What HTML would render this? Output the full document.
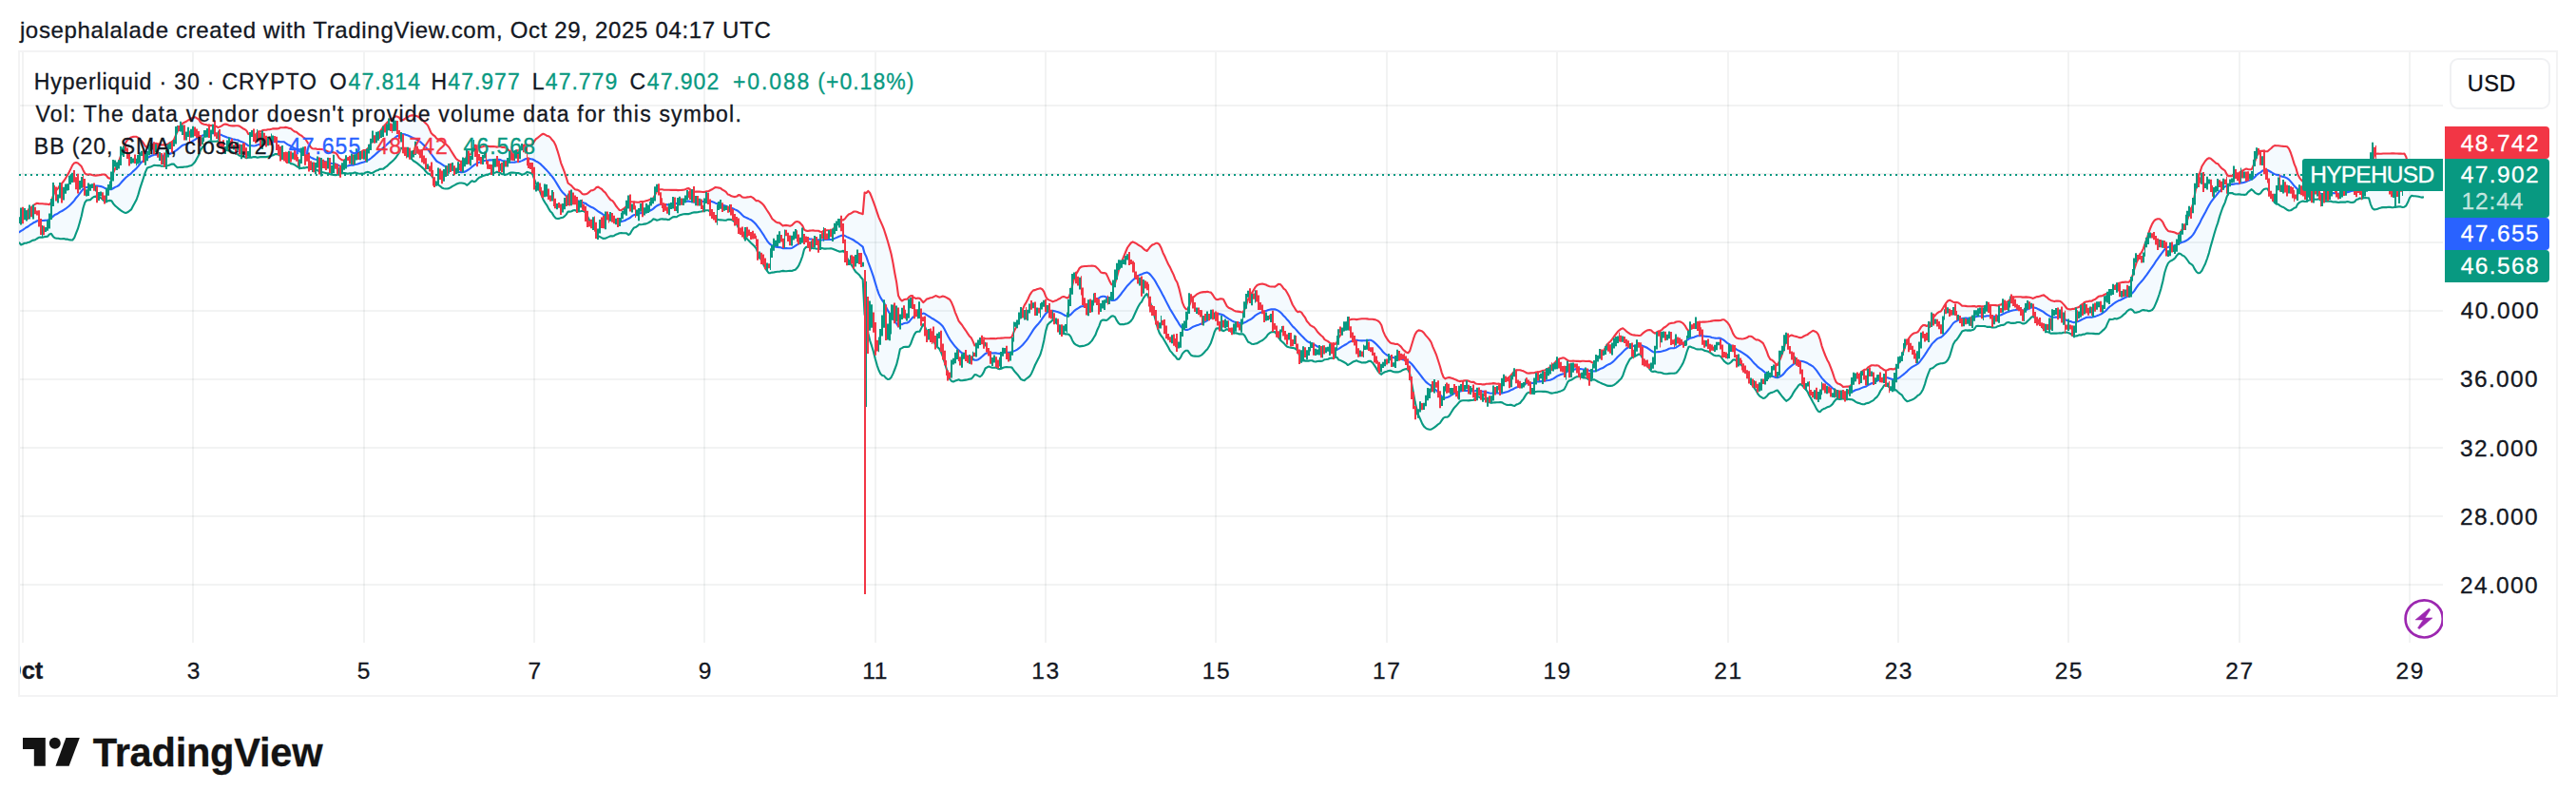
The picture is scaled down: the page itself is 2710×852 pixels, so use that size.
<!DOCTYPE html>
<html><head><meta charset="utf-8"><title>HYPEHUSD chart</title>
<style>
html,body{margin:0;padding:0;background:#fff}
body{width:2710px;height:852px;position:relative;overflow:hidden;font-family:"Liberation Sans",sans-serif}
.t{position:absolute;white-space:pre;display:block;-webkit-text-stroke:0.3px currentColor}
.frame{position:absolute;left:19px;top:53px;width:2668px;height:676px;border:2px solid #f3f3f4}
svg{position:absolute;left:0;top:0}
.tag{position:absolute;left:2572px;width:110px;border-radius:0 4px 4px 0}
.usd{position:absolute;left:2577px;top:61px;width:102px;height:50px;border:2px solid #f0f1f3;border-radius:9px;background:#fff}
.oct{position:absolute;left:21px;top:680px;width:60px;height:50px;overflow:hidden}
</style></head><body>
<div class="frame"></div>
<svg width="2710" height="852" viewBox="0 0 2710 852">
<g><rect x="23.0" y="55" width="2" height="621" fill="rgba(42,46,57,0.06)"/><rect x="202.0" y="55" width="2" height="621" fill="rgba(42,46,57,0.06)"/><rect x="382.0" y="55" width="2" height="621" fill="rgba(42,46,57,0.06)"/><rect x="561.0" y="55" width="2" height="621" fill="rgba(42,46,57,0.06)"/><rect x="740.0" y="55" width="2" height="621" fill="rgba(42,46,57,0.06)"/><rect x="920.0" y="55" width="2" height="621" fill="rgba(42,46,57,0.06)"/><rect x="1099.0" y="55" width="2" height="621" fill="rgba(42,46,57,0.06)"/><rect x="1278.0" y="55" width="2" height="621" fill="rgba(42,46,57,0.06)"/><rect x="1458.0" y="55" width="2" height="621" fill="rgba(42,46,57,0.06)"/><rect x="1637.0" y="55" width="2" height="621" fill="rgba(42,46,57,0.06)"/><rect x="1817.0" y="55" width="2" height="621" fill="rgba(42,46,57,0.06)"/><rect x="1996.0" y="55" width="2" height="621" fill="rgba(42,46,57,0.06)"/><rect x="2175.0" y="55" width="2" height="621" fill="rgba(42,46,57,0.06)"/><rect x="2355.0" y="55" width="2" height="621" fill="rgba(42,46,57,0.06)"/><rect x="2534.0" y="55" width="2" height="621" fill="rgba(42,46,57,0.06)"/><rect x="21" y="110" width="2549" height="2" fill="rgba(42,46,57,0.06)"/><rect x="21" y="182" width="2549" height="2" fill="rgba(42,46,57,0.06)"/><rect x="21" y="254" width="2549" height="2" fill="rgba(42,46,57,0.06)"/><rect x="21" y="326" width="2549" height="2" fill="rgba(42,46,57,0.06)"/><rect x="21" y="398" width="2549" height="2" fill="rgba(42,46,57,0.06)"/><rect x="21" y="470" width="2549" height="2" fill="rgba(42,46,57,0.06)"/><rect x="21" y="542" width="2549" height="2" fill="rgba(42,46,57,0.06)"/><rect x="21" y="614" width="2549" height="2" fill="rgba(42,46,57,0.06)"/></g>
<clipPath id="cp"><rect x="20" y="55" width="2550" height="621"/></clipPath>
<g clip-path="url(#cp)">
<path d="M-28.3,238.2 L-26.4,238.9 L-24.6,239.9 L-22.7,241.1 L-20.8,243.7 L-19.0,245.1 L-17.1,246.2 L-15.2,245.6 L-13.4,246.5 L-11.5,247.2 L-9.6,246.5 L-7.8,245.6 L-5.9,246.2 L-4.0,245.1 L-2.2,243.7 L-0.3,241.1 L1.6,239.9 L3.4,238.9 L5.3,238.2 L7.2,236.4 L9.1,236.5 L10.9,236.2 L12.8,235.8 L14.7,236.7 L16.5,236.5 L18.4,234.7 L20.3,233.0 L22.1,228.4 L24.0,226.9 L25.9,225.2 L27.7,222.7 L29.6,221.5 L31.5,218.9 L33.3,217.9 L35.2,216.0 L37.1,214.7 L38.9,213.8 L40.8,214.1 L42.7,214.3 L44.6,214.2 L46.4,214.5 L48.3,214.6 L50.2,214.7 L52.0,215.1 L53.9,212.8 L55.8,206.4 L57.6,201.6 L59.5,199.9 L61.4,197.6 L63.2,194.5 L65.1,192.9 L67.0,190.5 L68.8,187.8 L70.7,184.7 L72.6,181.2 L74.4,177.6 L76.3,173.6 L78.2,171.4 L80.0,170.9 L81.9,171.5 L83.8,173.2 L85.7,175.1 L87.5,178.9 L89.4,182.4 L91.3,183.6 L93.1,183.5 L95.0,183.4 L96.9,184.0 L98.7,184.5 L100.6,184.6 L102.5,184.4 L104.3,184.2 L106.2,183.9 L108.1,183.5 L109.9,183.5 L111.8,184.7 L113.7,187.0 L115.5,187.8 L117.4,187.0 L119.3,181.5 L121.2,177.3 L123.0,174.2 L124.9,170.3 L126.8,164.6 L128.6,159.1 L130.5,154.0 L132.4,149.7 L134.2,147.2 L136.1,145.7 L138.0,144.4 L139.8,143.9 L141.7,143.7 L143.6,143.8 L145.4,144.8 L147.3,146.7 L149.2,148.3 L151.0,150.7 L152.9,153.7 L154.8,155.5 L156.6,154.5 L158.5,152.9 L160.4,152.2 L162.3,151.6 L164.1,150.8 L166.0,151.2 L167.9,151.8 L169.7,152.4 L171.6,152.4 L173.5,152.4 L175.3,152.2 L177.2,151.2 L179.1,150.0 L180.9,149.1 L182.8,147.4 L184.7,142.8 L186.5,138.6 L188.4,135.5 L190.3,132.6 L192.1,129.7 L194.0,128.8 L195.9,127.8 L197.8,126.5 L199.6,125.6 L201.5,124.5 L203.4,123.6 L205.2,123.2 L207.1,124.3 L209.0,125.5 L210.8,128.5 L212.7,130.1 L214.6,130.7 L216.4,131.0 L218.3,131.6 L220.2,131.9 L222.0,132.1 L223.9,131.7 L225.8,132.2 L227.6,133.0 L229.5,134.1 L231.4,133.3 L233.2,132.3 L235.1,131.1 L237.0,130.6 L238.9,130.9 L240.7,131.8 L242.6,132.3 L244.5,132.4 L246.3,132.4 L248.2,132.2 L250.1,132.2 L251.9,132.6 L253.8,133.8 L255.7,135.2 L257.5,136.0 L259.4,137.5 L261.3,141.0 L263.1,141.2 L265.0,141.0 L266.9,142.1 L268.7,141.6 L270.6,139.6 L272.5,138.4 L274.4,138.3 L276.2,137.1 L278.1,136.8 L280.0,136.8 L281.8,136.3 L283.7,136.2 L285.6,135.8 L287.4,135.3 L289.3,135.4 L291.2,135.4 L293.0,135.2 L294.9,134.3 L296.8,134.3 L298.6,134.2 L300.5,133.9 L302.4,134.2 L304.2,134.9 L306.1,135.2 L308.0,137.0 L309.9,138.4 L311.7,138.7 L313.6,140.4 L315.5,141.9 L317.3,142.8 L319.2,144.5 L321.1,145.9 L322.9,148.7 L324.8,151.6 L326.7,154.4 L328.5,156.2 L330.4,156.5 L332.3,156.4 L334.1,157.0 L336.0,156.9 L337.9,157.0 L339.7,157.1 L341.6,158.2 L343.5,158.6 L345.3,159.5 L347.2,159.8 L349.1,160.3 L351.0,160.4 L352.8,160.7 L354.7,162.5 L356.6,166.0 L358.4,167.3 L360.3,168.5 L362.2,168.3 L364.0,167.1 L365.9,166.2 L367.8,165.9 L369.6,165.2 L371.5,165.5 L373.4,164.6 L375.2,163.2 L377.1,161.9 L379.0,160.3 L380.8,159.2 L382.7,158.0 L384.6,158.0 L386.5,156.7 L388.3,154.5 L390.2,150.8 L392.1,148.0 L393.9,146.2 L395.8,143.5 L397.7,140.8 L399.5,138.8 L401.4,136.2 L403.3,133.1 L405.1,131.4 L407.0,129.2 L408.9,127.3 L410.7,125.8 L412.6,124.8 L414.5,123.5 L416.3,122.3 L418.2,122.8 L420.1,123.8 L421.9,126.2 L423.8,126.3 L425.7,125.3 L427.6,123.5 L429.4,122.9 L431.3,121.7 L433.2,121.4 L435.0,121.4 L436.9,121.7 L438.8,122.2 L440.6,123.4 L442.5,124.4 L444.4,126.0 L446.2,128.1 L448.1,129.9 L450.0,131.9 L451.8,135.8 L453.7,140.1 L455.6,142.0 L457.4,143.1 L459.3,145.6 L461.2,146.7 L463.1,147.7 L464.9,148.3 L466.8,150.2 L468.7,151.3 L470.5,153.1 L472.4,155.0 L474.3,158.3 L476.1,161.1 L478.0,164.1 L479.9,167.0 L481.7,168.4 L483.6,169.5 L485.5,169.7 L487.3,169.2 L489.2,168.1 L491.1,164.2 L492.9,163.2 L494.8,162.5 L496.7,160.3 L498.5,156.6 L500.4,154.7 L502.3,154.8 L504.2,154.7 L506.0,154.6 L507.9,154.2 L509.8,153.4 L511.6,153.6 L513.5,153.7 L515.4,154.1 L517.2,154.1 L519.1,154.1 L521.0,154.2 L522.8,154.6 L524.7,154.2 L526.6,154.2 L528.4,154.9 L530.3,155.0 L532.2,155.4 L534.0,157.0 L535.9,158.8 L537.8,159.8 L539.7,160.0 L541.5,159.5 L543.4,158.4 L545.3,158.4 L547.1,157.1 L549.0,154.5 L550.9,153.1 L552.7,152.0 L554.6,152.6 L556.5,152.5 L558.3,152.4 L560.2,152.0 L562.1,148.5 L563.9,146.2 L565.8,144.8 L567.7,143.2 L569.5,141.7 L571.4,140.7 L573.3,141.5 L575.1,142.7 L577.0,143.2 L578.9,144.5 L580.8,147.1 L582.6,148.9 L584.5,152.7 L586.4,158.3 L588.2,164.3 L590.1,171.3 L592.0,176.2 L593.8,180.9 L595.7,186.7 L597.6,192.7 L599.4,194.0 L601.3,195.4 L603.2,197.6 L605.0,199.2 L606.9,199.6 L608.8,200.3 L610.6,201.7 L612.5,203.9 L614.4,204.4 L616.3,204.2 L618.1,203.5 L620.0,201.9 L621.9,200.3 L623.7,200.2 L625.6,199.1 L627.5,197.0 L629.3,196.6 L631.2,197.9 L633.1,199.0 L634.9,201.2 L636.8,202.6 L638.7,205.5 L640.5,208.0 L642.4,210.2 L644.3,211.1 L646.1,213.4 L648.0,216.5 L649.9,218.9 L651.7,221.0 L653.6,221.2 L655.5,219.9 L657.4,218.7 L659.2,216.5 L661.1,213.0 L663.0,212.2 L664.8,212.3 L666.7,212.5 L668.6,212.5 L670.4,212.7 L672.3,212.8 L674.2,212.1 L676.0,212.0 L677.9,211.7 L679.8,211.2 L681.6,210.7 L683.5,210.0 L685.4,209.2 L687.2,208.7 L689.1,205.1 L691.0,201.3 L692.9,199.7 L694.7,199.3 L696.6,199.3 L698.5,199.7 L700.3,199.7 L702.2,199.7 L704.1,199.7 L705.9,199.9 L707.8,199.8 L709.7,199.9 L711.5,199.9 L713.4,200.1 L715.3,200.0 L717.1,199.9 L719.0,199.7 L720.9,199.3 L722.7,198.4 L724.6,198.1 L726.5,199.6 L728.3,200.8 L730.2,201.8 L732.1,201.6 L734.0,201.6 L735.8,201.6 L737.7,201.7 L739.6,202.0 L741.4,201.9 L743.3,201.2 L745.2,201.2 L747.0,200.3 L748.9,199.3 L750.8,198.1 L752.6,197.0 L754.5,197.2 L756.4,197.6 L758.2,198.1 L760.1,199.6 L762.0,200.7 L763.8,201.9 L765.7,204.5 L767.6,205.1 L769.5,206.3 L771.3,206.7 L773.2,207.1 L775.1,206.6 L776.9,205.1 L778.8,205.4 L780.7,207.2 L782.5,207.8 L784.4,207.7 L786.3,207.4 L788.1,207.2 L790.0,206.8 L791.9,207.9 L793.7,209.4 L795.6,211.3 L797.5,211.0 L799.3,212.2 L801.2,213.6 L803.1,215.4 L805.0,218.2 L806.8,221.0 L808.7,223.8 L810.6,227.1 L812.4,230.2 L814.3,231.8 L816.2,233.4 L818.0,234.2 L819.9,234.4 L821.8,235.9 L823.6,237.6 L825.5,237.1 L827.4,236.9 L829.2,237.3 L831.1,237.7 L833.0,237.1 L834.8,235.3 L836.7,233.5 L838.6,233.0 L840.4,233.4 L842.3,235.1 L844.2,237.2 L846.1,241.7 L847.9,242.6 L849.8,243.0 L851.7,242.6 L853.5,242.5 L855.4,242.4 L857.3,242.7 L859.1,242.7 L861.0,242.7 L862.9,243.7 L864.7,244.0 L866.6,242.7 L868.5,242.3 L870.3,242.2 L872.2,242.2 L874.1,242.8 L875.9,241.7 L877.8,239.4 L879.7,236.8 L881.6,234.5 L883.4,232.0 L885.3,231.2 L887.2,231.4 L889.0,230.0 L890.9,227.4 L892.8,225.5 L894.6,224.8 L896.5,223.7 L898.4,222.5 L900.2,222.5 L902.1,223.0 L904.0,224.1 L905.8,224.6 L907.7,225.2 L909.6,202.6 L911.4,203.0 L913.3,200.9 L915.2,203.0 L917.0,207.4 L918.9,212.4 L920.8,217.7 L922.7,223.4 L924.5,228.6 L926.4,232.9 L928.3,237.1 L930.1,241.7 L932.0,247.6 L933.9,253.8 L935.7,260.1 L937.6,267.3 L939.5,276.8 L941.3,287.3 L943.2,297.1 L945.1,311.1 L946.9,314.6 L948.8,316.5 L950.7,315.3 L952.5,314.7 L954.4,314.6 L956.3,312.3 L958.2,311.0 L960.0,311.7 L961.9,313.2 L963.8,313.9 L965.6,313.5 L967.5,313.7 L969.4,315.8 L971.2,318.2 L973.1,316.4 L975.0,314.5 L976.8,314.1 L978.7,313.2 L980.6,313.0 L982.4,312.1 L984.3,311.1 L986.2,311.7 L988.0,312.6 L989.9,312.3 L991.8,311.5 L993.6,312.0 L995.5,312.9 L997.4,314.0 L999.3,315.2 L1001.1,318.3 L1003.0,322.9 L1004.9,328.6 L1006.7,332.8 L1008.6,337.6 L1010.5,340.0 L1012.3,342.2 L1014.2,345.2 L1016.1,347.8 L1017.9,350.6 L1019.8,353.4 L1021.7,355.2 L1023.5,358.9 L1025.4,363.5 L1027.3,363.2 L1029.1,361.0 L1031.0,357.5 L1032.9,355.7 L1034.8,355.5 L1036.6,356.2 L1038.5,356.2 L1040.4,356.2 L1042.2,356.0 L1044.1,356.1 L1046.0,356.1 L1047.8,356.2 L1049.7,355.8 L1051.6,355.7 L1053.4,355.6 L1055.3,355.5 L1057.2,355.2 L1059.0,355.2 L1060.9,355.2 L1062.8,355.2 L1064.6,354.1 L1066.5,349.3 L1068.4,345.4 L1070.2,341.6 L1072.1,336.2 L1074.0,330.1 L1075.9,325.6 L1077.7,321.1 L1079.6,318.1 L1081.5,314.5 L1083.3,310.3 L1085.2,307.4 L1087.1,305.4 L1088.9,305.1 L1090.8,304.3 L1092.7,303.8 L1094.5,303.3 L1096.4,304.2 L1098.3,306.8 L1100.1,311.7 L1102.0,314.7 L1103.9,315.6 L1105.7,316.4 L1107.6,317.4 L1109.5,316.6 L1111.4,316.0 L1113.2,314.8 L1115.1,314.0 L1117.0,312.5 L1118.8,312.0 L1120.7,312.6 L1122.6,313.5 L1124.4,312.6 L1126.3,308.0 L1128.2,299.9 L1130.0,293.1 L1131.9,288.6 L1133.8,285.4 L1135.6,282.1 L1137.5,280.6 L1139.4,280.3 L1141.2,280.0 L1143.1,280.0 L1145.0,279.7 L1146.8,279.7 L1148.7,279.6 L1150.6,279.7 L1152.5,280.2 L1154.3,281.9 L1156.2,283.9 L1158.1,286.5 L1159.9,287.1 L1161.8,287.1 L1163.7,287.8 L1165.5,291.4 L1167.4,295.8 L1169.3,299.2 L1171.1,299.6 L1173.0,298.1 L1174.9,291.7 L1176.7,285.0 L1178.6,279.3 L1180.5,274.2 L1182.3,269.6 L1184.2,265.0 L1186.1,260.5 L1188.0,257.8 L1189.8,255.5 L1191.7,254.4 L1193.6,255.2 L1195.4,256.1 L1197.3,257.5 L1199.2,258.7 L1201.0,259.7 L1202.9,261.6 L1204.8,263.1 L1206.6,264.0 L1208.5,261.7 L1210.4,259.2 L1212.2,257.6 L1214.1,256.9 L1216.0,255.8 L1217.8,255.8 L1219.7,257.2 L1221.6,260.8 L1223.4,265.7 L1225.3,269.5 L1227.2,273.8 L1229.1,278.0 L1230.9,281.1 L1232.8,285.3 L1234.7,289.1 L1236.5,294.0 L1238.4,297.0 L1240.3,303.1 L1242.1,310.5 L1244.0,318.4 L1245.9,322.8 L1247.7,325.2 L1249.6,325.1 L1251.5,320.6 L1253.3,315.9 L1255.2,312.9 L1257.1,311.2 L1258.9,309.7 L1260.8,308.6 L1262.7,307.7 L1264.6,307.4 L1266.4,307.1 L1268.3,307.1 L1270.2,306.7 L1272.0,307.2 L1273.9,307.6 L1275.8,310.0 L1277.6,313.0 L1279.5,314.9 L1281.4,315.1 L1283.2,314.4 L1285.1,314.3 L1287.0,314.7 L1288.8,318.3 L1290.7,322.0 L1292.6,323.8 L1294.4,324.5 L1296.3,325.4 L1298.2,326.6 L1300.1,327.5 L1301.9,327.6 L1303.8,327.9 L1305.7,328.3 L1307.5,328.5 L1309.4,325.5 L1311.3,320.3 L1313.1,314.6 L1315.0,312.1 L1316.9,308.4 L1318.7,305.4 L1320.6,302.1 L1322.5,300.0 L1324.3,299.3 L1326.2,298.7 L1328.1,298.5 L1329.9,299.0 L1331.8,299.5 L1333.7,300.6 L1335.5,301.2 L1337.4,301.5 L1339.3,301.5 L1341.2,301.6 L1343.0,300.4 L1344.9,298.9 L1346.8,299.0 L1348.6,300.9 L1350.5,303.6 L1352.4,305.0 L1354.2,308.0 L1356.1,311.4 L1358.0,316.1 L1359.8,320.5 L1361.7,323.5 L1363.6,326.6 L1365.4,328.2 L1367.3,327.6 L1369.2,328.6 L1371.0,331.3 L1372.9,333.8 L1374.8,337.7 L1376.7,339.9 L1378.5,342.1 L1380.4,343.2 L1382.3,344.1 L1384.1,346.1 L1386.0,349.0 L1387.9,350.9 L1389.7,352.7 L1391.6,354.2 L1393.5,357.1 L1395.3,358.1 L1397.2,359.1 L1399.1,360.8 L1400.9,361.5 L1402.8,361.4 L1404.7,362.0 L1406.5,359.8 L1408.4,355.1 L1410.3,352.1 L1412.1,348.8 L1414.0,345.7 L1415.9,342.6 L1417.8,338.0 L1419.6,336.4 L1421.5,335.9 L1423.4,335.8 L1425.2,335.8 L1427.1,336.1 L1429.0,335.7 L1430.8,335.5 L1432.7,335.3 L1434.6,335.3 L1436.4,335.3 L1438.3,335.4 L1440.2,335.8 L1442.0,335.8 L1443.9,335.7 L1445.8,336.1 L1447.6,336.6 L1449.5,337.4 L1451.4,339.0 L1453.3,342.0 L1455.1,348.4 L1457.0,352.7 L1458.9,355.9 L1460.7,358.6 L1462.6,360.5 L1464.5,361.2 L1466.3,361.4 L1468.2,362.0 L1470.1,361.8 L1471.9,363.0 L1473.8,364.6 L1475.7,367.2 L1477.5,368.9 L1479.4,370.6 L1481.3,371.3 L1483.1,369.2 L1485.0,363.0 L1486.9,356.7 L1488.7,351.6 L1490.6,348.7 L1492.5,347.4 L1494.4,347.8 L1496.2,348.4 L1498.1,350.3 L1500.0,352.9 L1501.8,354.9 L1503.7,357.1 L1505.6,360.0 L1507.4,364.8 L1509.3,369.1 L1511.2,373.7 L1513.0,379.3 L1514.9,385.3 L1516.8,392.1 L1518.6,396.8 L1520.5,398.4 L1522.4,397.4 L1524.2,397.0 L1526.1,397.4 L1528.0,398.0 L1529.9,398.8 L1531.7,399.4 L1533.6,400.5 L1535.5,401.1 L1537.3,400.8 L1539.2,400.6 L1541.1,400.3 L1542.9,400.4 L1544.8,400.6 L1546.7,401.5 L1548.5,401.9 L1550.4,401.9 L1552.3,403.4 L1554.1,403.8 L1556.0,404.0 L1557.9,404.0 L1559.7,404.4 L1561.6,404.4 L1563.5,403.8 L1565.3,403.8 L1567.2,403.6 L1569.1,403.5 L1571.0,403.1 L1572.8,403.4 L1574.7,403.7 L1576.6,403.6 L1578.4,404.2 L1580.3,403.8 L1582.2,401.1 L1584.0,399.3 L1585.9,397.8 L1587.8,396.8 L1589.6,394.7 L1591.5,392.5 L1593.4,389.9 L1595.2,389.4 L1597.1,389.2 L1599.0,389.2 L1600.8,389.8 L1602.7,390.3 L1604.6,391.4 L1606.5,392.5 L1608.3,392.6 L1610.2,392.4 L1612.1,392.2 L1613.9,392.2 L1615.8,391.6 L1617.7,391.2 L1619.5,391.0 L1621.4,390.4 L1623.3,389.8 L1625.1,389.4 L1627.0,388.4 L1628.9,387.5 L1630.7,386.0 L1632.6,384.5 L1634.5,382.8 L1636.3,380.9 L1638.2,378.6 L1640.1,377.6 L1641.9,376.9 L1643.8,376.4 L1645.7,376.5 L1647.6,377.9 L1649.4,379.2 L1651.3,379.8 L1653.2,379.7 L1655.0,379.6 L1656.9,379.7 L1658.8,379.9 L1660.6,379.9 L1662.5,380.1 L1664.4,379.8 L1666.2,379.7 L1668.1,380.0 L1670.0,380.0 L1671.8,379.7 L1673.7,380.5 L1675.6,381.6 L1677.4,381.3 L1679.3,379.3 L1681.2,377.1 L1683.1,373.9 L1684.9,371.5 L1686.8,369.3 L1688.7,365.9 L1690.5,362.6 L1692.4,360.6 L1694.3,359.0 L1696.1,356.7 L1698.0,354.0 L1699.9,351.5 L1701.7,349.1 L1703.6,347.3 L1705.5,345.9 L1707.3,345.3 L1709.2,346.8 L1711.1,348.6 L1712.9,349.8 L1714.8,351.2 L1716.7,352.0 L1718.5,352.4 L1720.4,352.6 L1722.3,352.7 L1724.2,353.0 L1726.0,352.7 L1727.9,350.9 L1729.8,349.4 L1731.6,348.1 L1733.5,347.2 L1735.4,347.0 L1737.2,347.6 L1739.1,349.4 L1741.0,350.7 L1742.8,349.5 L1744.7,348.4 L1746.6,348.3 L1748.4,346.8 L1750.3,344.7 L1752.2,343.7 L1754.0,342.2 L1755.9,340.4 L1757.8,339.9 L1759.7,339.7 L1761.5,339.5 L1763.4,338.5 L1765.3,338.2 L1767.1,338.3 L1769.0,339.0 L1770.9,340.3 L1772.7,342.6 L1774.6,345.9 L1776.5,348.5 L1778.3,346.5 L1780.2,344.9 L1782.1,343.5 L1783.9,340.9 L1785.8,339.1 L1787.7,338.9 L1789.5,338.7 L1791.4,338.6 L1793.3,338.6 L1795.2,338.5 L1797.0,338.3 L1798.9,338.0 L1800.8,337.6 L1802.6,337.2 L1804.5,337.1 L1806.4,337.1 L1808.2,337.1 L1810.1,337.0 L1812.0,336.3 L1813.8,336.2 L1815.7,337.7 L1817.6,339.6 L1819.4,342.1 L1821.3,346.2 L1823.2,350.9 L1825.0,353.8 L1826.9,355.5 L1828.8,356.1 L1830.6,356.3 L1832.5,356.5 L1834.4,356.3 L1836.3,355.7 L1838.1,355.1 L1840.0,353.7 L1841.9,353.8 L1843.7,354.5 L1845.6,356.2 L1847.5,357.5 L1849.3,357.4 L1851.2,358.3 L1853.1,359.6 L1854.9,361.1 L1856.8,365.1 L1858.7,369.7 L1860.5,374.8 L1862.4,378.0 L1864.3,378.8 L1866.1,380.4 L1868.0,382.7 L1869.9,384.1 L1871.8,380.1 L1873.6,375.8 L1875.5,370.5 L1877.4,364.0 L1879.2,357.5 L1881.1,354.8 L1883.0,353.2 L1884.8,352.5 L1886.7,353.3 L1888.6,353.7 L1890.4,354.1 L1892.3,354.9 L1894.2,355.3 L1896.0,354.7 L1897.9,353.5 L1899.8,352.6 L1901.6,351.9 L1903.5,350.3 L1905.4,349.0 L1907.2,347.8 L1909.1,348.5 L1911.0,349.4 L1912.9,351.9 L1914.7,356.8 L1916.6,364.1 L1918.5,369.3 L1920.3,374.0 L1922.2,378.4 L1924.1,381.8 L1925.9,386.3 L1927.8,391.4 L1929.7,397.3 L1931.5,401.7 L1933.4,403.5 L1935.3,404.0 L1937.1,405.1 L1939.0,406.9 L1940.9,406.7 L1942.7,406.6 L1944.6,406.6 L1946.5,406.0 L1948.4,404.0 L1950.2,401.3 L1952.1,398.1 L1954.0,395.9 L1955.8,394.6 L1957.7,392.1 L1959.6,390.0 L1961.4,388.8 L1963.3,388.6 L1965.2,386.4 L1967.0,385.3 L1968.9,384.3 L1970.8,384.2 L1972.6,384.5 L1974.5,384.3 L1976.4,384.7 L1978.2,386.5 L1980.1,387.6 L1982.0,389.1 L1983.8,389.7 L1985.7,389.3 L1987.6,388.3 L1989.5,388.1 L1991.3,388.4 L1993.2,388.3 L1995.1,386.5 L1996.9,383.2 L1998.8,379.6 L2000.7,375.3 L2002.5,369.6 L2004.4,363.9 L2006.3,359.2 L2008.1,355.9 L2010.0,353.3 L2011.9,351.5 L2013.7,350.4 L2015.6,350.0 L2017.5,349.3 L2019.3,346.9 L2021.2,343.8 L2023.1,342.1 L2025.0,342.0 L2026.8,343.0 L2028.7,342.0 L2030.6,341.1 L2032.4,336.2 L2034.3,333.6 L2036.2,331.3 L2038.0,329.4 L2039.9,328.1 L2041.8,327.5 L2043.6,324.9 L2045.5,321.5 L2047.4,318.6 L2049.2,316.5 L2051.1,315.6 L2053.0,316.7 L2054.8,317.7 L2056.7,318.1 L2058.6,318.1 L2060.4,318.6 L2062.3,319.9 L2064.2,321.7 L2066.1,321.8 L2067.9,321.9 L2069.8,322.2 L2071.7,322.2 L2073.5,322.2 L2075.4,322.1 L2077.3,322.0 L2079.1,322.7 L2081.0,322.1 L2082.9,322.0 L2084.7,322.4 L2086.6,322.3 L2088.5,322.1 L2090.3,320.6 L2092.2,320.9 L2094.1,321.1 L2095.9,321.0 L2097.8,321.0 L2099.7,321.1 L2101.6,321.5 L2103.4,320.8 L2105.3,320.4 L2107.2,318.6 L2109.0,317.8 L2110.9,317.8 L2112.8,317.0 L2114.6,314.9 L2116.5,313.5 L2118.4,312.7 L2120.2,312.3 L2122.1,312.2 L2124.0,312.2 L2125.8,312.2 L2127.7,312.6 L2129.6,312.6 L2131.4,312.4 L2133.3,312.6 L2135.2,312.8 L2137.0,313.3 L2138.9,313.9 L2140.8,313.0 L2142.7,312.1 L2144.5,312.1 L2146.4,311.4 L2148.3,310.7 L2150.1,310.4 L2152.0,311.9 L2153.9,313.2 L2155.7,314.9 L2157.6,315.9 L2159.5,316.6 L2161.3,317.1 L2163.2,316.6 L2165.1,316.5 L2166.9,316.7 L2168.8,317.9 L2170.7,319.9 L2172.5,322.0 L2174.4,324.5 L2176.3,325.2 L2178.2,325.4 L2180.0,324.9 L2181.9,325.0 L2183.8,324.0 L2185.6,323.5 L2187.5,322.8 L2189.4,320.6 L2191.2,319.6 L2193.1,317.9 L2195.0,317.2 L2196.8,317.1 L2198.7,316.5 L2200.6,316.7 L2202.4,315.4 L2204.3,314.8 L2206.2,313.1 L2208.0,311.7 L2209.9,311.4 L2211.8,311.2 L2213.7,310.0 L2215.5,309.1 L2217.4,309.6 L2219.3,309.7 L2221.1,306.9 L2223.0,304.1 L2224.9,301.9 L2226.7,299.3 L2228.6,298.0 L2230.5,297.4 L2232.3,296.9 L2234.2,296.9 L2236.1,296.5 L2237.9,296.8 L2239.8,296.6 L2241.7,294.2 L2243.5,290.0 L2245.4,283.0 L2247.3,277.1 L2249.1,272.3 L2251.0,268.4 L2252.9,265.4 L2254.8,261.7 L2256.6,256.4 L2258.5,251.2 L2260.4,245.2 L2262.2,240.0 L2264.1,235.6 L2266.0,232.5 L2267.8,230.9 L2269.7,230.3 L2271.6,230.2 L2273.4,231.3 L2275.3,233.7 L2277.2,237.7 L2279.0,240.7 L2280.9,242.9 L2282.8,243.4 L2284.6,243.7 L2286.5,244.1 L2288.4,244.7 L2290.3,245.7 L2292.1,245.8 L2294.0,244.1 L2295.9,240.7 L2297.7,238.9 L2299.6,235.2 L2301.5,230.3 L2303.3,224.6 L2305.2,220.4 L2307.1,214.2 L2308.9,204.9 L2310.8,195.1 L2312.7,187.2 L2314.5,180.9 L2316.4,175.0 L2318.3,172.0 L2320.1,169.2 L2322.0,167.2 L2323.9,166.2 L2325.7,166.8 L2327.6,168.4 L2329.5,170.0 L2331.4,171.7 L2333.2,172.2 L2335.1,174.6 L2337.0,176.8 L2338.8,178.1 L2340.7,179.5 L2342.6,183.3 L2344.4,185.3 L2346.3,184.9 L2348.2,185.1 L2350.0,183.2 L2351.9,182.1 L2353.8,182.3 L2355.6,181.9 L2357.5,180.3 L2359.4,179.6 L2361.2,178.4 L2363.1,177.5 L2365.0,178.1 L2366.9,178.2 L2368.7,178.1 L2370.6,174.3 L2372.5,168.9 L2374.3,164.1 L2376.2,160.5 L2378.1,159.4 L2379.9,158.6 L2381.8,159.0 L2383.7,159.2 L2385.5,159.2 L2387.4,157.5 L2389.3,156.0 L2391.1,154.2 L2393.0,153.1 L2394.9,153.2 L2396.7,153.3 L2398.6,153.5 L2400.5,153.7 L2402.3,153.9 L2404.2,154.0 L2406.1,154.3 L2408.0,156.4 L2409.8,160.5 L2411.7,166.2 L2413.6,172.4 L2415.4,176.6 L2417.3,183.6 L2419.2,187.1 L2421.0,189.3 L2422.9,191.2 L2424.8,191.1 L2426.6,191.1 L2428.5,191.5 L2430.4,191.7 L2432.2,191.8 L2434.1,194.4 L2436.0,194.7 L2437.8,195.3 L2439.7,196.9 L2441.6,196.5 L2443.5,196.7 L2445.3,197.3 L2447.2,197.2 L2449.1,197.2 L2450.9,196.9 L2452.8,195.2 L2454.7,193.7 L2456.5,194.1 L2458.4,194.3 L2460.3,194.4 L2462.1,194.0 L2464.0,193.3 L2465.9,193.3 L2467.7,192.9 L2469.6,192.2 L2471.5,190.9 L2473.3,189.0 L2475.2,188.8 L2477.1,188.7 L2478.9,189.6 L2480.8,189.7 L2482.7,190.1 L2484.6,190.0 L2486.4,190.3 L2488.3,189.9 L2490.2,189.3 L2492.0,189.6 L2493.9,179.5 L2495.8,170.3 L2497.6,164.3 L2499.5,161.7 L2501.4,161.6 L2503.2,161.7 L2505.1,161.7 L2507.0,161.5 L2508.8,161.5 L2510.7,161.5 L2512.6,161.5 L2514.4,161.5 L2516.3,161.4 L2518.2,161.4 L2520.1,161.5 L2521.9,161.5 L2523.8,161.6 L2525.7,161.5 L2527.5,161.7 L2529.4,161.6 L2531.3,165.1 L2533.1,171.7 L2535.0,178.8 L2536.9,182.4 L2538.7,181.4 L2540.6,179.8 L2542.5,178.6 L2544.3,177.4 L2546.2,175.5 L2548.1,174.2 L2549.9,173.6 L2549.9,207.2 L2548.1,207.6 L2546.2,207.3 L2544.3,206.8 L2542.5,206.5 L2540.6,206.2 L2538.7,206.1 L2536.9,205.8 L2535.0,208.2 L2533.1,212.8 L2531.3,216.3 L2529.4,217.7 L2527.5,218.0 L2525.7,217.4 L2523.8,217.2 L2521.9,217.6 L2520.1,217.6 L2518.2,218.1 L2516.3,218.3 L2514.4,217.9 L2512.6,217.8 L2510.7,218.1 L2508.8,218.1 L2507.0,218.1 L2505.1,218.4 L2503.2,218.9 L2501.4,219.7 L2499.5,220.2 L2497.6,220.4 L2495.8,219.1 L2493.9,214.8 L2492.0,208.2 L2490.2,208.3 L2488.3,208.0 L2486.4,208.2 L2484.6,209.1 L2482.7,208.4 L2480.8,209.5 L2478.9,210.1 L2477.1,212.2 L2475.2,212.9 L2473.3,213.0 L2471.5,212.5 L2469.6,212.0 L2467.7,212.6 L2465.9,212.5 L2464.0,212.6 L2462.1,212.6 L2460.3,213.0 L2458.4,212.6 L2456.5,212.4 L2454.7,212.5 L2452.8,211.9 L2450.9,211.5 L2449.1,211.8 L2447.2,211.6 L2445.3,211.6 L2443.5,211.2 L2441.6,211.1 L2439.7,209.3 L2437.8,209.6 L2436.0,209.7 L2434.1,209.6 L2432.2,211.1 L2430.4,210.0 L2428.5,210.9 L2426.6,211.9 L2424.8,212.0 L2422.9,211.6 L2421.0,212.1 L2419.2,212.9 L2417.3,214.6 L2415.4,218.2 L2413.6,218.7 L2411.7,220.3 L2409.8,221.3 L2408.0,221.5 L2406.1,220.7 L2404.2,219.3 L2402.3,218.0 L2400.5,217.4 L2398.6,216.4 L2396.7,214.8 L2394.9,214.6 L2393.0,213.2 L2391.1,210.2 L2389.3,206.1 L2387.4,202.4 L2385.5,198.5 L2383.7,198.5 L2381.8,199.0 L2379.9,200.8 L2378.1,203.3 L2376.2,204.4 L2374.3,203.7 L2372.5,202.9 L2370.6,200.8 L2368.7,199.2 L2366.9,200.6 L2365.0,202.1 L2363.1,204.5 L2361.2,204.9 L2359.4,204.7 L2357.5,204.6 L2355.6,204.2 L2353.8,204.4 L2351.9,204.5 L2350.0,204.0 L2348.2,203.0 L2346.3,203.1 L2344.4,203.3 L2342.6,207.1 L2340.7,213.1 L2338.8,217.2 L2337.0,222.0 L2335.1,227.6 L2333.2,234.4 L2331.4,239.5 L2329.5,245.7 L2327.6,252.5 L2325.7,259.1 L2323.9,266.1 L2322.0,272.0 L2320.1,277.2 L2318.3,280.9 L2316.4,284.8 L2314.5,286.9 L2312.7,287.3 L2310.8,286.0 L2308.9,283.2 L2307.1,279.6 L2305.2,277.8 L2303.3,276.6 L2301.5,274.0 L2299.6,271.4 L2297.7,269.4 L2295.9,268.6 L2294.0,267.0 L2292.1,266.6 L2290.3,268.4 L2288.4,271.2 L2286.5,272.9 L2284.6,274.0 L2282.8,274.9 L2280.9,276.9 L2279.0,281.2 L2277.2,287.0 L2275.3,296.0 L2273.4,303.6 L2271.6,309.5 L2269.7,315.0 L2267.8,319.6 L2266.0,323.7 L2264.1,326.0 L2262.2,326.9 L2260.4,327.2 L2258.5,326.5 L2256.6,326.4 L2254.8,326.1 L2252.9,326.6 L2251.0,327.7 L2249.1,328.2 L2247.3,328.8 L2245.4,328.6 L2243.5,326.2 L2241.7,325.3 L2239.8,325.8 L2237.9,327.1 L2236.1,329.4 L2234.2,330.8 L2232.3,332.7 L2230.5,334.0 L2228.6,334.7 L2226.7,335.5 L2224.9,335.0 L2223.0,335.7 L2221.1,336.0 L2219.3,335.7 L2217.4,339.6 L2215.5,344.2 L2213.7,346.4 L2211.8,347.9 L2209.9,349.7 L2208.0,351.2 L2206.2,351.0 L2204.3,351.1 L2202.4,350.9 L2200.6,350.7 L2198.7,350.7 L2196.8,350.6 L2195.0,350.6 L2193.1,351.7 L2191.2,351.6 L2189.4,352.5 L2187.5,352.3 L2185.6,353.1 L2183.8,353.5 L2181.9,353.6 L2180.0,352.8 L2178.2,350.9 L2176.3,350.2 L2174.4,349.6 L2172.5,349.8 L2170.7,349.8 L2168.8,350.5 L2166.9,350.4 L2165.1,350.5 L2163.2,350.6 L2161.3,350.5 L2159.5,350.6 L2157.6,350.8 L2155.7,349.5 L2153.9,349.2 L2152.0,347.7 L2150.1,346.5 L2148.3,343.7 L2146.4,341.0 L2144.5,338.4 L2142.7,336.6 L2140.8,334.6 L2138.9,332.8 L2137.0,333.7 L2135.2,335.8 L2133.3,337.5 L2131.4,339.5 L2129.6,340.4 L2127.7,340.4 L2125.8,339.3 L2124.0,339.0 L2122.1,339.0 L2120.2,339.8 L2118.4,339.9 L2116.5,339.9 L2114.6,339.6 L2112.8,339.0 L2110.9,339.5 L2109.0,341.3 L2107.2,341.9 L2105.3,342.0 L2103.4,342.8 L2101.6,343.2 L2099.7,344.3 L2097.8,344.5 L2095.9,344.4 L2094.1,343.9 L2092.2,343.7 L2090.3,343.9 L2088.5,343.1 L2086.6,343.0 L2084.7,343.0 L2082.9,343.0 L2081.0,342.9 L2079.1,343.0 L2077.3,345.8 L2075.4,347.1 L2073.5,347.6 L2071.7,347.4 L2069.8,347.6 L2067.9,347.2 L2066.1,347.8 L2064.2,348.5 L2062.3,351.6 L2060.4,354.6 L2058.6,357.2 L2056.7,358.9 L2054.8,362.3 L2053.0,368.4 L2051.1,374.7 L2049.2,378.5 L2047.4,380.7 L2045.5,381.8 L2043.6,382.1 L2041.8,382.2 L2039.9,382.7 L2038.0,383.4 L2036.2,384.7 L2034.3,386.3 L2032.4,387.6 L2030.6,388.1 L2028.7,392.6 L2026.8,397.8 L2025.0,404.1 L2023.1,409.4 L2021.2,412.8 L2019.3,415.1 L2017.5,416.0 L2015.6,417.9 L2013.7,419.3 L2011.9,420.3 L2010.0,421.1 L2008.1,421.7 L2006.3,422.1 L2004.4,420.6 L2002.5,418.3 L2000.7,415.3 L1998.8,414.1 L1996.9,412.5 L1995.1,410.7 L1993.2,409.6 L1991.3,409.7 L1989.5,409.0 L1987.6,407.5 L1985.7,405.4 L1983.8,404.7 L1982.0,405.5 L1980.1,408.7 L1978.2,411.2 L1976.4,415.0 L1974.5,417.6 L1972.6,419.1 L1970.8,421.1 L1968.9,422.1 L1967.0,423.2 L1965.2,423.9 L1963.3,424.3 L1961.4,425.2 L1959.6,425.3 L1957.7,424.7 L1955.8,424.0 L1954.0,423.6 L1952.1,422.6 L1950.2,421.2 L1948.4,420.3 L1946.5,420.1 L1944.6,419.9 L1942.7,420.0 L1940.9,420.1 L1939.0,419.2 L1937.1,419.7 L1935.3,420.0 L1933.4,419.5 L1931.5,420.1 L1929.7,422.2 L1927.8,425.1 L1925.9,426.8 L1924.1,427.8 L1922.2,428.3 L1920.3,429.4 L1918.5,430.1 L1916.6,431.1 L1914.7,433.2 L1912.9,432.7 L1911.0,430.1 L1909.1,426.2 L1907.2,423.0 L1905.4,419.6 L1903.5,416.2 L1901.6,412.1 L1899.8,409.7 L1897.9,407.7 L1896.0,405.3 L1894.2,404.0 L1892.3,405.1 L1890.4,407.9 L1888.6,410.2 L1886.7,413.1 L1884.8,416.7 L1883.0,419.0 L1881.1,420.7 L1879.2,421.8 L1877.4,420.0 L1875.5,417.8 L1873.6,415.3 L1871.8,413.0 L1869.9,410.5 L1868.0,411.1 L1866.1,412.1 L1864.3,412.9 L1862.4,413.3 L1860.5,414.5 L1858.7,416.8 L1856.8,418.4 L1854.9,419.0 L1853.1,417.8 L1851.2,416.6 L1849.3,414.4 L1847.5,410.8 L1845.6,408.2 L1843.7,405.7 L1841.9,402.0 L1840.0,398.6 L1838.1,393.7 L1836.3,390.4 L1834.4,387.3 L1832.5,384.8 L1830.6,382.7 L1828.8,381.1 L1826.9,379.7 L1825.0,378.2 L1823.2,378.5 L1821.3,380.7 L1819.4,382.3 L1817.6,382.7 L1815.7,381.5 L1813.8,379.9 L1812.0,377.5 L1810.1,374.9 L1808.2,374.1 L1806.4,374.2 L1804.5,374.1 L1802.6,373.4 L1800.8,372.1 L1798.9,370.7 L1797.0,369.8 L1795.2,369.2 L1793.3,368.9 L1791.4,367.8 L1789.5,367.3 L1787.7,367.5 L1785.8,367.4 L1783.9,366.9 L1782.1,366.1 L1780.2,365.5 L1778.3,364.6 L1776.5,364.8 L1774.6,370.0 L1772.7,376.4 L1770.9,381.2 L1769.0,384.8 L1767.1,387.8 L1765.3,390.2 L1763.4,392.2 L1761.5,392.6 L1759.7,392.7 L1757.8,392.7 L1755.9,392.9 L1754.0,393.2 L1752.2,393.2 L1750.3,393.0 L1748.4,392.3 L1746.6,391.7 L1744.7,391.7 L1742.8,391.2 L1741.0,390.5 L1739.1,390.9 L1737.2,390.4 L1735.4,388.2 L1733.5,385.3 L1731.6,382.4 L1729.8,379.7 L1727.9,376.8 L1726.0,373.2 L1724.2,372.5 L1722.3,373.5 L1720.4,374.7 L1718.5,375.4 L1716.7,376.1 L1714.8,377.6 L1712.9,381.1 L1711.1,384.4 L1709.2,389.4 L1707.3,394.9 L1705.5,398.2 L1703.6,400.0 L1701.7,401.9 L1699.9,403.5 L1698.0,404.9 L1696.1,405.7 L1694.3,405.9 L1692.4,405.9 L1690.5,405.6 L1688.7,404.7 L1686.8,404.1 L1684.9,403.2 L1683.1,402.4 L1681.2,401.5 L1679.3,400.4 L1677.4,399.4 L1675.6,399.3 L1673.7,399.9 L1671.8,399.7 L1670.0,398.1 L1668.1,397.4 L1666.2,397.3 L1664.4,396.9 L1662.5,396.0 L1660.6,396.3 L1658.8,396.3 L1656.9,397.1 L1655.0,398.3 L1653.2,399.6 L1651.3,400.2 L1649.4,401.6 L1647.6,405.6 L1645.7,409.4 L1643.8,410.6 L1641.9,411.4 L1640.1,411.9 L1638.2,412.7 L1636.3,412.9 L1634.5,413.3 L1632.6,413.6 L1630.7,413.4 L1628.9,412.5 L1627.0,412.1 L1625.1,411.7 L1623.3,411.9 L1621.4,411.8 L1619.5,411.7 L1617.7,411.7 L1615.8,412.0 L1613.9,412.9 L1612.1,413.7 L1610.2,413.2 L1608.3,412.8 L1606.5,413.6 L1604.6,416.4 L1602.7,419.6 L1600.8,421.8 L1599.0,424.0 L1597.1,424.9 L1595.2,425.6 L1593.4,427.0 L1591.5,426.4 L1589.6,425.7 L1587.8,425.9 L1585.9,426.0 L1584.0,425.4 L1582.2,424.6 L1580.3,423.4 L1578.4,423.1 L1576.6,423.3 L1574.7,423.3 L1572.8,423.4 L1571.0,423.5 L1569.1,423.8 L1567.2,423.4 L1565.3,422.0 L1563.5,421.0 L1561.6,419.4 L1559.7,419.1 L1557.9,418.8 L1556.0,417.5 L1554.1,417.3 L1552.3,418.6 L1550.4,420.8 L1548.5,421.0 L1546.7,421.1 L1544.8,421.4 L1542.9,421.3 L1541.1,421.3 L1539.2,421.3 L1537.3,421.5 L1535.5,422.6 L1533.6,424.8 L1531.7,427.1 L1529.9,428.9 L1528.0,431.7 L1526.1,434.8 L1524.2,437.6 L1522.4,438.8 L1520.5,438.8 L1518.6,439.6 L1516.8,442.2 L1514.9,445.0 L1513.0,446.3 L1511.2,447.9 L1509.3,449.4 L1507.4,450.7 L1505.6,451.7 L1503.7,451.8 L1501.8,451.3 L1500.0,450.3 L1498.1,448.6 L1496.2,445.6 L1494.4,441.4 L1492.5,437.1 L1490.6,431.0 L1488.7,423.1 L1486.9,413.2 L1485.0,402.7 L1483.1,392.9 L1481.3,388.8 L1479.4,388.0 L1477.5,388.6 L1475.7,389.2 L1473.8,390.5 L1471.9,391.1 L1470.1,391.4 L1468.2,391.4 L1466.3,391.2 L1464.5,390.5 L1462.6,389.7 L1460.7,390.1 L1458.9,390.8 L1457.0,391.3 L1455.1,392.2 L1453.3,393.8 L1451.4,392.6 L1449.5,390.1 L1447.6,386.9 L1445.8,384.2 L1443.9,381.5 L1442.0,379.9 L1440.2,379.7 L1438.3,380.7 L1436.4,381.4 L1434.6,381.2 L1432.7,381.5 L1430.8,380.8 L1429.0,380.3 L1427.1,379.2 L1425.2,379.9 L1423.4,380.6 L1421.5,381.9 L1419.6,383.1 L1417.8,384.0 L1415.9,382.1 L1414.0,381.0 L1412.1,380.0 L1410.3,379.1 L1408.4,378.6 L1406.5,375.9 L1404.7,375.4 L1402.8,377.1 L1400.9,376.6 L1399.1,376.7 L1397.2,377.7 L1395.3,378.0 L1393.5,378.2 L1391.6,379.5 L1389.7,379.9 L1387.9,379.7 L1386.0,380.0 L1384.1,380.5 L1382.3,380.3 L1380.4,379.3 L1378.5,379.3 L1376.7,379.6 L1374.8,379.4 L1372.9,379.6 L1371.0,378.1 L1369.2,377.4 L1367.3,374.5 L1365.4,369.7 L1363.6,367.2 L1361.7,366.3 L1359.8,365.9 L1358.0,365.6 L1356.1,365.2 L1354.2,364.7 L1352.4,363.1 L1350.5,360.9 L1348.6,359.2 L1346.8,357.5 L1344.9,354.9 L1343.0,351.5 L1341.2,349.1 L1339.3,349.3 L1337.4,349.3 L1335.5,350.4 L1333.7,352.1 L1331.8,354.8 L1329.9,356.5 L1328.1,358.0 L1326.2,358.9 L1324.3,360.0 L1322.5,361.1 L1320.6,361.5 L1318.7,362.0 L1316.9,361.8 L1315.0,360.5 L1313.1,359.7 L1311.3,356.6 L1309.4,353.1 L1307.5,351.3 L1305.7,351.4 L1303.8,351.4 L1301.9,350.7 L1300.1,350.4 L1298.2,350.3 L1296.3,349.9 L1294.4,348.3 L1292.6,347.0 L1290.7,346.2 L1288.8,347.4 L1287.0,348.2 L1285.1,347.0 L1283.2,346.5 L1281.4,345.2 L1279.5,345.6 L1277.6,349.2 L1275.8,355.2 L1273.9,360.7 L1272.0,364.2 L1270.2,367.2 L1268.3,369.1 L1266.4,371.3 L1264.6,373.1 L1262.7,374.2 L1260.8,374.8 L1258.9,374.8 L1257.1,374.6 L1255.2,374.5 L1253.3,373.8 L1251.5,371.6 L1249.6,368.8 L1247.7,368.7 L1245.9,369.9 L1244.0,371.9 L1242.1,375.8 L1240.3,378.0 L1238.4,377.6 L1236.5,374.9 L1234.7,373.4 L1232.8,370.9 L1230.9,368.9 L1229.1,365.3 L1227.2,362.0 L1225.3,358.7 L1223.4,355.4 L1221.6,353.3 L1219.7,350.1 L1217.8,344.8 L1216.0,337.9 L1214.1,330.7 L1212.2,325.0 L1210.4,319.0 L1208.5,313.1 L1206.6,309.0 L1204.8,310.8 L1202.9,313.6 L1201.0,317.5 L1199.2,319.4 L1197.3,322.8 L1195.4,326.8 L1193.6,330.8 L1191.7,335.0 L1189.8,337.6 L1188.0,339.2 L1186.1,340.2 L1184.2,340.6 L1182.3,341.3 L1180.5,341.1 L1178.6,341.3 L1176.7,339.9 L1174.9,337.2 L1173.0,333.4 L1171.1,332.3 L1169.3,332.6 L1167.4,334.3 L1165.5,336.1 L1163.7,337.0 L1161.8,336.6 L1159.9,336.5 L1158.1,337.9 L1156.2,343.1 L1154.3,347.2 L1152.5,352.1 L1150.6,355.3 L1148.7,358.4 L1146.8,360.4 L1145.0,362.0 L1143.1,362.8 L1141.2,363.4 L1139.4,363.9 L1137.5,364.1 L1135.6,364.4 L1133.8,363.5 L1131.9,362.6 L1130.0,361.1 L1128.2,358.2 L1126.3,353.9 L1124.4,351.8 L1122.6,351.4 L1120.7,351.5 L1118.8,349.5 L1117.0,347.0 L1115.1,343.9 L1113.2,341.8 L1111.4,339.5 L1109.5,337.8 L1107.6,336.5 L1105.7,338.3 L1103.9,339.7 L1102.0,341.8 L1100.1,348.4 L1098.3,357.9 L1096.4,366.3 L1094.5,372.8 L1092.7,376.6 L1090.8,380.3 L1088.9,384.0 L1087.1,388.4 L1085.2,392.7 L1083.3,395.7 L1081.5,397.1 L1079.6,398.5 L1077.7,400.1 L1075.9,399.8 L1074.0,398.9 L1072.1,396.2 L1070.2,393.7 L1068.4,391.8 L1066.5,389.5 L1064.6,386.6 L1062.8,386.2 L1060.9,386.3 L1059.0,386.0 L1057.2,386.3 L1055.3,386.8 L1053.4,387.7 L1051.6,388.1 L1049.7,387.7 L1047.8,386.6 L1046.0,386.7 L1044.1,386.8 L1042.2,386.2 L1040.4,385.5 L1038.5,386.3 L1036.6,387.5 L1034.8,391.6 L1032.9,394.8 L1031.0,396.3 L1029.1,395.4 L1027.3,394.3 L1025.4,394.1 L1023.5,396.7 L1021.7,398.4 L1019.8,398.7 L1017.9,399.3 L1016.1,399.6 L1014.2,399.9 L1012.3,400.3 L1010.5,400.2 L1008.6,399.3 L1006.7,399.9 L1004.9,400.6 L1003.0,401.5 L1001.1,400.9 L999.3,398.9 L997.4,393.4 L995.5,387.2 L993.6,380.6 L991.8,374.9 L989.9,370.2 L988.0,366.6 L986.2,365.1 L984.3,363.2 L982.4,359.4 L980.6,356.9 L978.7,354.0 L976.8,350.9 L975.0,348.1 L973.1,343.9 L971.2,341.0 L969.4,344.9 L967.5,348.7 L965.6,348.8 L963.8,349.2 L961.9,351.9 L960.0,356.4 L958.2,361.4 L956.3,364.7 L954.4,364.9 L952.5,364.9 L950.7,365.0 L948.8,366.1 L946.9,367.1 L945.1,375.7 L943.2,383.4 L941.3,388.5 L939.5,393.1 L937.6,396.9 L935.7,398.8 L933.9,399.0 L932.0,397.6 L930.1,395.3 L928.3,395.0 L926.4,393.2 L924.5,389.5 L922.7,384.3 L920.8,377.5 L918.9,369.9 L917.0,363.7 L915.2,358.3 L913.3,350.2 L911.4,337.2 L909.6,330.6 L907.7,294.0 L905.8,291.8 L904.0,289.2 L902.1,287.5 L900.2,285.9 L898.4,283.1 L896.5,279.8 L894.6,276.9 L892.8,274.4 L890.9,270.7 L889.0,266.1 L887.2,263.8 L885.3,264.4 L883.4,264.8 L881.6,264.1 L879.7,263.3 L877.8,262.5 L875.9,261.7 L874.1,261.2 L872.2,261.5 L870.3,261.5 L868.5,261.6 L866.6,261.6 L864.7,261.1 L862.9,261.2 L861.0,261.7 L859.1,261.7 L857.3,261.3 L855.4,261.2 L853.5,260.4 L851.7,260.2 L849.8,259.4 L847.9,260.0 L846.1,262.1 L844.2,269.5 L842.3,274.6 L840.4,279.2 L838.6,281.8 L836.7,283.8 L834.8,284.3 L833.0,285.0 L831.1,284.9 L829.2,285.0 L827.4,285.2 L825.5,285.1 L823.6,284.9 L821.8,285.2 L819.9,285.7 L818.0,285.8 L816.2,286.0 L814.3,286.4 L812.4,286.6 L810.6,287.1 L808.7,287.2 L806.8,284.7 L805.0,281.8 L803.1,278.1 L801.2,274.4 L799.3,270.2 L797.5,266.6 L795.6,261.3 L793.7,259.0 L791.9,257.3 L790.0,255.5 L788.1,253.5 L786.3,251.6 L784.4,249.5 L782.5,247.6 L780.7,244.7 L778.8,242.5 L776.9,239.7 L775.1,235.9 L773.2,233.7 L771.3,232.1 L769.5,231.1 L767.6,230.9 L765.7,230.9 L763.8,231.7 L762.0,231.7 L760.1,231.5 L758.2,231.4 L756.4,231.3 L754.5,230.9 L752.6,230.5 L750.8,227.2 L748.9,224.7 L747.0,222.8 L745.2,221.3 L743.3,221.2 L741.4,221.4 L739.6,221.9 L737.7,222.5 L735.8,222.7 L734.0,223.2 L732.1,223.4 L730.2,223.4 L728.3,223.7 L726.5,224.4 L724.6,225.1 L722.7,225.1 L720.9,225.0 L719.0,225.2 L717.1,225.7 L715.3,226.3 L713.4,227.1 L711.5,228.3 L709.7,228.1 L707.8,228.4 L705.9,229.6 L704.1,230.9 L702.2,231.1 L700.3,230.5 L698.5,230.6 L696.6,230.4 L694.7,230.5 L692.9,231.3 L691.0,231.7 L689.1,230.8 L687.2,230.4 L685.4,232.4 L683.5,233.5 L681.6,234.6 L679.8,235.4 L677.9,235.6 L676.0,236.0 L674.2,236.2 L672.3,236.1 L670.4,237.9 L668.6,239.1 L666.7,239.8 L664.8,242.5 L663.0,245.8 L661.1,247.0 L659.2,245.4 L657.4,245.3 L655.5,245.2 L653.6,245.0 L651.7,245.2 L649.9,246.0 L648.0,246.7 L646.1,247.9 L644.3,248.4 L642.4,248.3 L640.5,249.1 L638.7,249.9 L636.8,250.7 L634.9,250.9 L633.1,250.2 L631.2,249.1 L629.3,248.2 L627.5,245.0 L625.6,240.1 L623.7,236.6 L621.9,235.2 L620.0,231.5 L618.1,227.8 L616.3,224.1 L614.4,222.3 L612.5,221.7 L610.6,222.2 L608.8,222.5 L606.9,222.3 L605.0,221.0 L603.2,221.3 L601.3,222.2 L599.4,222.6 L597.6,222.5 L595.7,225.6 L593.8,227.6 L592.0,228.8 L590.1,229.1 L588.2,229.9 L586.4,230.0 L584.5,229.4 L582.6,227.1 L580.8,224.1 L578.9,222.3 L577.0,219.1 L575.1,215.6 L573.3,213.0 L571.4,209.7 L569.5,205.2 L567.7,200.4 L565.8,196.2 L563.9,193.1 L562.1,188.5 L560.2,183.1 L558.3,182.1 L556.5,181.4 L554.6,180.9 L552.7,182.5 L550.9,183.3 L549.0,183.6 L547.1,182.7 L545.3,182.0 L543.4,182.0 L541.5,181.7 L539.7,181.5 L537.8,181.6 L535.9,182.1 L534.0,183.2 L532.2,183.7 L530.3,183.5 L528.4,183.3 L526.6,182.1 L524.7,181.6 L522.8,180.7 L521.0,181.6 L519.1,182.4 L517.2,182.6 L515.4,182.6 L513.5,183.6 L511.6,183.7 L509.8,184.6 L507.9,185.1 L506.0,186.1 L504.2,186.8 L502.3,188.4 L500.4,190.6 L498.5,191.2 L496.7,190.2 L494.8,191.6 L492.9,193.6 L491.1,194.8 L489.2,193.2 L487.3,192.7 L485.5,192.5 L483.6,192.5 L481.7,193.0 L479.9,193.8 L478.0,194.9 L476.1,195.9 L474.3,197.0 L472.4,198.1 L470.5,198.5 L468.7,198.5 L466.8,198.2 L464.9,197.6 L463.1,195.8 L461.2,194.5 L459.3,193.3 L457.4,190.9 L455.6,187.1 L453.7,183.9 L451.8,183.1 L450.0,182.5 L448.1,180.5 L446.2,178.0 L444.4,176.4 L442.5,174.7 L440.6,173.1 L438.8,171.7 L436.9,170.3 L435.0,169.3 L433.2,167.4 L431.3,165.3 L429.4,162.4 L427.6,160.8 L425.7,157.3 L423.8,155.7 L421.9,155.9 L420.1,160.5 L418.2,163.1 L416.3,166.0 L414.5,167.9 L412.6,169.7 L410.7,171.4 L408.9,173.0 L407.0,174.9 L405.1,176.1 L403.3,177.6 L401.4,177.7 L399.5,177.9 L397.7,179.0 L395.8,179.6 L393.9,180.7 L392.1,181.8 L390.2,182.2 L388.3,181.2 L386.5,180.9 L384.6,181.4 L382.7,182.8 L380.8,182.5 L379.0,182.7 L377.1,182.5 L375.2,182.1 L373.4,181.4 L371.5,182.1 L369.6,182.2 L367.8,182.2 L365.9,182.7 L364.0,182.4 L362.2,182.1 L360.3,182.1 L358.4,182.5 L356.6,182.5 L354.7,184.0 L352.8,184.1 L351.0,183.9 L349.1,183.8 L347.2,183.3 L345.3,182.2 L343.5,182.3 L341.6,181.7 L339.7,181.3 L337.9,181.0 L336.0,180.9 L334.1,179.0 L332.3,179.0 L330.4,178.1 L328.5,176.3 L326.7,176.2 L324.8,176.1 L322.9,176.1 L321.1,176.6 L319.2,176.4 L317.3,176.9 L315.5,176.9 L313.6,175.9 L311.7,174.6 L309.9,173.4 L308.0,172.5 L306.1,172.1 L304.2,170.5 L302.4,169.6 L300.5,167.1 L298.6,164.3 L296.8,164.0 L294.9,164.1 L293.0,162.5 L291.2,162.1 L289.3,162.1 L287.4,163.3 L285.6,163.7 L283.7,164.4 L281.8,164.7 L280.0,165.1 L278.1,165.1 L276.2,165.1 L274.4,165.0 L272.5,165.4 L270.6,165.7 L268.7,165.1 L266.9,165.0 L265.0,165.6 L263.1,165.5 L261.3,165.6 L259.4,166.3 L257.5,165.3 L255.7,164.4 L253.8,164.0 L251.9,163.7 L250.1,162.3 L248.2,161.8 L246.3,160.8 L244.5,160.0 L242.6,159.0 L240.7,158.4 L238.9,158.1 L237.0,157.1 L235.1,155.1 L233.2,152.0 L231.4,149.8 L229.5,148.3 L227.6,148.7 L225.8,148.8 L223.9,148.7 L222.0,148.6 L220.2,148.6 L218.3,149.7 L216.4,151.6 L214.6,153.3 L212.7,155.3 L210.8,158.2 L209.0,163.3 L207.1,166.7 L205.2,170.3 L203.4,172.2 L201.5,174.0 L199.6,174.5 L197.8,175.1 L195.9,175.4 L194.0,175.5 L192.1,175.9 L190.3,175.7 L188.4,176.0 L186.5,176.3 L184.7,174.6 L182.8,172.5 L180.9,172.6 L179.1,173.3 L177.2,174.0 L175.3,174.4 L173.5,175.0 L171.6,174.8 L169.7,174.7 L167.9,174.1 L166.0,174.1 L164.1,174.0 L162.3,173.8 L160.4,174.6 L158.5,175.6 L156.6,176.1 L154.8,176.8 L152.9,181.2 L151.0,187.0 L149.2,192.4 L147.3,198.1 L145.4,204.9 L143.6,210.0 L141.7,213.6 L139.8,216.9 L138.0,220.4 L136.1,221.9 L134.2,223.3 L132.4,223.9 L130.5,223.4 L128.6,222.4 L126.8,221.1 L124.9,219.6 L123.0,218.0 L121.2,216.5 L119.3,214.4 L117.4,211.3 L115.5,210.9 L113.7,211.2 L111.8,212.1 L109.9,211.9 L108.1,210.0 L106.2,208.2 L104.3,207.4 L102.5,206.9 L100.6,206.6 L98.7,207.0 L96.9,208.3 L95.0,210.2 L93.1,210.4 L91.3,210.5 L89.4,212.8 L87.5,218.8 L85.7,227.2 L83.8,234.2 L81.9,240.7 L80.0,245.4 L78.2,250.2 L76.3,252.5 L74.4,252.4 L72.6,252.2 L70.7,251.6 L68.8,251.6 L67.0,251.0 L65.1,251.2 L63.2,251.2 L61.4,250.7 L59.5,250.7 L57.6,250.3 L55.8,248.7 L53.9,245.8 L52.0,246.4 L50.2,248.7 L48.3,248.9 L46.4,249.3 L44.6,249.8 L42.7,249.5 L40.8,249.8 L38.9,251.0 L37.1,252.2 L35.2,252.6 L33.3,253.3 L31.5,254.4 L29.6,254.9 L27.7,255.7 L25.9,255.7 L24.0,256.7 L22.1,257.5 L20.3,255.3 L18.4,255.9 L16.5,256.4 L14.7,257.7 L12.8,260.1 L10.9,261.7 L9.1,263.3 L7.2,265.1 L5.3,265.9 L3.4,266.8 L1.6,267.4 L-0.3,267.9 L-2.2,266.9 L-4.0,266.6 L-5.9,266.2 L-7.8,266.5 L-9.6,266.2 L-11.5,265.9 L-13.4,266.2 L-15.2,266.5 L-17.1,266.2 L-19.0,266.6 L-20.8,266.9 L-22.7,267.9 L-24.6,267.4 L-26.4,266.8 L-28.3,265.9Z" fill="rgba(33,150,243,0.05)"/>
<line x1="20" y1="184" x2="2570" y2="184" stroke="#089981" stroke-width="2" stroke-dasharray="2 4"/>
<path d="M-28.3,252.0 L-26.4,252.8 L-24.6,253.6 L-22.7,254.5 L-20.8,255.3 L-19.0,255.8 L-17.1,256.2 L-15.2,256.1 L-13.4,256.3 L-11.5,256.6 L-9.6,256.3 L-7.8,256.1 L-5.9,256.2 L-4.0,255.8 L-2.2,255.3 L-0.3,254.5 L1.6,253.6 L3.4,252.8 L5.3,252.0 L7.2,250.7 L9.1,249.9 L10.9,249.0 L12.8,247.9 L14.7,247.2 L16.5,246.5 L18.4,245.3 L20.3,244.2 L22.1,242.9 L24.0,241.8 L25.9,240.5 L27.7,239.2 L29.6,238.2 L31.5,236.7 L33.3,235.6 L35.2,234.3 L37.1,233.5 L38.9,232.4 L40.8,232.0 L42.7,231.9 L44.6,232.0 L46.4,231.9 L48.3,231.7 L50.2,231.7 L52.0,230.7 L53.9,229.3 L55.8,227.6 L57.6,226.0 L59.5,225.3 L61.4,224.1 L63.2,222.9 L65.1,222.0 L67.0,220.8 L68.8,219.7 L70.7,218.2 L72.6,216.7 L74.4,215.0 L76.3,213.1 L78.2,210.8 L80.0,208.2 L81.9,206.1 L83.8,203.7 L85.7,201.1 L87.5,198.9 L89.4,197.6 L91.3,197.0 L93.1,197.0 L95.0,196.8 L96.9,196.1 L98.7,195.8 L100.6,195.6 L102.5,195.6 L104.3,195.8 L106.2,196.1 L108.1,196.7 L109.9,197.7 L111.8,198.4 L113.7,199.1 L115.5,199.3 L117.4,199.1 L119.3,198.0 L121.2,196.9 L123.0,196.1 L124.9,195.0 L126.8,192.9 L128.6,190.8 L130.5,188.7 L132.4,186.8 L134.2,185.3 L136.1,183.8 L138.0,182.4 L139.8,180.4 L141.7,178.7 L143.6,176.9 L145.4,174.9 L147.3,172.4 L149.2,170.3 L151.0,168.9 L152.9,167.5 L154.8,166.1 L156.6,165.3 L158.5,164.3 L160.4,163.4 L162.3,162.7 L164.1,162.4 L166.0,162.7 L167.9,163.0 L169.7,163.5 L171.6,163.6 L173.5,163.7 L175.3,163.3 L177.2,162.6 L179.1,161.7 L180.9,160.8 L182.8,159.9 L184.7,158.7 L186.5,157.4 L188.4,155.8 L190.3,154.2 L192.1,152.8 L194.0,152.2 L195.9,151.6 L197.8,150.8 L199.6,150.0 L201.5,149.3 L203.4,147.9 L205.2,146.8 L207.1,145.5 L209.0,144.4 L210.8,143.4 L212.7,142.7 L214.6,142.0 L216.4,141.3 L218.3,140.6 L220.2,140.3 L222.0,140.3 L223.9,140.2 L225.8,140.5 L227.6,140.8 L229.5,141.2 L231.4,141.5 L233.2,142.1 L235.1,143.1 L237.0,143.8 L238.9,144.5 L240.7,145.1 L242.6,145.6 L244.5,146.2 L246.3,146.6 L248.2,147.0 L250.1,147.3 L251.9,148.2 L253.8,148.9 L255.7,149.8 L257.5,150.7 L259.4,151.9 L261.3,153.3 L263.1,153.3 L265.0,153.3 L266.9,153.5 L268.7,153.3 L270.6,152.6 L272.5,151.9 L274.4,151.6 L276.2,151.1 L278.1,150.9 L280.0,150.9 L281.8,150.5 L283.7,150.3 L285.6,149.7 L287.4,149.3 L289.3,148.7 L291.2,148.8 L293.0,148.9 L294.9,149.2 L296.8,149.2 L298.6,149.2 L300.5,150.5 L302.4,151.9 L304.2,152.7 L306.1,153.6 L308.0,154.8 L309.9,155.9 L311.7,156.7 L313.6,158.2 L315.5,159.4 L317.3,159.9 L319.2,160.4 L321.1,161.2 L322.9,162.4 L324.8,163.9 L326.7,165.3 L328.5,166.3 L330.4,167.3 L332.3,167.7 L334.1,168.0 L336.0,168.9 L337.9,169.0 L339.7,169.2 L341.6,169.9 L343.5,170.5 L345.3,170.8 L347.2,171.6 L349.1,172.0 L351.0,172.2 L352.8,172.4 L354.7,173.3 L356.6,174.3 L358.4,174.9 L360.3,175.3 L362.2,175.2 L364.0,174.7 L365.9,174.5 L367.8,174.0 L369.6,173.7 L371.5,173.8 L373.4,173.0 L375.2,172.7 L377.1,172.2 L379.0,171.5 L380.8,170.9 L382.7,170.4 L384.6,169.7 L386.5,168.8 L388.3,167.9 L390.2,166.5 L392.1,164.9 L393.9,163.4 L395.8,161.6 L397.7,159.9 L399.5,158.4 L401.4,157.0 L403.3,155.4 L405.1,153.7 L407.0,152.0 L408.9,150.2 L410.7,148.6 L412.6,147.3 L414.5,145.7 L416.3,144.2 L418.2,143.0 L420.1,142.1 L421.9,141.0 L423.8,141.0 L425.7,141.3 L427.6,142.1 L429.4,142.6 L431.3,143.5 L433.2,144.4 L435.0,145.3 L436.9,146.0 L438.8,147.0 L440.6,148.3 L442.5,149.5 L444.4,151.2 L446.2,153.0 L448.1,155.2 L450.0,157.2 L451.8,159.4 L453.7,162.0 L455.6,164.6 L457.4,167.0 L459.3,169.5 L461.2,170.6 L463.1,171.7 L464.9,172.9 L466.8,174.2 L468.7,174.9 L470.5,175.8 L472.4,176.5 L474.3,177.6 L476.1,178.5 L478.0,179.5 L479.9,180.4 L481.7,180.7 L483.6,181.0 L485.5,181.1 L487.3,180.9 L489.2,180.6 L491.1,179.5 L492.9,178.4 L494.8,177.0 L496.7,175.3 L498.5,173.9 L500.4,172.7 L502.3,171.6 L504.2,170.7 L506.0,170.3 L507.9,169.7 L509.8,169.0 L511.6,168.7 L513.5,168.6 L515.4,168.4 L517.2,168.4 L519.1,168.3 L521.0,167.9 L522.8,167.7 L524.7,167.9 L526.6,168.1 L528.4,169.1 L530.3,169.2 L532.2,169.5 L534.0,170.1 L535.9,170.5 L537.8,170.7 L539.7,170.7 L541.5,170.6 L543.4,170.2 L545.3,170.2 L547.1,169.9 L549.0,169.1 L550.9,168.2 L552.7,167.3 L554.6,166.8 L556.5,166.9 L558.3,167.2 L560.2,167.5 L562.1,168.5 L563.9,169.6 L565.8,170.5 L567.7,171.8 L569.5,173.4 L571.4,175.2 L573.3,177.3 L575.1,179.1 L577.0,181.1 L578.9,183.4 L580.8,185.6 L582.6,188.0 L584.5,191.0 L586.4,194.1 L588.2,197.1 L590.1,200.2 L592.0,202.5 L593.8,204.3 L595.7,206.2 L597.6,207.6 L599.4,208.3 L601.3,208.8 L603.2,209.5 L605.0,210.1 L606.9,210.9 L608.8,211.4 L610.6,211.9 L612.5,212.8 L614.4,213.4 L616.3,214.1 L618.1,215.6 L620.0,216.7 L621.9,217.7 L623.7,218.4 L625.6,219.6 L627.5,221.0 L629.3,222.4 L631.2,223.5 L633.1,224.6 L634.9,226.0 L636.8,226.6 L638.7,227.7 L640.5,228.6 L642.4,229.3 L644.3,229.8 L646.1,230.7 L648.0,231.6 L649.9,232.5 L651.7,233.1 L653.6,233.1 L655.5,232.6 L657.4,232.0 L659.2,230.9 L661.1,230.0 L663.0,229.0 L664.8,227.4 L666.7,226.2 L668.6,225.8 L670.4,225.3 L672.3,224.5 L674.2,224.1 L676.0,224.0 L677.9,223.7 L679.8,223.3 L681.6,222.7 L683.5,221.8 L685.4,220.8 L687.2,219.6 L689.1,217.9 L691.0,216.5 L692.9,215.5 L694.7,214.9 L696.6,214.8 L698.5,215.2 L700.3,215.1 L702.2,215.4 L704.1,215.3 L705.9,214.8 L707.8,214.1 L709.7,214.0 L711.5,214.1 L713.4,213.6 L715.3,213.1 L717.1,212.8 L719.0,212.4 L720.9,212.2 L722.7,211.7 L724.6,211.6 L726.5,212.0 L728.3,212.2 L730.2,212.6 L732.1,212.5 L734.0,212.4 L735.8,212.2 L737.7,212.1 L739.6,212.0 L741.4,211.7 L743.3,211.2 L745.2,211.3 L747.0,211.6 L748.9,212.0 L750.8,212.7 L752.6,213.7 L754.5,214.1 L756.4,214.4 L758.2,214.7 L760.1,215.6 L762.0,216.2 L763.8,216.8 L765.7,217.7 L767.6,218.0 L769.5,218.7 L771.3,219.4 L773.2,220.4 L775.1,221.2 L776.9,222.4 L778.8,224.0 L780.7,226.0 L782.5,227.7 L784.4,228.6 L786.3,229.5 L788.1,230.4 L790.0,231.2 L791.9,232.6 L793.7,234.2 L795.6,236.3 L797.5,238.8 L799.3,241.2 L801.2,244.0 L803.1,246.8 L805.0,250.0 L806.8,252.8 L808.7,255.5 L810.6,257.1 L812.4,258.4 L814.3,259.1 L816.2,259.7 L818.0,260.0 L819.9,260.1 L821.8,260.6 L823.6,261.2 L825.5,261.1 L827.4,261.0 L829.2,261.2 L831.1,261.3 L833.0,261.0 L834.8,259.8 L836.7,258.6 L838.6,257.4 L840.4,256.3 L842.3,254.9 L844.2,253.3 L846.1,251.9 L847.9,251.3 L849.8,251.2 L851.7,251.4 L853.5,251.5 L855.4,251.8 L857.3,252.0 L859.1,252.2 L861.0,252.2 L862.9,252.4 L864.7,252.5 L866.6,252.1 L868.5,251.9 L870.3,251.9 L872.2,251.9 L874.1,252.0 L875.9,251.7 L877.8,250.9 L879.7,250.1 L881.6,249.3 L883.4,248.4 L885.3,247.8 L887.2,247.6 L889.0,248.1 L890.9,249.1 L892.8,250.0 L894.6,250.9 L896.5,251.8 L898.4,252.8 L900.2,254.2 L902.1,255.2 L904.0,256.7 L905.8,258.2 L907.7,259.6 L909.6,266.6 L911.4,270.1 L913.3,275.6 L915.2,280.7 L917.0,285.6 L918.9,291.1 L920.8,297.6 L922.7,303.8 L924.5,309.1 L926.4,313.1 L928.3,316.1 L930.1,318.5 L932.0,322.6 L933.9,326.4 L935.7,329.4 L937.6,332.1 L939.5,334.9 L941.3,337.9 L943.2,340.3 L945.1,343.4 L946.9,340.8 L948.8,341.3 L950.7,340.2 L952.5,339.8 L954.4,339.7 L956.3,338.5 L958.2,336.2 L960.0,334.1 L961.9,332.6 L963.8,331.6 L965.6,331.1 L967.5,331.2 L969.4,330.4 L971.2,329.6 L973.1,330.1 L975.0,331.3 L976.8,332.5 L978.7,333.6 L980.6,335.0 L982.4,335.8 L984.3,337.1 L986.2,338.4 L988.0,339.6 L989.9,341.2 L991.8,343.2 L993.6,346.3 L995.5,350.1 L997.4,353.7 L999.3,357.1 L1001.1,359.6 L1003.0,362.2 L1004.9,364.6 L1006.7,366.4 L1008.6,368.4 L1010.5,370.1 L1012.3,371.3 L1014.2,372.5 L1016.1,373.7 L1017.9,375.0 L1019.8,376.0 L1021.7,376.8 L1023.5,377.8 L1025.4,378.8 L1027.3,378.8 L1029.1,378.2 L1031.0,376.9 L1032.9,375.2 L1034.8,373.6 L1036.6,371.9 L1038.5,371.2 L1040.4,370.9 L1042.2,371.1 L1044.1,371.5 L1046.0,371.4 L1047.8,371.4 L1049.7,371.7 L1051.6,371.9 L1053.4,371.7 L1055.3,371.2 L1057.2,370.7 L1059.0,370.6 L1060.9,370.8 L1062.8,370.7 L1064.6,370.4 L1066.5,369.4 L1068.4,368.6 L1070.2,367.6 L1072.1,366.2 L1074.0,364.5 L1075.9,362.7 L1077.7,360.6 L1079.6,358.3 L1081.5,355.8 L1083.3,353.0 L1085.2,350.0 L1087.1,346.9 L1088.9,344.5 L1090.8,342.3 L1092.7,340.2 L1094.5,338.0 L1096.4,335.2 L1098.3,332.3 L1100.1,330.0 L1102.0,328.3 L1103.9,327.7 L1105.7,327.3 L1107.6,326.9 L1109.5,327.2 L1111.4,327.8 L1113.2,328.3 L1115.1,329.0 L1117.0,329.8 L1118.8,330.8 L1120.7,332.0 L1122.6,332.5 L1124.4,332.2 L1126.3,331.0 L1128.2,329.1 L1130.0,327.1 L1131.9,325.6 L1133.8,324.5 L1135.6,323.3 L1137.5,322.3 L1139.4,322.1 L1141.2,321.7 L1143.1,321.4 L1145.0,320.8 L1146.8,320.1 L1148.7,319.0 L1150.6,317.5 L1152.5,316.1 L1154.3,314.6 L1156.2,313.5 L1158.1,312.2 L1159.9,311.8 L1161.8,311.8 L1163.7,312.4 L1165.5,313.8 L1167.4,315.0 L1169.3,315.9 L1171.1,316.0 L1173.0,315.7 L1174.9,314.5 L1176.7,312.5 L1178.6,310.3 L1180.5,307.7 L1182.3,305.4 L1184.2,302.8 L1186.1,300.4 L1188.0,298.5 L1189.8,296.6 L1191.7,294.7 L1193.6,293.0 L1195.4,291.4 L1197.3,290.2 L1199.2,289.1 L1201.0,288.6 L1202.9,287.6 L1204.8,286.9 L1206.6,286.5 L1208.5,287.4 L1210.4,289.1 L1212.2,291.3 L1214.1,293.8 L1216.0,296.9 L1217.8,300.3 L1219.7,303.6 L1221.6,307.0 L1223.4,310.6 L1225.3,314.1 L1227.2,317.9 L1229.1,321.6 L1230.9,325.0 L1232.8,328.1 L1234.7,331.3 L1236.5,334.4 L1238.4,337.3 L1240.3,340.6 L1242.1,343.2 L1244.0,345.2 L1245.9,346.4 L1247.7,346.9 L1249.6,346.9 L1251.5,346.1 L1253.3,344.8 L1255.2,343.7 L1257.1,342.9 L1258.9,342.3 L1260.8,341.7 L1262.7,340.9 L1264.6,340.2 L1266.4,339.2 L1268.3,338.1 L1270.2,337.0 L1272.0,335.7 L1273.9,334.1 L1275.8,332.6 L1277.6,331.1 L1279.5,330.3 L1281.4,330.1 L1283.2,330.4 L1285.1,330.7 L1287.0,331.4 L1288.8,332.8 L1290.7,334.1 L1292.6,335.4 L1294.4,336.4 L1296.3,337.6 L1298.2,338.5 L1300.1,338.9 L1301.9,339.1 L1303.8,339.7 L1305.7,339.9 L1307.5,339.9 L1309.4,339.3 L1311.3,338.4 L1313.1,337.1 L1315.0,336.3 L1316.9,335.1 L1318.7,333.7 L1320.6,331.8 L1322.5,330.6 L1324.3,329.6 L1326.2,328.8 L1328.1,328.3 L1329.9,327.7 L1331.8,327.1 L1333.7,326.3 L1335.5,325.8 L1337.4,325.4 L1339.3,325.4 L1341.2,325.3 L1343.0,325.9 L1344.9,326.9 L1346.8,328.3 L1348.6,330.0 L1350.5,332.3 L1352.4,334.1 L1354.2,336.3 L1356.1,338.3 L1358.0,340.9 L1359.8,343.2 L1361.7,344.9 L1363.6,346.9 L1365.4,349.0 L1367.3,351.1 L1369.2,353.0 L1371.0,354.7 L1372.9,356.7 L1374.8,358.6 L1376.7,359.8 L1378.5,360.7 L1380.4,361.3 L1382.3,362.2 L1384.1,363.3 L1386.0,364.5 L1387.9,365.3 L1389.7,366.3 L1391.6,366.8 L1393.5,367.7 L1395.3,368.0 L1397.2,368.4 L1399.1,368.8 L1400.9,369.0 L1402.8,369.2 L1404.7,368.7 L1406.5,367.8 L1408.4,366.9 L1410.3,365.6 L1412.1,364.4 L1414.0,363.3 L1415.9,362.3 L1417.8,361.0 L1419.6,359.7 L1421.5,358.9 L1423.4,358.2 L1425.2,357.9 L1427.1,357.7 L1429.0,358.0 L1430.8,358.2 L1432.7,358.4 L1434.6,358.3 L1436.4,358.3 L1438.3,358.1 L1440.2,357.7 L1442.0,357.8 L1443.9,358.6 L1445.8,360.1 L1447.6,361.7 L1449.5,363.7 L1451.4,365.8 L1453.3,367.9 L1455.1,370.3 L1457.0,372.0 L1458.9,373.3 L1460.7,374.3 L1462.6,375.1 L1464.5,375.8 L1466.3,376.3 L1468.2,376.7 L1470.1,376.6 L1471.9,377.0 L1473.8,377.5 L1475.7,378.2 L1477.5,378.7 L1479.4,379.3 L1481.3,380.1 L1483.1,381.0 L1485.0,382.8 L1486.9,385.0 L1488.7,387.3 L1490.6,389.8 L1492.5,392.2 L1494.4,394.6 L1496.2,397.0 L1498.1,399.4 L1500.0,401.6 L1501.8,403.1 L1503.7,404.5 L1505.6,405.8 L1507.4,407.8 L1509.3,409.2 L1511.2,410.8 L1513.0,412.8 L1514.9,415.2 L1516.8,417.1 L1518.6,418.2 L1520.5,418.6 L1522.4,418.1 L1524.2,417.3 L1526.1,416.1 L1528.0,414.9 L1529.9,413.8 L1531.7,413.2 L1533.6,412.7 L1535.5,411.8 L1537.3,411.2 L1539.2,411.0 L1541.1,410.8 L1542.9,410.9 L1544.8,411.0 L1546.7,411.3 L1548.5,411.5 L1550.4,411.4 L1552.3,411.0 L1554.1,410.5 L1556.0,410.7 L1557.9,411.4 L1559.7,411.7 L1561.6,411.9 L1563.5,412.4 L1565.3,412.9 L1567.2,413.5 L1569.1,413.7 L1571.0,413.3 L1572.8,413.4 L1574.7,413.5 L1576.6,413.5 L1578.4,413.7 L1580.3,413.6 L1582.2,412.9 L1584.0,412.4 L1585.9,411.9 L1587.8,411.3 L1589.6,410.2 L1591.5,409.5 L1593.4,408.4 L1595.2,407.5 L1597.1,407.0 L1599.0,406.6 L1600.8,405.8 L1602.7,405.0 L1604.6,403.9 L1606.5,403.0 L1608.3,402.7 L1610.2,402.8 L1612.1,403.0 L1613.9,402.6 L1615.8,401.8 L1617.7,401.4 L1619.5,401.4 L1621.4,401.1 L1623.3,400.9 L1625.1,400.6 L1627.0,400.2 L1628.9,400.0 L1630.7,399.7 L1632.6,399.0 L1634.5,398.1 L1636.3,396.9 L1638.2,395.6 L1640.1,394.7 L1641.9,394.1 L1643.8,393.5 L1645.7,393.0 L1647.6,391.7 L1649.4,390.4 L1651.3,390.0 L1653.2,389.7 L1655.0,389.0 L1656.9,388.4 L1658.8,388.1 L1660.6,388.1 L1662.5,388.0 L1664.4,388.3 L1666.2,388.5 L1668.1,388.7 L1670.0,389.0 L1671.8,389.7 L1673.7,390.2 L1675.6,390.5 L1677.4,390.4 L1679.3,389.9 L1681.2,389.3 L1683.1,388.2 L1684.9,387.4 L1686.8,386.7 L1688.7,385.3 L1690.5,384.1 L1692.4,383.3 L1694.3,382.5 L1696.1,381.2 L1698.0,379.4 L1699.9,377.5 L1701.7,375.5 L1703.6,373.7 L1705.5,372.0 L1707.3,370.1 L1709.2,368.1 L1711.1,366.5 L1712.9,365.5 L1714.8,364.4 L1716.7,364.0 L1718.5,363.9 L1720.4,363.6 L1722.3,363.1 L1724.2,362.7 L1726.0,363.0 L1727.9,363.8 L1729.8,364.5 L1731.6,365.3 L1733.5,366.3 L1735.4,367.6 L1737.2,369.0 L1739.1,370.2 L1741.0,370.6 L1742.8,370.3 L1744.7,370.1 L1746.6,370.0 L1748.4,369.5 L1750.3,368.9 L1752.2,368.5 L1754.0,367.7 L1755.9,366.7 L1757.8,366.3 L1759.7,366.2 L1761.5,366.1 L1763.4,365.4 L1765.3,364.2 L1767.1,363.0 L1769.0,361.9 L1770.9,360.8 L1772.7,359.5 L1774.6,358.0 L1776.5,356.7 L1778.3,355.6 L1780.2,355.2 L1782.1,354.8 L1783.9,353.9 L1785.8,353.3 L1787.7,353.2 L1789.5,353.0 L1791.4,353.2 L1793.3,353.8 L1795.2,353.9 L1797.0,354.0 L1798.9,354.3 L1800.8,354.9 L1802.6,355.3 L1804.5,355.6 L1806.4,355.7 L1808.2,355.6 L1810.1,355.9 L1812.0,356.9 L1813.8,358.0 L1815.7,359.6 L1817.6,361.2 L1819.4,362.2 L1821.3,363.5 L1823.2,364.7 L1825.0,366.0 L1826.9,367.6 L1828.8,368.6 L1830.6,369.5 L1832.5,370.6 L1834.4,371.8 L1836.3,373.1 L1838.1,374.4 L1840.0,376.1 L1841.9,377.9 L1843.7,380.1 L1845.6,382.2 L1847.5,384.1 L1849.3,385.9 L1851.2,387.4 L1853.1,388.7 L1854.9,390.1 L1856.8,391.7 L1858.7,393.2 L1860.5,394.7 L1862.4,395.6 L1864.3,395.8 L1866.1,396.2 L1868.0,396.9 L1869.9,397.3 L1871.8,396.6 L1873.6,395.6 L1875.5,394.2 L1877.4,392.0 L1879.2,389.7 L1881.1,387.7 L1883.0,386.1 L1884.8,384.6 L1886.7,383.2 L1888.6,381.9 L1890.4,381.0 L1892.3,380.0 L1894.2,379.7 L1896.0,380.0 L1897.9,380.6 L1899.8,381.2 L1901.6,382.0 L1903.5,383.3 L1905.4,384.3 L1907.2,385.4 L1909.1,387.4 L1911.0,389.7 L1912.9,392.3 L1914.7,395.0 L1916.6,397.6 L1918.5,399.7 L1920.3,401.7 L1922.2,403.4 L1924.1,404.8 L1925.9,406.6 L1927.8,408.2 L1929.7,409.7 L1931.5,410.9 L1933.4,411.5 L1935.3,412.0 L1937.1,412.4 L1939.0,413.1 L1940.9,413.4 L1942.7,413.3 L1944.6,413.2 L1946.5,413.0 L1948.4,412.2 L1950.2,411.3 L1952.1,410.3 L1954.0,409.8 L1955.8,409.3 L1957.7,408.4 L1959.6,407.6 L1961.4,407.0 L1963.3,406.4 L1965.2,405.2 L1967.0,404.2 L1968.9,403.2 L1970.8,402.7 L1972.6,401.8 L1974.5,400.9 L1976.4,399.9 L1978.2,398.8 L1980.1,398.2 L1982.0,397.3 L1983.8,397.2 L1985.7,397.3 L1987.6,397.9 L1989.5,398.6 L1991.3,399.0 L1993.2,399.0 L1995.1,398.6 L1996.9,397.9 L1998.8,396.8 L2000.7,395.3 L2002.5,393.9 L2004.4,392.3 L2006.3,390.6 L2008.1,388.8 L2010.0,387.2 L2011.9,385.9 L2013.7,384.9 L2015.6,383.9 L2017.5,382.7 L2019.3,381.0 L2021.2,378.3 L2023.1,375.8 L2025.0,373.1 L2026.8,370.4 L2028.7,367.3 L2030.6,364.6 L2032.4,361.9 L2034.3,359.9 L2036.2,358.0 L2038.0,356.4 L2039.9,355.4 L2041.8,354.8 L2043.6,353.5 L2045.5,351.6 L2047.4,349.7 L2049.2,347.5 L2051.1,345.1 L2053.0,342.5 L2054.8,340.0 L2056.7,338.5 L2058.6,337.6 L2060.4,336.6 L2062.3,335.8 L2064.2,335.1 L2066.1,334.8 L2067.9,334.6 L2069.8,334.9 L2071.7,334.8 L2073.5,334.9 L2075.4,334.6 L2077.3,333.9 L2079.1,332.9 L2081.0,332.5 L2082.9,332.5 L2084.7,332.7 L2086.6,332.7 L2088.5,332.6 L2090.3,332.2 L2092.2,332.3 L2094.1,332.5 L2095.9,332.7 L2097.8,332.8 L2099.7,332.7 L2101.6,332.3 L2103.4,331.8 L2105.3,331.2 L2107.2,330.2 L2109.0,329.5 L2110.9,328.6 L2112.8,328.0 L2114.6,327.3 L2116.5,326.7 L2118.4,326.3 L2120.2,326.0 L2122.1,325.6 L2124.0,325.6 L2125.8,325.8 L2127.7,326.5 L2129.6,326.5 L2131.4,326.0 L2133.3,325.0 L2135.2,324.3 L2137.0,323.5 L2138.9,323.3 L2140.8,323.8 L2142.7,324.3 L2144.5,325.3 L2146.4,326.2 L2148.3,327.2 L2150.1,328.4 L2152.0,329.8 L2153.9,331.2 L2155.7,332.2 L2157.6,333.3 L2159.5,333.6 L2161.3,333.8 L2163.2,333.6 L2165.1,333.5 L2166.9,333.5 L2168.8,334.2 L2170.7,334.8 L2172.5,335.9 L2174.4,337.1 L2176.3,337.7 L2178.2,338.1 L2180.0,338.8 L2181.9,339.3 L2183.8,338.8 L2185.6,338.3 L2187.5,337.5 L2189.4,336.5 L2191.2,335.6 L2193.1,334.8 L2195.0,333.9 L2196.8,333.8 L2198.7,333.6 L2200.6,333.7 L2202.4,333.2 L2204.3,332.9 L2206.2,332.1 L2208.0,331.4 L2209.9,330.6 L2211.8,329.5 L2213.7,328.2 L2215.5,326.7 L2217.4,324.6 L2219.3,322.7 L2221.1,321.5 L2223.0,319.9 L2224.9,318.5 L2226.7,317.4 L2228.6,316.3 L2230.5,315.7 L2232.3,314.8 L2234.2,313.8 L2236.1,312.9 L2237.9,312.0 L2239.8,311.2 L2241.7,309.8 L2243.5,308.1 L2245.4,305.8 L2247.3,302.9 L2249.1,300.3 L2251.0,298.1 L2252.9,296.0 L2254.8,293.9 L2256.6,291.4 L2258.5,288.9 L2260.4,286.2 L2262.2,283.5 L2264.1,280.8 L2266.0,278.1 L2267.8,275.2 L2269.7,272.6 L2271.6,269.9 L2273.4,267.5 L2275.3,264.8 L2277.2,262.3 L2279.0,260.9 L2280.9,259.9 L2282.8,259.2 L2284.6,258.9 L2286.5,258.5 L2288.4,257.9 L2290.3,257.0 L2292.1,256.2 L2294.0,255.5 L2295.9,254.6 L2297.7,254.2 L2299.6,253.3 L2301.5,252.2 L2303.3,250.6 L2305.2,249.1 L2307.1,246.9 L2308.9,244.1 L2310.8,240.6 L2312.7,237.2 L2314.5,233.9 L2316.4,229.9 L2318.3,226.4 L2320.1,223.2 L2322.0,219.6 L2323.9,216.1 L2325.7,212.9 L2327.6,210.4 L2329.5,207.9 L2331.4,205.6 L2333.2,203.3 L2335.1,201.1 L2337.0,199.4 L2338.8,197.7 L2340.7,196.3 L2342.6,195.2 L2344.4,194.3 L2346.3,194.0 L2348.2,194.0 L2350.0,193.6 L2351.9,193.3 L2353.8,193.3 L2355.6,193.1 L2357.5,192.4 L2359.4,192.1 L2361.2,191.7 L2363.1,191.0 L2365.0,190.1 L2366.9,189.4 L2368.7,188.6 L2370.6,187.5 L2372.5,185.9 L2374.3,183.9 L2376.2,182.4 L2378.1,181.4 L2379.9,179.7 L2381.8,179.0 L2383.7,178.8 L2385.5,178.8 L2387.4,180.0 L2389.3,181.0 L2391.1,182.2 L2393.0,183.1 L2394.9,183.9 L2396.7,184.1 L2398.6,184.9 L2400.5,185.6 L2402.3,185.9 L2404.2,186.6 L2406.1,187.5 L2408.0,188.9 L2409.8,190.9 L2411.7,193.2 L2413.6,195.6 L2415.4,197.4 L2417.3,199.1 L2419.2,200.0 L2421.0,200.7 L2422.9,201.4 L2424.8,201.5 L2426.6,201.5 L2428.5,201.2 L2430.4,200.8 L2432.2,201.4 L2434.1,202.0 L2436.0,202.2 L2437.8,202.4 L2439.7,203.1 L2441.6,203.8 L2443.5,204.0 L2445.3,204.5 L2447.2,204.4 L2449.1,204.5 L2450.9,204.2 L2452.8,203.5 L2454.7,203.1 L2456.5,203.3 L2458.4,203.5 L2460.3,203.7 L2462.1,203.3 L2464.0,202.9 L2465.9,202.9 L2467.7,202.8 L2469.6,202.1 L2471.5,201.7 L2473.3,201.0 L2475.2,200.8 L2477.1,200.5 L2478.9,199.8 L2480.8,199.6 L2482.7,199.3 L2484.6,199.5 L2486.4,199.2 L2488.3,199.0 L2490.2,198.8 L2492.0,198.9 L2493.9,197.1 L2495.8,194.7 L2497.6,192.3 L2499.5,190.9 L2501.4,190.7 L2503.2,190.3 L2505.1,190.1 L2507.0,189.8 L2508.8,189.8 L2510.7,189.8 L2512.6,189.6 L2514.4,189.7 L2516.3,189.8 L2518.2,189.8 L2520.1,189.5 L2521.9,189.5 L2523.8,189.4 L2525.7,189.5 L2527.5,189.8 L2529.4,189.6 L2531.3,190.7 L2533.1,192.3 L2535.0,193.5 L2536.9,194.1 L2538.7,193.8 L2540.6,193.0 L2542.5,192.5 L2544.3,192.1 L2546.2,191.4 L2548.1,190.9 L2549.9,190.4" fill="none" stroke="#2962ff" stroke-width="2.1" stroke-linejoin="round"/>
<path d="M-28.3,238.2 L-26.4,238.9 L-24.6,239.9 L-22.7,241.1 L-20.8,243.7 L-19.0,245.1 L-17.1,246.2 L-15.2,245.6 L-13.4,246.5 L-11.5,247.2 L-9.6,246.5 L-7.8,245.6 L-5.9,246.2 L-4.0,245.1 L-2.2,243.7 L-0.3,241.1 L1.6,239.9 L3.4,238.9 L5.3,238.2 L7.2,236.4 L9.1,236.5 L10.9,236.2 L12.8,235.8 L14.7,236.7 L16.5,236.5 L18.4,234.7 L20.3,233.0 L22.1,228.4 L24.0,226.9 L25.9,225.2 L27.7,222.7 L29.6,221.5 L31.5,218.9 L33.3,217.9 L35.2,216.0 L37.1,214.7 L38.9,213.8 L40.8,214.1 L42.7,214.3 L44.6,214.2 L46.4,214.5 L48.3,214.6 L50.2,214.7 L52.0,215.1 L53.9,212.8 L55.8,206.4 L57.6,201.6 L59.5,199.9 L61.4,197.6 L63.2,194.5 L65.1,192.9 L67.0,190.5 L68.8,187.8 L70.7,184.7 L72.6,181.2 L74.4,177.6 L76.3,173.6 L78.2,171.4 L80.0,170.9 L81.9,171.5 L83.8,173.2 L85.7,175.1 L87.5,178.9 L89.4,182.4 L91.3,183.6 L93.1,183.5 L95.0,183.4 L96.9,184.0 L98.7,184.5 L100.6,184.6 L102.5,184.4 L104.3,184.2 L106.2,183.9 L108.1,183.5 L109.9,183.5 L111.8,184.7 L113.7,187.0 L115.5,187.8 L117.4,187.0 L119.3,181.5 L121.2,177.3 L123.0,174.2 L124.9,170.3 L126.8,164.6 L128.6,159.1 L130.5,154.0 L132.4,149.7 L134.2,147.2 L136.1,145.7 L138.0,144.4 L139.8,143.9 L141.7,143.7 L143.6,143.8 L145.4,144.8 L147.3,146.7 L149.2,148.3 L151.0,150.7 L152.9,153.7 L154.8,155.5 L156.6,154.5 L158.5,152.9 L160.4,152.2 L162.3,151.6 L164.1,150.8 L166.0,151.2 L167.9,151.8 L169.7,152.4 L171.6,152.4 L173.5,152.4 L175.3,152.2 L177.2,151.2 L179.1,150.0 L180.9,149.1 L182.8,147.4 L184.7,142.8 L186.5,138.6 L188.4,135.5 L190.3,132.6 L192.1,129.7 L194.0,128.8 L195.9,127.8 L197.8,126.5 L199.6,125.6 L201.5,124.5 L203.4,123.6 L205.2,123.2 L207.1,124.3 L209.0,125.5 L210.8,128.5 L212.7,130.1 L214.6,130.7 L216.4,131.0 L218.3,131.6 L220.2,131.9 L222.0,132.1 L223.9,131.7 L225.8,132.2 L227.6,133.0 L229.5,134.1 L231.4,133.3 L233.2,132.3 L235.1,131.1 L237.0,130.6 L238.9,130.9 L240.7,131.8 L242.6,132.3 L244.5,132.4 L246.3,132.4 L248.2,132.2 L250.1,132.2 L251.9,132.6 L253.8,133.8 L255.7,135.2 L257.5,136.0 L259.4,137.5 L261.3,141.0 L263.1,141.2 L265.0,141.0 L266.9,142.1 L268.7,141.6 L270.6,139.6 L272.5,138.4 L274.4,138.3 L276.2,137.1 L278.1,136.8 L280.0,136.8 L281.8,136.3 L283.7,136.2 L285.6,135.8 L287.4,135.3 L289.3,135.4 L291.2,135.4 L293.0,135.2 L294.9,134.3 L296.8,134.3 L298.6,134.2 L300.5,133.9 L302.4,134.2 L304.2,134.9 L306.1,135.2 L308.0,137.0 L309.9,138.4 L311.7,138.7 L313.6,140.4 L315.5,141.9 L317.3,142.8 L319.2,144.5 L321.1,145.9 L322.9,148.7 L324.8,151.6 L326.7,154.4 L328.5,156.2 L330.4,156.5 L332.3,156.4 L334.1,157.0 L336.0,156.9 L337.9,157.0 L339.7,157.1 L341.6,158.2 L343.5,158.6 L345.3,159.5 L347.2,159.8 L349.1,160.3 L351.0,160.4 L352.8,160.7 L354.7,162.5 L356.6,166.0 L358.4,167.3 L360.3,168.5 L362.2,168.3 L364.0,167.1 L365.9,166.2 L367.8,165.9 L369.6,165.2 L371.5,165.5 L373.4,164.6 L375.2,163.2 L377.1,161.9 L379.0,160.3 L380.8,159.2 L382.7,158.0 L384.6,158.0 L386.5,156.7 L388.3,154.5 L390.2,150.8 L392.1,148.0 L393.9,146.2 L395.8,143.5 L397.7,140.8 L399.5,138.8 L401.4,136.2 L403.3,133.1 L405.1,131.4 L407.0,129.2 L408.9,127.3 L410.7,125.8 L412.6,124.8 L414.5,123.5 L416.3,122.3 L418.2,122.8 L420.1,123.8 L421.9,126.2 L423.8,126.3 L425.7,125.3 L427.6,123.5 L429.4,122.9 L431.3,121.7 L433.2,121.4 L435.0,121.4 L436.9,121.7 L438.8,122.2 L440.6,123.4 L442.5,124.4 L444.4,126.0 L446.2,128.1 L448.1,129.9 L450.0,131.9 L451.8,135.8 L453.7,140.1 L455.6,142.0 L457.4,143.1 L459.3,145.6 L461.2,146.7 L463.1,147.7 L464.9,148.3 L466.8,150.2 L468.7,151.3 L470.5,153.1 L472.4,155.0 L474.3,158.3 L476.1,161.1 L478.0,164.1 L479.9,167.0 L481.7,168.4 L483.6,169.5 L485.5,169.7 L487.3,169.2 L489.2,168.1 L491.1,164.2 L492.9,163.2 L494.8,162.5 L496.7,160.3 L498.5,156.6 L500.4,154.7 L502.3,154.8 L504.2,154.7 L506.0,154.6 L507.9,154.2 L509.8,153.4 L511.6,153.6 L513.5,153.7 L515.4,154.1 L517.2,154.1 L519.1,154.1 L521.0,154.2 L522.8,154.6 L524.7,154.2 L526.6,154.2 L528.4,154.9 L530.3,155.0 L532.2,155.4 L534.0,157.0 L535.9,158.8 L537.8,159.8 L539.7,160.0 L541.5,159.5 L543.4,158.4 L545.3,158.4 L547.1,157.1 L549.0,154.5 L550.9,153.1 L552.7,152.0 L554.6,152.6 L556.5,152.5 L558.3,152.4 L560.2,152.0 L562.1,148.5 L563.9,146.2 L565.8,144.8 L567.7,143.2 L569.5,141.7 L571.4,140.7 L573.3,141.5 L575.1,142.7 L577.0,143.2 L578.9,144.5 L580.8,147.1 L582.6,148.9 L584.5,152.7 L586.4,158.3 L588.2,164.3 L590.1,171.3 L592.0,176.2 L593.8,180.9 L595.7,186.7 L597.6,192.7 L599.4,194.0 L601.3,195.4 L603.2,197.6 L605.0,199.2 L606.9,199.6 L608.8,200.3 L610.6,201.7 L612.5,203.9 L614.4,204.4 L616.3,204.2 L618.1,203.5 L620.0,201.9 L621.9,200.3 L623.7,200.2 L625.6,199.1 L627.5,197.0 L629.3,196.6 L631.2,197.9 L633.1,199.0 L634.9,201.2 L636.8,202.6 L638.7,205.5 L640.5,208.0 L642.4,210.2 L644.3,211.1 L646.1,213.4 L648.0,216.5 L649.9,218.9 L651.7,221.0 L653.6,221.2 L655.5,219.9 L657.4,218.7 L659.2,216.5 L661.1,213.0 L663.0,212.2 L664.8,212.3 L666.7,212.5 L668.6,212.5 L670.4,212.7 L672.3,212.8 L674.2,212.1 L676.0,212.0 L677.9,211.7 L679.8,211.2 L681.6,210.7 L683.5,210.0 L685.4,209.2 L687.2,208.7 L689.1,205.1 L691.0,201.3 L692.9,199.7 L694.7,199.3 L696.6,199.3 L698.5,199.7 L700.3,199.7 L702.2,199.7 L704.1,199.7 L705.9,199.9 L707.8,199.8 L709.7,199.9 L711.5,199.9 L713.4,200.1 L715.3,200.0 L717.1,199.9 L719.0,199.7 L720.9,199.3 L722.7,198.4 L724.6,198.1 L726.5,199.6 L728.3,200.8 L730.2,201.8 L732.1,201.6 L734.0,201.6 L735.8,201.6 L737.7,201.7 L739.6,202.0 L741.4,201.9 L743.3,201.2 L745.2,201.2 L747.0,200.3 L748.9,199.3 L750.8,198.1 L752.6,197.0 L754.5,197.2 L756.4,197.6 L758.2,198.1 L760.1,199.6 L762.0,200.7 L763.8,201.9 L765.7,204.5 L767.6,205.1 L769.5,206.3 L771.3,206.7 L773.2,207.1 L775.1,206.6 L776.9,205.1 L778.8,205.4 L780.7,207.2 L782.5,207.8 L784.4,207.7 L786.3,207.4 L788.1,207.2 L790.0,206.8 L791.9,207.9 L793.7,209.4 L795.6,211.3 L797.5,211.0 L799.3,212.2 L801.2,213.6 L803.1,215.4 L805.0,218.2 L806.8,221.0 L808.7,223.8 L810.6,227.1 L812.4,230.2 L814.3,231.8 L816.2,233.4 L818.0,234.2 L819.9,234.4 L821.8,235.9 L823.6,237.6 L825.5,237.1 L827.4,236.9 L829.2,237.3 L831.1,237.7 L833.0,237.1 L834.8,235.3 L836.7,233.5 L838.6,233.0 L840.4,233.4 L842.3,235.1 L844.2,237.2 L846.1,241.7 L847.9,242.6 L849.8,243.0 L851.7,242.6 L853.5,242.5 L855.4,242.4 L857.3,242.7 L859.1,242.7 L861.0,242.7 L862.9,243.7 L864.7,244.0 L866.6,242.7 L868.5,242.3 L870.3,242.2 L872.2,242.2 L874.1,242.8 L875.9,241.7 L877.8,239.4 L879.7,236.8 L881.6,234.5 L883.4,232.0 L885.3,231.2 L887.2,231.4 L889.0,230.0 L890.9,227.4 L892.8,225.5 L894.6,224.8 L896.5,223.7 L898.4,222.5 L900.2,222.5 L902.1,223.0 L904.0,224.1 L905.8,224.6 L907.7,225.2 L909.6,202.6 L911.4,203.0 L913.3,200.9 L915.2,203.0 L917.0,207.4 L918.9,212.4 L920.8,217.7 L922.7,223.4 L924.5,228.6 L926.4,232.9 L928.3,237.1 L930.1,241.7 L932.0,247.6 L933.9,253.8 L935.7,260.1 L937.6,267.3 L939.5,276.8 L941.3,287.3 L943.2,297.1 L945.1,311.1 L946.9,314.6 L948.8,316.5 L950.7,315.3 L952.5,314.7 L954.4,314.6 L956.3,312.3 L958.2,311.0 L960.0,311.7 L961.9,313.2 L963.8,313.9 L965.6,313.5 L967.5,313.7 L969.4,315.8 L971.2,318.2 L973.1,316.4 L975.0,314.5 L976.8,314.1 L978.7,313.2 L980.6,313.0 L982.4,312.1 L984.3,311.1 L986.2,311.7 L988.0,312.6 L989.9,312.3 L991.8,311.5 L993.6,312.0 L995.5,312.9 L997.4,314.0 L999.3,315.2 L1001.1,318.3 L1003.0,322.9 L1004.9,328.6 L1006.7,332.8 L1008.6,337.6 L1010.5,340.0 L1012.3,342.2 L1014.2,345.2 L1016.1,347.8 L1017.9,350.6 L1019.8,353.4 L1021.7,355.2 L1023.5,358.9 L1025.4,363.5 L1027.3,363.2 L1029.1,361.0 L1031.0,357.5 L1032.9,355.7 L1034.8,355.5 L1036.6,356.2 L1038.5,356.2 L1040.4,356.2 L1042.2,356.0 L1044.1,356.1 L1046.0,356.1 L1047.8,356.2 L1049.7,355.8 L1051.6,355.7 L1053.4,355.6 L1055.3,355.5 L1057.2,355.2 L1059.0,355.2 L1060.9,355.2 L1062.8,355.2 L1064.6,354.1 L1066.5,349.3 L1068.4,345.4 L1070.2,341.6 L1072.1,336.2 L1074.0,330.1 L1075.9,325.6 L1077.7,321.1 L1079.6,318.1 L1081.5,314.5 L1083.3,310.3 L1085.2,307.4 L1087.1,305.4 L1088.9,305.1 L1090.8,304.3 L1092.7,303.8 L1094.5,303.3 L1096.4,304.2 L1098.3,306.8 L1100.1,311.7 L1102.0,314.7 L1103.9,315.6 L1105.7,316.4 L1107.6,317.4 L1109.5,316.6 L1111.4,316.0 L1113.2,314.8 L1115.1,314.0 L1117.0,312.5 L1118.8,312.0 L1120.7,312.6 L1122.6,313.5 L1124.4,312.6 L1126.3,308.0 L1128.2,299.9 L1130.0,293.1 L1131.9,288.6 L1133.8,285.4 L1135.6,282.1 L1137.5,280.6 L1139.4,280.3 L1141.2,280.0 L1143.1,280.0 L1145.0,279.7 L1146.8,279.7 L1148.7,279.6 L1150.6,279.7 L1152.5,280.2 L1154.3,281.9 L1156.2,283.9 L1158.1,286.5 L1159.9,287.1 L1161.8,287.1 L1163.7,287.8 L1165.5,291.4 L1167.4,295.8 L1169.3,299.2 L1171.1,299.6 L1173.0,298.1 L1174.9,291.7 L1176.7,285.0 L1178.6,279.3 L1180.5,274.2 L1182.3,269.6 L1184.2,265.0 L1186.1,260.5 L1188.0,257.8 L1189.8,255.5 L1191.7,254.4 L1193.6,255.2 L1195.4,256.1 L1197.3,257.5 L1199.2,258.7 L1201.0,259.7 L1202.9,261.6 L1204.8,263.1 L1206.6,264.0 L1208.5,261.7 L1210.4,259.2 L1212.2,257.6 L1214.1,256.9 L1216.0,255.8 L1217.8,255.8 L1219.7,257.2 L1221.6,260.8 L1223.4,265.7 L1225.3,269.5 L1227.2,273.8 L1229.1,278.0 L1230.9,281.1 L1232.8,285.3 L1234.7,289.1 L1236.5,294.0 L1238.4,297.0 L1240.3,303.1 L1242.1,310.5 L1244.0,318.4 L1245.9,322.8 L1247.7,325.2 L1249.6,325.1 L1251.5,320.6 L1253.3,315.9 L1255.2,312.9 L1257.1,311.2 L1258.9,309.7 L1260.8,308.6 L1262.7,307.7 L1264.6,307.4 L1266.4,307.1 L1268.3,307.1 L1270.2,306.7 L1272.0,307.2 L1273.9,307.6 L1275.8,310.0 L1277.6,313.0 L1279.5,314.9 L1281.4,315.1 L1283.2,314.4 L1285.1,314.3 L1287.0,314.7 L1288.8,318.3 L1290.7,322.0 L1292.6,323.8 L1294.4,324.5 L1296.3,325.4 L1298.2,326.6 L1300.1,327.5 L1301.9,327.6 L1303.8,327.9 L1305.7,328.3 L1307.5,328.5 L1309.4,325.5 L1311.3,320.3 L1313.1,314.6 L1315.0,312.1 L1316.9,308.4 L1318.7,305.4 L1320.6,302.1 L1322.5,300.0 L1324.3,299.3 L1326.2,298.7 L1328.1,298.5 L1329.9,299.0 L1331.8,299.5 L1333.7,300.6 L1335.5,301.2 L1337.4,301.5 L1339.3,301.5 L1341.2,301.6 L1343.0,300.4 L1344.9,298.9 L1346.8,299.0 L1348.6,300.9 L1350.5,303.6 L1352.4,305.0 L1354.2,308.0 L1356.1,311.4 L1358.0,316.1 L1359.8,320.5 L1361.7,323.5 L1363.6,326.6 L1365.4,328.2 L1367.3,327.6 L1369.2,328.6 L1371.0,331.3 L1372.9,333.8 L1374.8,337.7 L1376.7,339.9 L1378.5,342.1 L1380.4,343.2 L1382.3,344.1 L1384.1,346.1 L1386.0,349.0 L1387.9,350.9 L1389.7,352.7 L1391.6,354.2 L1393.5,357.1 L1395.3,358.1 L1397.2,359.1 L1399.1,360.8 L1400.9,361.5 L1402.8,361.4 L1404.7,362.0 L1406.5,359.8 L1408.4,355.1 L1410.3,352.1 L1412.1,348.8 L1414.0,345.7 L1415.9,342.6 L1417.8,338.0 L1419.6,336.4 L1421.5,335.9 L1423.4,335.8 L1425.2,335.8 L1427.1,336.1 L1429.0,335.7 L1430.8,335.5 L1432.7,335.3 L1434.6,335.3 L1436.4,335.3 L1438.3,335.4 L1440.2,335.8 L1442.0,335.8 L1443.9,335.7 L1445.8,336.1 L1447.6,336.6 L1449.5,337.4 L1451.4,339.0 L1453.3,342.0 L1455.1,348.4 L1457.0,352.7 L1458.9,355.9 L1460.7,358.6 L1462.6,360.5 L1464.5,361.2 L1466.3,361.4 L1468.2,362.0 L1470.1,361.8 L1471.9,363.0 L1473.8,364.6 L1475.7,367.2 L1477.5,368.9 L1479.4,370.6 L1481.3,371.3 L1483.1,369.2 L1485.0,363.0 L1486.9,356.7 L1488.7,351.6 L1490.6,348.7 L1492.5,347.4 L1494.4,347.8 L1496.2,348.4 L1498.1,350.3 L1500.0,352.9 L1501.8,354.9 L1503.7,357.1 L1505.6,360.0 L1507.4,364.8 L1509.3,369.1 L1511.2,373.7 L1513.0,379.3 L1514.9,385.3 L1516.8,392.1 L1518.6,396.8 L1520.5,398.4 L1522.4,397.4 L1524.2,397.0 L1526.1,397.4 L1528.0,398.0 L1529.9,398.8 L1531.7,399.4 L1533.6,400.5 L1535.5,401.1 L1537.3,400.8 L1539.2,400.6 L1541.1,400.3 L1542.9,400.4 L1544.8,400.6 L1546.7,401.5 L1548.5,401.9 L1550.4,401.9 L1552.3,403.4 L1554.1,403.8 L1556.0,404.0 L1557.9,404.0 L1559.7,404.4 L1561.6,404.4 L1563.5,403.8 L1565.3,403.8 L1567.2,403.6 L1569.1,403.5 L1571.0,403.1 L1572.8,403.4 L1574.7,403.7 L1576.6,403.6 L1578.4,404.2 L1580.3,403.8 L1582.2,401.1 L1584.0,399.3 L1585.9,397.8 L1587.8,396.8 L1589.6,394.7 L1591.5,392.5 L1593.4,389.9 L1595.2,389.4 L1597.1,389.2 L1599.0,389.2 L1600.8,389.8 L1602.7,390.3 L1604.6,391.4 L1606.5,392.5 L1608.3,392.6 L1610.2,392.4 L1612.1,392.2 L1613.9,392.2 L1615.8,391.6 L1617.7,391.2 L1619.5,391.0 L1621.4,390.4 L1623.3,389.8 L1625.1,389.4 L1627.0,388.4 L1628.9,387.5 L1630.7,386.0 L1632.6,384.5 L1634.5,382.8 L1636.3,380.9 L1638.2,378.6 L1640.1,377.6 L1641.9,376.9 L1643.8,376.4 L1645.7,376.5 L1647.6,377.9 L1649.4,379.2 L1651.3,379.8 L1653.2,379.7 L1655.0,379.6 L1656.9,379.7 L1658.8,379.9 L1660.6,379.9 L1662.5,380.1 L1664.4,379.8 L1666.2,379.7 L1668.1,380.0 L1670.0,380.0 L1671.8,379.7 L1673.7,380.5 L1675.6,381.6 L1677.4,381.3 L1679.3,379.3 L1681.2,377.1 L1683.1,373.9 L1684.9,371.5 L1686.8,369.3 L1688.7,365.9 L1690.5,362.6 L1692.4,360.6 L1694.3,359.0 L1696.1,356.7 L1698.0,354.0 L1699.9,351.5 L1701.7,349.1 L1703.6,347.3 L1705.5,345.9 L1707.3,345.3 L1709.2,346.8 L1711.1,348.6 L1712.9,349.8 L1714.8,351.2 L1716.7,352.0 L1718.5,352.4 L1720.4,352.6 L1722.3,352.7 L1724.2,353.0 L1726.0,352.7 L1727.9,350.9 L1729.8,349.4 L1731.6,348.1 L1733.5,347.2 L1735.4,347.0 L1737.2,347.6 L1739.1,349.4 L1741.0,350.7 L1742.8,349.5 L1744.7,348.4 L1746.6,348.3 L1748.4,346.8 L1750.3,344.7 L1752.2,343.7 L1754.0,342.2 L1755.9,340.4 L1757.8,339.9 L1759.7,339.7 L1761.5,339.5 L1763.4,338.5 L1765.3,338.2 L1767.1,338.3 L1769.0,339.0 L1770.9,340.3 L1772.7,342.6 L1774.6,345.9 L1776.5,348.5 L1778.3,346.5 L1780.2,344.9 L1782.1,343.5 L1783.9,340.9 L1785.8,339.1 L1787.7,338.9 L1789.5,338.7 L1791.4,338.6 L1793.3,338.6 L1795.2,338.5 L1797.0,338.3 L1798.9,338.0 L1800.8,337.6 L1802.6,337.2 L1804.5,337.1 L1806.4,337.1 L1808.2,337.1 L1810.1,337.0 L1812.0,336.3 L1813.8,336.2 L1815.7,337.7 L1817.6,339.6 L1819.4,342.1 L1821.3,346.2 L1823.2,350.9 L1825.0,353.8 L1826.9,355.5 L1828.8,356.1 L1830.6,356.3 L1832.5,356.5 L1834.4,356.3 L1836.3,355.7 L1838.1,355.1 L1840.0,353.7 L1841.9,353.8 L1843.7,354.5 L1845.6,356.2 L1847.5,357.5 L1849.3,357.4 L1851.2,358.3 L1853.1,359.6 L1854.9,361.1 L1856.8,365.1 L1858.7,369.7 L1860.5,374.8 L1862.4,378.0 L1864.3,378.8 L1866.1,380.4 L1868.0,382.7 L1869.9,384.1 L1871.8,380.1 L1873.6,375.8 L1875.5,370.5 L1877.4,364.0 L1879.2,357.5 L1881.1,354.8 L1883.0,353.2 L1884.8,352.5 L1886.7,353.3 L1888.6,353.7 L1890.4,354.1 L1892.3,354.9 L1894.2,355.3 L1896.0,354.7 L1897.9,353.5 L1899.8,352.6 L1901.6,351.9 L1903.5,350.3 L1905.4,349.0 L1907.2,347.8 L1909.1,348.5 L1911.0,349.4 L1912.9,351.9 L1914.7,356.8 L1916.6,364.1 L1918.5,369.3 L1920.3,374.0 L1922.2,378.4 L1924.1,381.8 L1925.9,386.3 L1927.8,391.4 L1929.7,397.3 L1931.5,401.7 L1933.4,403.5 L1935.3,404.0 L1937.1,405.1 L1939.0,406.9 L1940.9,406.7 L1942.7,406.6 L1944.6,406.6 L1946.5,406.0 L1948.4,404.0 L1950.2,401.3 L1952.1,398.1 L1954.0,395.9 L1955.8,394.6 L1957.7,392.1 L1959.6,390.0 L1961.4,388.8 L1963.3,388.6 L1965.2,386.4 L1967.0,385.3 L1968.9,384.3 L1970.8,384.2 L1972.6,384.5 L1974.5,384.3 L1976.4,384.7 L1978.2,386.5 L1980.1,387.6 L1982.0,389.1 L1983.8,389.7 L1985.7,389.3 L1987.6,388.3 L1989.5,388.1 L1991.3,388.4 L1993.2,388.3 L1995.1,386.5 L1996.9,383.2 L1998.8,379.6 L2000.7,375.3 L2002.5,369.6 L2004.4,363.9 L2006.3,359.2 L2008.1,355.9 L2010.0,353.3 L2011.9,351.5 L2013.7,350.4 L2015.6,350.0 L2017.5,349.3 L2019.3,346.9 L2021.2,343.8 L2023.1,342.1 L2025.0,342.0 L2026.8,343.0 L2028.7,342.0 L2030.6,341.1 L2032.4,336.2 L2034.3,333.6 L2036.2,331.3 L2038.0,329.4 L2039.9,328.1 L2041.8,327.5 L2043.6,324.9 L2045.5,321.5 L2047.4,318.6 L2049.2,316.5 L2051.1,315.6 L2053.0,316.7 L2054.8,317.7 L2056.7,318.1 L2058.6,318.1 L2060.4,318.6 L2062.3,319.9 L2064.2,321.7 L2066.1,321.8 L2067.9,321.9 L2069.8,322.2 L2071.7,322.2 L2073.5,322.2 L2075.4,322.1 L2077.3,322.0 L2079.1,322.7 L2081.0,322.1 L2082.9,322.0 L2084.7,322.4 L2086.6,322.3 L2088.5,322.1 L2090.3,320.6 L2092.2,320.9 L2094.1,321.1 L2095.9,321.0 L2097.8,321.0 L2099.7,321.1 L2101.6,321.5 L2103.4,320.8 L2105.3,320.4 L2107.2,318.6 L2109.0,317.8 L2110.9,317.8 L2112.8,317.0 L2114.6,314.9 L2116.5,313.5 L2118.4,312.7 L2120.2,312.3 L2122.1,312.2 L2124.0,312.2 L2125.8,312.2 L2127.7,312.6 L2129.6,312.6 L2131.4,312.4 L2133.3,312.6 L2135.2,312.8 L2137.0,313.3 L2138.9,313.9 L2140.8,313.0 L2142.7,312.1 L2144.5,312.1 L2146.4,311.4 L2148.3,310.7 L2150.1,310.4 L2152.0,311.9 L2153.9,313.2 L2155.7,314.9 L2157.6,315.9 L2159.5,316.6 L2161.3,317.1 L2163.2,316.6 L2165.1,316.5 L2166.9,316.7 L2168.8,317.9 L2170.7,319.9 L2172.5,322.0 L2174.4,324.5 L2176.3,325.2 L2178.2,325.4 L2180.0,324.9 L2181.9,325.0 L2183.8,324.0 L2185.6,323.5 L2187.5,322.8 L2189.4,320.6 L2191.2,319.6 L2193.1,317.9 L2195.0,317.2 L2196.8,317.1 L2198.7,316.5 L2200.6,316.7 L2202.4,315.4 L2204.3,314.8 L2206.2,313.1 L2208.0,311.7 L2209.9,311.4 L2211.8,311.2 L2213.7,310.0 L2215.5,309.1 L2217.4,309.6 L2219.3,309.7 L2221.1,306.9 L2223.0,304.1 L2224.9,301.9 L2226.7,299.3 L2228.6,298.0 L2230.5,297.4 L2232.3,296.9 L2234.2,296.9 L2236.1,296.5 L2237.9,296.8 L2239.8,296.6 L2241.7,294.2 L2243.5,290.0 L2245.4,283.0 L2247.3,277.1 L2249.1,272.3 L2251.0,268.4 L2252.9,265.4 L2254.8,261.7 L2256.6,256.4 L2258.5,251.2 L2260.4,245.2 L2262.2,240.0 L2264.1,235.6 L2266.0,232.5 L2267.8,230.9 L2269.7,230.3 L2271.6,230.2 L2273.4,231.3 L2275.3,233.7 L2277.2,237.7 L2279.0,240.7 L2280.9,242.9 L2282.8,243.4 L2284.6,243.7 L2286.5,244.1 L2288.4,244.7 L2290.3,245.7 L2292.1,245.8 L2294.0,244.1 L2295.9,240.7 L2297.7,238.9 L2299.6,235.2 L2301.5,230.3 L2303.3,224.6 L2305.2,220.4 L2307.1,214.2 L2308.9,204.9 L2310.8,195.1 L2312.7,187.2 L2314.5,180.9 L2316.4,175.0 L2318.3,172.0 L2320.1,169.2 L2322.0,167.2 L2323.9,166.2 L2325.7,166.8 L2327.6,168.4 L2329.5,170.0 L2331.4,171.7 L2333.2,172.2 L2335.1,174.6 L2337.0,176.8 L2338.8,178.1 L2340.7,179.5 L2342.6,183.3 L2344.4,185.3 L2346.3,184.9 L2348.2,185.1 L2350.0,183.2 L2351.9,182.1 L2353.8,182.3 L2355.6,181.9 L2357.5,180.3 L2359.4,179.6 L2361.2,178.4 L2363.1,177.5 L2365.0,178.1 L2366.9,178.2 L2368.7,178.1 L2370.6,174.3 L2372.5,168.9 L2374.3,164.1 L2376.2,160.5 L2378.1,159.4 L2379.9,158.6 L2381.8,159.0 L2383.7,159.2 L2385.5,159.2 L2387.4,157.5 L2389.3,156.0 L2391.1,154.2 L2393.0,153.1 L2394.9,153.2 L2396.7,153.3 L2398.6,153.5 L2400.5,153.7 L2402.3,153.9 L2404.2,154.0 L2406.1,154.3 L2408.0,156.4 L2409.8,160.5 L2411.7,166.2 L2413.6,172.4 L2415.4,176.6 L2417.3,183.6 L2419.2,187.1 L2421.0,189.3 L2422.9,191.2 L2424.8,191.1 L2426.6,191.1 L2428.5,191.5 L2430.4,191.7 L2432.2,191.8 L2434.1,194.4 L2436.0,194.7 L2437.8,195.3 L2439.7,196.9 L2441.6,196.5 L2443.5,196.7 L2445.3,197.3 L2447.2,197.2 L2449.1,197.2 L2450.9,196.9 L2452.8,195.2 L2454.7,193.7 L2456.5,194.1 L2458.4,194.3 L2460.3,194.4 L2462.1,194.0 L2464.0,193.3 L2465.9,193.3 L2467.7,192.9 L2469.6,192.2 L2471.5,190.9 L2473.3,189.0 L2475.2,188.8 L2477.1,188.7 L2478.9,189.6 L2480.8,189.7 L2482.7,190.1 L2484.6,190.0 L2486.4,190.3 L2488.3,189.9 L2490.2,189.3 L2492.0,189.6 L2493.9,179.5 L2495.8,170.3 L2497.6,164.3 L2499.5,161.7 L2501.4,161.6 L2503.2,161.7 L2505.1,161.7 L2507.0,161.5 L2508.8,161.5 L2510.7,161.5 L2512.6,161.5 L2514.4,161.5 L2516.3,161.4 L2518.2,161.4 L2520.1,161.5 L2521.9,161.5 L2523.8,161.6 L2525.7,161.5 L2527.5,161.7 L2529.4,161.6 L2531.3,165.1 L2533.1,171.7 L2535.0,178.8 L2536.9,182.4 L2538.7,181.4 L2540.6,179.8 L2542.5,178.6 L2544.3,177.4 L2546.2,175.5 L2548.1,174.2 L2549.9,173.6" fill="none" stroke="#f23645" stroke-width="2.1" stroke-linejoin="round"/>
<path d="M-28.3,265.9 L-26.4,266.8 L-24.6,267.4 L-22.7,267.9 L-20.8,266.9 L-19.0,266.6 L-17.1,266.2 L-15.2,266.5 L-13.4,266.2 L-11.5,265.9 L-9.6,266.2 L-7.8,266.5 L-5.9,266.2 L-4.0,266.6 L-2.2,266.9 L-0.3,267.9 L1.6,267.4 L3.4,266.8 L5.3,265.9 L7.2,265.1 L9.1,263.3 L10.9,261.7 L12.8,260.1 L14.7,257.7 L16.5,256.4 L18.4,255.9 L20.3,255.3 L22.1,257.5 L24.0,256.7 L25.9,255.7 L27.7,255.7 L29.6,254.9 L31.5,254.4 L33.3,253.3 L35.2,252.6 L37.1,252.2 L38.9,251.0 L40.8,249.8 L42.7,249.5 L44.6,249.8 L46.4,249.3 L48.3,248.9 L50.2,248.7 L52.0,246.4 L53.9,245.8 L55.8,248.7 L57.6,250.3 L59.5,250.7 L61.4,250.7 L63.2,251.2 L65.1,251.2 L67.0,251.0 L68.8,251.6 L70.7,251.6 L72.6,252.2 L74.4,252.4 L76.3,252.5 L78.2,250.2 L80.0,245.4 L81.9,240.7 L83.8,234.2 L85.7,227.2 L87.5,218.8 L89.4,212.8 L91.3,210.5 L93.1,210.4 L95.0,210.2 L96.9,208.3 L98.7,207.0 L100.6,206.6 L102.5,206.9 L104.3,207.4 L106.2,208.2 L108.1,210.0 L109.9,211.9 L111.8,212.1 L113.7,211.2 L115.5,210.9 L117.4,211.3 L119.3,214.4 L121.2,216.5 L123.0,218.0 L124.9,219.6 L126.8,221.1 L128.6,222.4 L130.5,223.4 L132.4,223.9 L134.2,223.3 L136.1,221.9 L138.0,220.4 L139.8,216.9 L141.7,213.6 L143.6,210.0 L145.4,204.9 L147.3,198.1 L149.2,192.4 L151.0,187.0 L152.9,181.2 L154.8,176.8 L156.6,176.1 L158.5,175.6 L160.4,174.6 L162.3,173.8 L164.1,174.0 L166.0,174.1 L167.9,174.1 L169.7,174.7 L171.6,174.8 L173.5,175.0 L175.3,174.4 L177.2,174.0 L179.1,173.3 L180.9,172.6 L182.8,172.5 L184.7,174.6 L186.5,176.3 L188.4,176.0 L190.3,175.7 L192.1,175.9 L194.0,175.5 L195.9,175.4 L197.8,175.1 L199.6,174.5 L201.5,174.0 L203.4,172.2 L205.2,170.3 L207.1,166.7 L209.0,163.3 L210.8,158.2 L212.7,155.3 L214.6,153.3 L216.4,151.6 L218.3,149.7 L220.2,148.6 L222.0,148.6 L223.9,148.7 L225.8,148.8 L227.6,148.7 L229.5,148.3 L231.4,149.8 L233.2,152.0 L235.1,155.1 L237.0,157.1 L238.9,158.1 L240.7,158.4 L242.6,159.0 L244.5,160.0 L246.3,160.8 L248.2,161.8 L250.1,162.3 L251.9,163.7 L253.8,164.0 L255.7,164.4 L257.5,165.3 L259.4,166.3 L261.3,165.6 L263.1,165.5 L265.0,165.6 L266.9,165.0 L268.7,165.1 L270.6,165.7 L272.5,165.4 L274.4,165.0 L276.2,165.1 L278.1,165.1 L280.0,165.1 L281.8,164.7 L283.7,164.4 L285.6,163.7 L287.4,163.3 L289.3,162.1 L291.2,162.1 L293.0,162.5 L294.9,164.1 L296.8,164.0 L298.6,164.3 L300.5,167.1 L302.4,169.6 L304.2,170.5 L306.1,172.1 L308.0,172.5 L309.9,173.4 L311.7,174.6 L313.6,175.9 L315.5,176.9 L317.3,176.9 L319.2,176.4 L321.1,176.6 L322.9,176.1 L324.8,176.1 L326.7,176.2 L328.5,176.3 L330.4,178.1 L332.3,179.0 L334.1,179.0 L336.0,180.9 L337.9,181.0 L339.7,181.3 L341.6,181.7 L343.5,182.3 L345.3,182.2 L347.2,183.3 L349.1,183.8 L351.0,183.9 L352.8,184.1 L354.7,184.0 L356.6,182.5 L358.4,182.5 L360.3,182.1 L362.2,182.1 L364.0,182.4 L365.9,182.7 L367.8,182.2 L369.6,182.2 L371.5,182.1 L373.4,181.4 L375.2,182.1 L377.1,182.5 L379.0,182.7 L380.8,182.5 L382.7,182.8 L384.6,181.4 L386.5,180.9 L388.3,181.2 L390.2,182.2 L392.1,181.8 L393.9,180.7 L395.8,179.6 L397.7,179.0 L399.5,177.9 L401.4,177.7 L403.3,177.6 L405.1,176.1 L407.0,174.9 L408.9,173.0 L410.7,171.4 L412.6,169.7 L414.5,167.9 L416.3,166.0 L418.2,163.1 L420.1,160.5 L421.9,155.9 L423.8,155.7 L425.7,157.3 L427.6,160.8 L429.4,162.4 L431.3,165.3 L433.2,167.4 L435.0,169.3 L436.9,170.3 L438.8,171.7 L440.6,173.1 L442.5,174.7 L444.4,176.4 L446.2,178.0 L448.1,180.5 L450.0,182.5 L451.8,183.1 L453.7,183.9 L455.6,187.1 L457.4,190.9 L459.3,193.3 L461.2,194.5 L463.1,195.8 L464.9,197.6 L466.8,198.2 L468.7,198.5 L470.5,198.5 L472.4,198.1 L474.3,197.0 L476.1,195.9 L478.0,194.9 L479.9,193.8 L481.7,193.0 L483.6,192.5 L485.5,192.5 L487.3,192.7 L489.2,193.2 L491.1,194.8 L492.9,193.6 L494.8,191.6 L496.7,190.2 L498.5,191.2 L500.4,190.6 L502.3,188.4 L504.2,186.8 L506.0,186.1 L507.9,185.1 L509.8,184.6 L511.6,183.7 L513.5,183.6 L515.4,182.6 L517.2,182.6 L519.1,182.4 L521.0,181.6 L522.8,180.7 L524.7,181.6 L526.6,182.1 L528.4,183.3 L530.3,183.5 L532.2,183.7 L534.0,183.2 L535.9,182.1 L537.8,181.6 L539.7,181.5 L541.5,181.7 L543.4,182.0 L545.3,182.0 L547.1,182.7 L549.0,183.6 L550.9,183.3 L552.7,182.5 L554.6,180.9 L556.5,181.4 L558.3,182.1 L560.2,183.1 L562.1,188.5 L563.9,193.1 L565.8,196.2 L567.7,200.4 L569.5,205.2 L571.4,209.7 L573.3,213.0 L575.1,215.6 L577.0,219.1 L578.9,222.3 L580.8,224.1 L582.6,227.1 L584.5,229.4 L586.4,230.0 L588.2,229.9 L590.1,229.1 L592.0,228.8 L593.8,227.6 L595.7,225.6 L597.6,222.5 L599.4,222.6 L601.3,222.2 L603.2,221.3 L605.0,221.0 L606.9,222.3 L608.8,222.5 L610.6,222.2 L612.5,221.7 L614.4,222.3 L616.3,224.1 L618.1,227.8 L620.0,231.5 L621.9,235.2 L623.7,236.6 L625.6,240.1 L627.5,245.0 L629.3,248.2 L631.2,249.1 L633.1,250.2 L634.9,250.9 L636.8,250.7 L638.7,249.9 L640.5,249.1 L642.4,248.3 L644.3,248.4 L646.1,247.9 L648.0,246.7 L649.9,246.0 L651.7,245.2 L653.6,245.0 L655.5,245.2 L657.4,245.3 L659.2,245.4 L661.1,247.0 L663.0,245.8 L664.8,242.5 L666.7,239.8 L668.6,239.1 L670.4,237.9 L672.3,236.1 L674.2,236.2 L676.0,236.0 L677.9,235.6 L679.8,235.4 L681.6,234.6 L683.5,233.5 L685.4,232.4 L687.2,230.4 L689.1,230.8 L691.0,231.7 L692.9,231.3 L694.7,230.5 L696.6,230.4 L698.5,230.6 L700.3,230.5 L702.2,231.1 L704.1,230.9 L705.9,229.6 L707.8,228.4 L709.7,228.1 L711.5,228.3 L713.4,227.1 L715.3,226.3 L717.1,225.7 L719.0,225.2 L720.9,225.0 L722.7,225.1 L724.6,225.1 L726.5,224.4 L728.3,223.7 L730.2,223.4 L732.1,223.4 L734.0,223.2 L735.8,222.7 L737.7,222.5 L739.6,221.9 L741.4,221.4 L743.3,221.2 L745.2,221.3 L747.0,222.8 L748.9,224.7 L750.8,227.2 L752.6,230.5 L754.5,230.9 L756.4,231.3 L758.2,231.4 L760.1,231.5 L762.0,231.7 L763.8,231.7 L765.7,230.9 L767.6,230.9 L769.5,231.1 L771.3,232.1 L773.2,233.7 L775.1,235.9 L776.9,239.7 L778.8,242.5 L780.7,244.7 L782.5,247.6 L784.4,249.5 L786.3,251.6 L788.1,253.5 L790.0,255.5 L791.9,257.3 L793.7,259.0 L795.6,261.3 L797.5,266.6 L799.3,270.2 L801.2,274.4 L803.1,278.1 L805.0,281.8 L806.8,284.7 L808.7,287.2 L810.6,287.1 L812.4,286.6 L814.3,286.4 L816.2,286.0 L818.0,285.8 L819.9,285.7 L821.8,285.2 L823.6,284.9 L825.5,285.1 L827.4,285.2 L829.2,285.0 L831.1,284.9 L833.0,285.0 L834.8,284.3 L836.7,283.8 L838.6,281.8 L840.4,279.2 L842.3,274.6 L844.2,269.5 L846.1,262.1 L847.9,260.0 L849.8,259.4 L851.7,260.2 L853.5,260.4 L855.4,261.2 L857.3,261.3 L859.1,261.7 L861.0,261.7 L862.9,261.2 L864.7,261.1 L866.6,261.6 L868.5,261.6 L870.3,261.5 L872.2,261.5 L874.1,261.2 L875.9,261.7 L877.8,262.5 L879.7,263.3 L881.6,264.1 L883.4,264.8 L885.3,264.4 L887.2,263.8 L889.0,266.1 L890.9,270.7 L892.8,274.4 L894.6,276.9 L896.5,279.8 L898.4,283.1 L900.2,285.9 L902.1,287.5 L904.0,289.2 L905.8,291.8 L907.7,294.0 L909.6,330.6 L911.4,337.2 L913.3,350.2 L915.2,358.3 L917.0,363.7 L918.9,369.9 L920.8,377.5 L922.7,384.3 L924.5,389.5 L926.4,393.2 L928.3,395.0 L930.1,395.3 L932.0,397.6 L933.9,399.0 L935.7,398.8 L937.6,396.9 L939.5,393.1 L941.3,388.5 L943.2,383.4 L945.1,375.7 L946.9,367.1 L948.8,366.1 L950.7,365.0 L952.5,364.9 L954.4,364.9 L956.3,364.7 L958.2,361.4 L960.0,356.4 L961.9,351.9 L963.8,349.2 L965.6,348.8 L967.5,348.7 L969.4,344.9 L971.2,341.0 L973.1,343.9 L975.0,348.1 L976.8,350.9 L978.7,354.0 L980.6,356.9 L982.4,359.4 L984.3,363.2 L986.2,365.1 L988.0,366.6 L989.9,370.2 L991.8,374.9 L993.6,380.6 L995.5,387.2 L997.4,393.4 L999.3,398.9 L1001.1,400.9 L1003.0,401.5 L1004.9,400.6 L1006.7,399.9 L1008.6,399.3 L1010.5,400.2 L1012.3,400.3 L1014.2,399.9 L1016.1,399.6 L1017.9,399.3 L1019.8,398.7 L1021.7,398.4 L1023.5,396.7 L1025.4,394.1 L1027.3,394.3 L1029.1,395.4 L1031.0,396.3 L1032.9,394.8 L1034.8,391.6 L1036.6,387.5 L1038.5,386.3 L1040.4,385.5 L1042.2,386.2 L1044.1,386.8 L1046.0,386.7 L1047.8,386.6 L1049.7,387.7 L1051.6,388.1 L1053.4,387.7 L1055.3,386.8 L1057.2,386.3 L1059.0,386.0 L1060.9,386.3 L1062.8,386.2 L1064.6,386.6 L1066.5,389.5 L1068.4,391.8 L1070.2,393.7 L1072.1,396.2 L1074.0,398.9 L1075.9,399.8 L1077.7,400.1 L1079.6,398.5 L1081.5,397.1 L1083.3,395.7 L1085.2,392.7 L1087.1,388.4 L1088.9,384.0 L1090.8,380.3 L1092.7,376.6 L1094.5,372.8 L1096.4,366.3 L1098.3,357.9 L1100.1,348.4 L1102.0,341.8 L1103.9,339.7 L1105.7,338.3 L1107.6,336.5 L1109.5,337.8 L1111.4,339.5 L1113.2,341.8 L1115.1,343.9 L1117.0,347.0 L1118.8,349.5 L1120.7,351.5 L1122.6,351.4 L1124.4,351.8 L1126.3,353.9 L1128.2,358.2 L1130.0,361.1 L1131.9,362.6 L1133.8,363.5 L1135.6,364.4 L1137.5,364.1 L1139.4,363.9 L1141.2,363.4 L1143.1,362.8 L1145.0,362.0 L1146.8,360.4 L1148.7,358.4 L1150.6,355.3 L1152.5,352.1 L1154.3,347.2 L1156.2,343.1 L1158.1,337.9 L1159.9,336.5 L1161.8,336.6 L1163.7,337.0 L1165.5,336.1 L1167.4,334.3 L1169.3,332.6 L1171.1,332.3 L1173.0,333.4 L1174.9,337.2 L1176.7,339.9 L1178.6,341.3 L1180.5,341.1 L1182.3,341.3 L1184.2,340.6 L1186.1,340.2 L1188.0,339.2 L1189.8,337.6 L1191.7,335.0 L1193.6,330.8 L1195.4,326.8 L1197.3,322.8 L1199.2,319.4 L1201.0,317.5 L1202.9,313.6 L1204.8,310.8 L1206.6,309.0 L1208.5,313.1 L1210.4,319.0 L1212.2,325.0 L1214.1,330.7 L1216.0,337.9 L1217.8,344.8 L1219.7,350.1 L1221.6,353.3 L1223.4,355.4 L1225.3,358.7 L1227.2,362.0 L1229.1,365.3 L1230.9,368.9 L1232.8,370.9 L1234.7,373.4 L1236.5,374.9 L1238.4,377.6 L1240.3,378.0 L1242.1,375.8 L1244.0,371.9 L1245.9,369.9 L1247.7,368.7 L1249.6,368.8 L1251.5,371.6 L1253.3,373.8 L1255.2,374.5 L1257.1,374.6 L1258.9,374.8 L1260.8,374.8 L1262.7,374.2 L1264.6,373.1 L1266.4,371.3 L1268.3,369.1 L1270.2,367.2 L1272.0,364.2 L1273.9,360.7 L1275.8,355.2 L1277.6,349.2 L1279.5,345.6 L1281.4,345.2 L1283.2,346.5 L1285.1,347.0 L1287.0,348.2 L1288.8,347.4 L1290.7,346.2 L1292.6,347.0 L1294.4,348.3 L1296.3,349.9 L1298.2,350.3 L1300.1,350.4 L1301.9,350.7 L1303.8,351.4 L1305.7,351.4 L1307.5,351.3 L1309.4,353.1 L1311.3,356.6 L1313.1,359.7 L1315.0,360.5 L1316.9,361.8 L1318.7,362.0 L1320.6,361.5 L1322.5,361.1 L1324.3,360.0 L1326.2,358.9 L1328.1,358.0 L1329.9,356.5 L1331.8,354.8 L1333.7,352.1 L1335.5,350.4 L1337.4,349.3 L1339.3,349.3 L1341.2,349.1 L1343.0,351.5 L1344.9,354.9 L1346.8,357.5 L1348.6,359.2 L1350.5,360.9 L1352.4,363.1 L1354.2,364.7 L1356.1,365.2 L1358.0,365.6 L1359.8,365.9 L1361.7,366.3 L1363.6,367.2 L1365.4,369.7 L1367.3,374.5 L1369.2,377.4 L1371.0,378.1 L1372.9,379.6 L1374.8,379.4 L1376.7,379.6 L1378.5,379.3 L1380.4,379.3 L1382.3,380.3 L1384.1,380.5 L1386.0,380.0 L1387.9,379.7 L1389.7,379.9 L1391.6,379.5 L1393.5,378.2 L1395.3,378.0 L1397.2,377.7 L1399.1,376.7 L1400.9,376.6 L1402.8,377.1 L1404.7,375.4 L1406.5,375.9 L1408.4,378.6 L1410.3,379.1 L1412.1,380.0 L1414.0,381.0 L1415.9,382.1 L1417.8,384.0 L1419.6,383.1 L1421.5,381.9 L1423.4,380.6 L1425.2,379.9 L1427.1,379.2 L1429.0,380.3 L1430.8,380.8 L1432.7,381.5 L1434.6,381.2 L1436.4,381.4 L1438.3,380.7 L1440.2,379.7 L1442.0,379.9 L1443.9,381.5 L1445.8,384.2 L1447.6,386.9 L1449.5,390.1 L1451.4,392.6 L1453.3,393.8 L1455.1,392.2 L1457.0,391.3 L1458.9,390.8 L1460.7,390.1 L1462.6,389.7 L1464.5,390.5 L1466.3,391.2 L1468.2,391.4 L1470.1,391.4 L1471.9,391.1 L1473.8,390.5 L1475.7,389.2 L1477.5,388.6 L1479.4,388.0 L1481.3,388.8 L1483.1,392.9 L1485.0,402.7 L1486.9,413.2 L1488.7,423.1 L1490.6,431.0 L1492.5,437.1 L1494.4,441.4 L1496.2,445.6 L1498.1,448.6 L1500.0,450.3 L1501.8,451.3 L1503.7,451.8 L1505.6,451.7 L1507.4,450.7 L1509.3,449.4 L1511.2,447.9 L1513.0,446.3 L1514.9,445.0 L1516.8,442.2 L1518.6,439.6 L1520.5,438.8 L1522.4,438.8 L1524.2,437.6 L1526.1,434.8 L1528.0,431.7 L1529.9,428.9 L1531.7,427.1 L1533.6,424.8 L1535.5,422.6 L1537.3,421.5 L1539.2,421.3 L1541.1,421.3 L1542.9,421.3 L1544.8,421.4 L1546.7,421.1 L1548.5,421.0 L1550.4,420.8 L1552.3,418.6 L1554.1,417.3 L1556.0,417.5 L1557.9,418.8 L1559.7,419.1 L1561.6,419.4 L1563.5,421.0 L1565.3,422.0 L1567.2,423.4 L1569.1,423.8 L1571.0,423.5 L1572.8,423.4 L1574.7,423.3 L1576.6,423.3 L1578.4,423.1 L1580.3,423.4 L1582.2,424.6 L1584.0,425.4 L1585.9,426.0 L1587.8,425.9 L1589.6,425.7 L1591.5,426.4 L1593.4,427.0 L1595.2,425.6 L1597.1,424.9 L1599.0,424.0 L1600.8,421.8 L1602.7,419.6 L1604.6,416.4 L1606.5,413.6 L1608.3,412.8 L1610.2,413.2 L1612.1,413.7 L1613.9,412.9 L1615.8,412.0 L1617.7,411.7 L1619.5,411.7 L1621.4,411.8 L1623.3,411.9 L1625.1,411.7 L1627.0,412.1 L1628.9,412.5 L1630.7,413.4 L1632.6,413.6 L1634.5,413.3 L1636.3,412.9 L1638.2,412.7 L1640.1,411.9 L1641.9,411.4 L1643.8,410.6 L1645.7,409.4 L1647.6,405.6 L1649.4,401.6 L1651.3,400.2 L1653.2,399.6 L1655.0,398.3 L1656.9,397.1 L1658.8,396.3 L1660.6,396.3 L1662.5,396.0 L1664.4,396.9 L1666.2,397.3 L1668.1,397.4 L1670.0,398.1 L1671.8,399.7 L1673.7,399.9 L1675.6,399.3 L1677.4,399.4 L1679.3,400.4 L1681.2,401.5 L1683.1,402.4 L1684.9,403.2 L1686.8,404.1 L1688.7,404.7 L1690.5,405.6 L1692.4,405.9 L1694.3,405.9 L1696.1,405.7 L1698.0,404.9 L1699.9,403.5 L1701.7,401.9 L1703.6,400.0 L1705.5,398.2 L1707.3,394.9 L1709.2,389.4 L1711.1,384.4 L1712.9,381.1 L1714.8,377.6 L1716.7,376.1 L1718.5,375.4 L1720.4,374.7 L1722.3,373.5 L1724.2,372.5 L1726.0,373.2 L1727.9,376.8 L1729.8,379.7 L1731.6,382.4 L1733.5,385.3 L1735.4,388.2 L1737.2,390.4 L1739.1,390.9 L1741.0,390.5 L1742.8,391.2 L1744.7,391.7 L1746.6,391.7 L1748.4,392.3 L1750.3,393.0 L1752.2,393.2 L1754.0,393.2 L1755.9,392.9 L1757.8,392.7 L1759.7,392.7 L1761.5,392.6 L1763.4,392.2 L1765.3,390.2 L1767.1,387.8 L1769.0,384.8 L1770.9,381.2 L1772.7,376.4 L1774.6,370.0 L1776.5,364.8 L1778.3,364.6 L1780.2,365.5 L1782.1,366.1 L1783.9,366.9 L1785.8,367.4 L1787.7,367.5 L1789.5,367.3 L1791.4,367.8 L1793.3,368.9 L1795.2,369.2 L1797.0,369.8 L1798.9,370.7 L1800.8,372.1 L1802.6,373.4 L1804.5,374.1 L1806.4,374.2 L1808.2,374.1 L1810.1,374.9 L1812.0,377.5 L1813.8,379.9 L1815.7,381.5 L1817.6,382.7 L1819.4,382.3 L1821.3,380.7 L1823.2,378.5 L1825.0,378.2 L1826.9,379.7 L1828.8,381.1 L1830.6,382.7 L1832.5,384.8 L1834.4,387.3 L1836.3,390.4 L1838.1,393.7 L1840.0,398.6 L1841.9,402.0 L1843.7,405.7 L1845.6,408.2 L1847.5,410.8 L1849.3,414.4 L1851.2,416.6 L1853.1,417.8 L1854.9,419.0 L1856.8,418.4 L1858.7,416.8 L1860.5,414.5 L1862.4,413.3 L1864.3,412.9 L1866.1,412.1 L1868.0,411.1 L1869.9,410.5 L1871.8,413.0 L1873.6,415.3 L1875.5,417.8 L1877.4,420.0 L1879.2,421.8 L1881.1,420.7 L1883.0,419.0 L1884.8,416.7 L1886.7,413.1 L1888.6,410.2 L1890.4,407.9 L1892.3,405.1 L1894.2,404.0 L1896.0,405.3 L1897.9,407.7 L1899.8,409.7 L1901.6,412.1 L1903.5,416.2 L1905.4,419.6 L1907.2,423.0 L1909.1,426.2 L1911.0,430.1 L1912.9,432.7 L1914.7,433.2 L1916.6,431.1 L1918.5,430.1 L1920.3,429.4 L1922.2,428.3 L1924.1,427.8 L1925.9,426.8 L1927.8,425.1 L1929.7,422.2 L1931.5,420.1 L1933.4,419.5 L1935.3,420.0 L1937.1,419.7 L1939.0,419.2 L1940.9,420.1 L1942.7,420.0 L1944.6,419.9 L1946.5,420.1 L1948.4,420.3 L1950.2,421.2 L1952.1,422.6 L1954.0,423.6 L1955.8,424.0 L1957.7,424.7 L1959.6,425.3 L1961.4,425.2 L1963.3,424.3 L1965.2,423.9 L1967.0,423.2 L1968.9,422.1 L1970.8,421.1 L1972.6,419.1 L1974.5,417.6 L1976.4,415.0 L1978.2,411.2 L1980.1,408.7 L1982.0,405.5 L1983.8,404.7 L1985.7,405.4 L1987.6,407.5 L1989.5,409.0 L1991.3,409.7 L1993.2,409.6 L1995.1,410.7 L1996.9,412.5 L1998.8,414.1 L2000.7,415.3 L2002.5,418.3 L2004.4,420.6 L2006.3,422.1 L2008.1,421.7 L2010.0,421.1 L2011.9,420.3 L2013.7,419.3 L2015.6,417.9 L2017.5,416.0 L2019.3,415.1 L2021.2,412.8 L2023.1,409.4 L2025.0,404.1 L2026.8,397.8 L2028.7,392.6 L2030.6,388.1 L2032.4,387.6 L2034.3,386.3 L2036.2,384.7 L2038.0,383.4 L2039.9,382.7 L2041.8,382.2 L2043.6,382.1 L2045.5,381.8 L2047.4,380.7 L2049.2,378.5 L2051.1,374.7 L2053.0,368.4 L2054.8,362.3 L2056.7,358.9 L2058.6,357.2 L2060.4,354.6 L2062.3,351.6 L2064.2,348.5 L2066.1,347.8 L2067.9,347.2 L2069.8,347.6 L2071.7,347.4 L2073.5,347.6 L2075.4,347.1 L2077.3,345.8 L2079.1,343.0 L2081.0,342.9 L2082.9,343.0 L2084.7,343.0 L2086.6,343.0 L2088.5,343.1 L2090.3,343.9 L2092.2,343.7 L2094.1,343.9 L2095.9,344.4 L2097.8,344.5 L2099.7,344.3 L2101.6,343.2 L2103.4,342.8 L2105.3,342.0 L2107.2,341.9 L2109.0,341.3 L2110.9,339.5 L2112.8,339.0 L2114.6,339.6 L2116.5,339.9 L2118.4,339.9 L2120.2,339.8 L2122.1,339.0 L2124.0,339.0 L2125.8,339.3 L2127.7,340.4 L2129.6,340.4 L2131.4,339.5 L2133.3,337.5 L2135.2,335.8 L2137.0,333.7 L2138.9,332.8 L2140.8,334.6 L2142.7,336.6 L2144.5,338.4 L2146.4,341.0 L2148.3,343.7 L2150.1,346.5 L2152.0,347.7 L2153.9,349.2 L2155.7,349.5 L2157.6,350.8 L2159.5,350.6 L2161.3,350.5 L2163.2,350.6 L2165.1,350.5 L2166.9,350.4 L2168.8,350.5 L2170.7,349.8 L2172.5,349.8 L2174.4,349.6 L2176.3,350.2 L2178.2,350.9 L2180.0,352.8 L2181.9,353.6 L2183.8,353.5 L2185.6,353.1 L2187.5,352.3 L2189.4,352.5 L2191.2,351.6 L2193.1,351.7 L2195.0,350.6 L2196.8,350.6 L2198.7,350.7 L2200.6,350.7 L2202.4,350.9 L2204.3,351.1 L2206.2,351.0 L2208.0,351.2 L2209.9,349.7 L2211.8,347.9 L2213.7,346.4 L2215.5,344.2 L2217.4,339.6 L2219.3,335.7 L2221.1,336.0 L2223.0,335.7 L2224.9,335.0 L2226.7,335.5 L2228.6,334.7 L2230.5,334.0 L2232.3,332.7 L2234.2,330.8 L2236.1,329.4 L2237.9,327.1 L2239.8,325.8 L2241.7,325.3 L2243.5,326.2 L2245.4,328.6 L2247.3,328.8 L2249.1,328.2 L2251.0,327.7 L2252.9,326.6 L2254.8,326.1 L2256.6,326.4 L2258.5,326.5 L2260.4,327.2 L2262.2,326.9 L2264.1,326.0 L2266.0,323.7 L2267.8,319.6 L2269.7,315.0 L2271.6,309.5 L2273.4,303.6 L2275.3,296.0 L2277.2,287.0 L2279.0,281.2 L2280.9,276.9 L2282.8,274.9 L2284.6,274.0 L2286.5,272.9 L2288.4,271.2 L2290.3,268.4 L2292.1,266.6 L2294.0,267.0 L2295.9,268.6 L2297.7,269.4 L2299.6,271.4 L2301.5,274.0 L2303.3,276.6 L2305.2,277.8 L2307.1,279.6 L2308.9,283.2 L2310.8,286.0 L2312.7,287.3 L2314.5,286.9 L2316.4,284.8 L2318.3,280.9 L2320.1,277.2 L2322.0,272.0 L2323.9,266.1 L2325.7,259.1 L2327.6,252.5 L2329.5,245.7 L2331.4,239.5 L2333.2,234.4 L2335.1,227.6 L2337.0,222.0 L2338.8,217.2 L2340.7,213.1 L2342.6,207.1 L2344.4,203.3 L2346.3,203.1 L2348.2,203.0 L2350.0,204.0 L2351.9,204.5 L2353.8,204.4 L2355.6,204.2 L2357.5,204.6 L2359.4,204.7 L2361.2,204.9 L2363.1,204.5 L2365.0,202.1 L2366.9,200.6 L2368.7,199.2 L2370.6,200.8 L2372.5,202.9 L2374.3,203.7 L2376.2,204.4 L2378.1,203.3 L2379.9,200.8 L2381.8,199.0 L2383.7,198.5 L2385.5,198.5 L2387.4,202.4 L2389.3,206.1 L2391.1,210.2 L2393.0,213.2 L2394.9,214.6 L2396.7,214.8 L2398.6,216.4 L2400.5,217.4 L2402.3,218.0 L2404.2,219.3 L2406.1,220.7 L2408.0,221.5 L2409.8,221.3 L2411.7,220.3 L2413.6,218.7 L2415.4,218.2 L2417.3,214.6 L2419.2,212.9 L2421.0,212.1 L2422.9,211.6 L2424.8,212.0 L2426.6,211.9 L2428.5,210.9 L2430.4,210.0 L2432.2,211.1 L2434.1,209.6 L2436.0,209.7 L2437.8,209.6 L2439.7,209.3 L2441.6,211.1 L2443.5,211.2 L2445.3,211.6 L2447.2,211.6 L2449.1,211.8 L2450.9,211.5 L2452.8,211.9 L2454.7,212.5 L2456.5,212.4 L2458.4,212.6 L2460.3,213.0 L2462.1,212.6 L2464.0,212.6 L2465.9,212.5 L2467.7,212.6 L2469.6,212.0 L2471.5,212.5 L2473.3,213.0 L2475.2,212.9 L2477.1,212.2 L2478.9,210.1 L2480.8,209.5 L2482.7,208.4 L2484.6,209.1 L2486.4,208.2 L2488.3,208.0 L2490.2,208.3 L2492.0,208.2 L2493.9,214.8 L2495.8,219.1 L2497.6,220.4 L2499.5,220.2 L2501.4,219.7 L2503.2,218.9 L2505.1,218.4 L2507.0,218.1 L2508.8,218.1 L2510.7,218.1 L2512.6,217.8 L2514.4,217.9 L2516.3,218.3 L2518.2,218.1 L2520.1,217.6 L2521.9,217.6 L2523.8,217.2 L2525.7,217.4 L2527.5,218.0 L2529.4,217.7 L2531.3,216.3 L2533.1,212.8 L2535.0,208.2 L2536.9,205.8 L2538.7,206.1 L2540.6,206.2 L2542.5,206.5 L2544.3,206.8 L2546.2,207.3 L2548.1,207.6 L2549.9,207.2" fill="none" stroke="#089981" stroke-width="2.1" stroke-linejoin="round"/>
<path d="M-29,257.0h2v9.9h-2zM-27,258.3h1v6.2h-1zM-22,249.7h2v16.3h-2zM-20,252.5h2v8.2h-2zM-18,251.8h2v7.4h-2zM-16,243.8h2v15.4h-2zM-11,246.9h2v10.1h-2zM-9,244.0h2v7.8h-2zM-5,244.5h2v9.5h-2zM-3,242.6h2v6.8h-2zM-1,234.5h2v13.8h-2zM6,234.4h2v13.7h-2zM10,237.1h2v16.1h-2zM12,235.2h2v11.6h-2zM16,236.2h1v11.9h-1zM17,226.9h2v17.2h-2zM19,228.2h2v6.8h-2zM21,218.4h2v18.1h-2zM25,219.1h2v12.1h-2zM27,221.3h2v11.2h-2zM30,215.6h2v14.8h-2zM34,215.3h2v15.1h-2zM44,236.9h1v12.3h-1zM47,239.0h2v5.1h-2zM49,231.6h2v11.2h-2zM51,224.6h2v15.9h-2zM53,209.1h2v21.9h-2zM55,192.0h2v25.1h-2zM60,204.5h2v8.9h-2zM62,192.0h2v16.4h-2zM66,196.8h2v13.8h-2zM68,193.6h2v10.2h-2zM70,193.2h2v7.3h-2zM72,184.9h1v15.0h-1zM73,184.3h2v9.8h-2zM75,181.7h2v10.3h-2zM83,189.9h2v9.6h-2zM85,185.9h2v11.8h-2zM90,199.2h2v7.2h-2zM92,192.4h2v13.6h-2zM94,193.8h2v6.9h-2zM96,193.3h2v4.7h-2zM100,195.0h1v6.5h-1zM103,202.0h2v9.1h-2zM105,201.4h2v5.2h-2zM111,197.8h2v15.4h-2zM113,193.9h2v11.8h-2zM115,190.4h1v9.1h-1zM116,180.5h2v19.0h-2zM118,168.0h2v22.4h-2zM120,168.4h2v7.1h-2zM122,170.6h2v8.5h-2zM124,168.2h2v9.3h-2zM126,154.1h2v19.9h-2zM128,155.2h1v8.1h-1zM129,153.6h2v11.4h-2zM137,165.0h2v7.3h-2zM139,166.4h2v5.1h-2zM143,166.8h1v7.5h-1zM144,163.1h2v9.3h-2zM146,160.2h2v11.4h-2zM148,158.7h2v5.4h-2zM152,161.3h2v12.4h-2zM154,158.9h2v10.3h-2zM156,151.4h2v11.9h-2zM158,149.7h1v9.0h-1zM163,151.4h2v8.9h-2zM167,160.1h2v9.0h-2zM171,164.1h1v8.8h-1zM174,158.1h2v19.9h-2zM176,151.6h2v14.0h-2zM178,149.9h2v7.1h-2zM182,147.0h2v7.1h-2zM184,133.0h2v18.6h-2zM186,131.9h1v8.2h-1zM189,127.7h2v10.8h-2zM191,131.4h2v10.7h-2zM195,138.5h2v8.9h-2zM197,133.8h2v10.3h-2zM200,135.8h2v8.9h-2zM202,132.7h2v11.8h-2zM212,144.3h2v7.7h-2zM214,137.0h1v12.1h-1zM215,137.0h2v7.8h-2zM217,135.0h2v9.6h-2zM221,136.4h2v11.4h-2zM223,130.7h2v10.1h-2zM229,137.6h1v9.7h-1zM236,153.9h2v8.0h-2zM238,147.6h2v10.4h-2zM240,144.6h2v9.9h-2zM245,152.2h2v5.3h-2zM249,149.6h2v9.0h-2zM253,151.9h2v15.3h-2zM260,159.0h2v5.8h-2zM262,139.0h2v26.7h-2zM264,136.9h2v7.1h-2zM270,136.0h1v12.9h-1zM275,137.5h2v19.6h-2zM281,143.7h2v9.5h-2zM285,140.6h1v12.2h-1zM286,142.6h2v6.1h-2zM296,153.0h2v15.0h-2zM303,158.7h2v13.1h-2zM307,160.4h2v7.2h-2zM314,167.4h2v10.8h-2zM316,155.4h2v16.7h-2zM318,154.6h2v9.4h-2zM328,170.4h1v10.5h-1zM331,170.9h2v12.3h-2zM333,164.4h2v12.0h-2zM337,165.9h2v19.5h-2zM344,165.8h2v11.8h-2zM348,174.0h2v9.1h-2zM350,162.7h2v19.4h-2zM356,176.2h1v7.3h-1zM359,171.2h2v11.2h-2zM361,168.3h2v10.4h-2zM363,163.2h2v14.4h-2zM369,161.5h2v11.6h-2zM372,162.3h2v11.0h-2zM374,156.3h2v12.3h-2zM378,159.0h2v9.2h-2zM382,158.6h2v9.2h-2zM385,156.6h2v14.2h-2zM387,151.8h2v9.8h-2zM389,145.7h2v12.2h-2zM391,137.5h2v12.8h-2zM395,138.8h2v11.5h-2zM397,138.3h2v9.5h-2zM400,137.1h2v7.9h-2zM402,132.7h2v11.4h-2zM406,130.2h2v12.5h-2zM408,124.6h2v12.7h-2zM413,123.4h2v14.6h-2zM415,126.8h2v10.9h-2zM421,139.1h2v10.4h-2zM428,154.7h2v10.7h-2zM432,158.4h2v9.4h-2zM434,157.9h2v7.6h-2zM436,148.8h2v14.1h-2zM449,172.6h2v5.5h-2zM458,190.4h2v5.3h-2zM460,176.4h2v18.4h-2zM466,178.0h2v12.7h-2zM468,174.2h2v11.8h-2zM471,172.1h2v10.7h-2zM475,171.0h2v8.7h-2zM479,176.6h2v6.4h-2zM481,170.3h2v11.9h-2zM486,165.6h2v16.0h-2zM488,166.2h2v9.0h-2zM490,157.2h2v15.9h-2zM494,164.1h2v10.2h-2zM496,155.4h2v12.5h-2zM498,146.9h1v12.7h-1zM507,163.0h2v10.1h-2zM509,159.4h2v7.0h-2zM518,167.1h2v15.9h-2zM520,166.9h2v8.8h-2zM526,171.9h1v7.9h-1zM529,169.1h2v13.8h-2zM533,166.1h2v9.5h-2zM535,158.9h2v12.9h-2zM541,158.1h1v11.2h-1zM542,157.6h2v9.2h-2zM546,154.8h2v12.4h-2zM548,150.9h2v7.4h-2zM563,194.7h2v6.7h-2zM565,191.2h2v9.3h-2zM572,193.5h2v13.7h-2zM574,194.0h2v12.7h-2zM580,200.0h2v11.6h-2zM585,214.0h2v6.2h-2zM591,214.0h2v9.4h-2zM593,208.1h2v12.2h-2zM597,203.4h1v12.5h-1zM600,199.6h2v16.6h-2zM608,211.2h2v11.6h-2zM610,210.1h2v8.5h-2zM623,228.2h2v13.8h-2zM628,240.6h2v11.5h-2zM630,230.9h2v14.7h-2zM636,222.6h2v18.7h-2zM641,222.9h2v9.8h-2zM647,229.7h2v6.5h-2zM651,229.1h2v9.0h-2zM653,223.7h1v9.3h-1zM654,221.7h2v8.6h-2zM656,219.3h2v6.1h-2zM658,210.7h2v16.1h-2zM660,205.5h2v14.0h-2zM664,214.6h2v8.9h-2zM669,220.5h2v6.8h-2zM671,219.0h2v13.2h-2zM673,213.9h2v8.9h-2zM677,218.2h2v8.4h-2zM679,214.0h2v10.4h-2zM681,215.4h2v8.7h-2zM683,211.9h1v10.6h-1zM684,207.8h2v8.7h-2zM686,207.8h2v6.5h-2zM688,196.3h2v15.3h-2zM690,193.7h2v8.2h-2zM703,213.8h2v12.5h-2zM705,213.0h2v7.0h-2zM707,206.9h2v12.5h-2zM711,217.1h1v4.9h-1zM712,208.0h2v16.3h-2zM714,206.8h2v9.5h-2zM718,208.6h2v7.3h-2zM720,205.4h2v7.8h-2zM722,200.1h2v10.5h-2zM727,199.1h2v14.2h-2zM731,205.9h2v10.3h-2zM735,208.8h2v7.6h-2zM740,208.6h2v14.6h-2zM742,201.9h2v12.0h-2zM754,215.3h1v21.5h-1zM755,212.1h2v9.0h-2zM757,209.9h2v9.9h-2zM761,217.1h2v4.7h-2zM763,215.9h2v5.2h-2zM767,214.9h1v8.4h-1zM783,238.9h2v14.6h-2zM798,264.6h2v7.6h-2zM806,276.4h2v8.7h-2zM810,261.2h1v22.7h-1zM811,258.1h2v13.0h-2zM813,250.7h2v13.0h-2zM815,252.8h2v6.2h-2zM817,246.8h2v12.6h-2zM819,243.3h2v12.4h-2zM825,241.4h1v19.5h-1zM832,247.7h2v10.7h-2zM834,243.6h2v9.0h-2zM836,240.9h2v10.2h-2zM841,249.7h2v7.2h-2zM843,239.4h2v16.0h-2zM853,253.2h1v9.3h-1zM856,248.1h2v12.3h-2zM862,246.2h2v16.8h-2zM866,239.1h1v14.6h-1zM871,242.1h2v9.1h-2zM875,240.5h2v13.6h-2zM877,234.8h2v11.5h-2zM879,232.6h2v10.4h-2zM881,229.9h1v7.4h-1zM882,229.9h2v9.7h-2zM892,273.2h2v5.9h-2zM894,268.4h1v10.2h-1zM899,268.0h2v12.6h-2zM901,262.4h2v14.6h-2zM907,275.7h2v4.8h-2zM910,296.0h2v132.0h-2zM914,316.4h2v31.3h-2zM916,320.3h2v24.5h-2zM924,354.5h1v15.8h-1zM925,346.1h2v16.6h-2zM927,331.5h2v22.1h-2zM929,315.2h2v29.6h-2zM933,340.4h2v17.0h-2zM935,329.2h2v29.0h-2zM937,320.2h1v31.3h-1zM938,320.6h2v16.2h-2zM942,321.5h2v16.7h-2zM946,330.4h2v16.2h-2zM948,323.8h2v12.1h-2zM953,329.5h2v8.1h-2zM955,314.6h2v20.1h-2zM957,313.1h2v11.2h-2zM965,325.2h1v10.0h-1zM966,317.2h2v17.8h-2zM976,346.0h2v11.5h-2zM985,350.8h2v13.2h-2zM987,349.2h2v6.9h-2zM1000,378.4h2v19.0h-2zM1002,376.8h2v6.8h-2zM1004,370.8h2v11.5h-2zM1006,367.5h2v10.5h-2zM1011,372.3h2v14.4h-2zM1013,370.8h2v6.9h-2zM1019,373.0h2v9.7h-2zM1023,369.8h1v9.5h-1zM1026,360.5h2v15.1h-2zM1028,357.5h2v9.1h-2zM1030,355.0h2v7.9h-2zM1036,359.8h1v4.8h-1zM1043,376.0h2v9.1h-2zM1045,373.6h2v7.9h-2zM1051,375.8h1v9.7h-1zM1052,369.9h2v17.6h-2zM1054,365.8h2v9.0h-2zM1056,366.0h2v5.8h-2zM1062,369.7h2v9.8h-2zM1064,354.7h2v19.0h-2zM1066,338.6h1v20.8h-1zM1067,338.7h2v5.1h-2zM1069,336.6h2v8.7h-2zM1071,328.5h2v13.1h-2zM1073,323.1h2v12.1h-2zM1077,326.0h2v10.4h-2zM1080,325.7h2v11.5h-2zM1082,319.5h2v9.9h-2zM1086,318.3h2v5.9h-2zM1090,323.5h2v8.5h-2zM1094,319.0h1v14.9h-1zM1095,317.8h2v7.7h-2zM1097,315.7h2v7.1h-2zM1101,320.9h2v7.4h-2zM1107,326.4h1v9.6h-1zM1110,334.6h2v6.0h-2zM1114,341.4h2v10.7h-2zM1118,342.5h2v9.6h-2zM1120,341.0h2v7.5h-2zM1122,328.4h1v21.5h-1zM1123,314.7h2v19.1h-2zM1125,302.9h2v19.0h-2zM1127,288.1h2v21.6h-2zM1129,286.4h2v7.0h-2zM1135,291.8h2v12.8h-2zM1144,315.3h2v17.0h-2zM1148,315.5h2v12.8h-2zM1150,308.5h1v13.0h-1zM1157,319.1h2v8.8h-2zM1159,316.0h2v8.5h-2zM1161,315.2h2v10.7h-2zM1163,313.8h2v5.0h-2zM1166,311.9h2v8.2h-2zM1168,307.1h2v8.7h-2zM1170,294.4h2v21.0h-2zM1172,283.4h2v18.8h-2zM1174,276.8h2v17.4h-2zM1176,273.3h2v10.8h-2zM1178,273.4h1v9.4h-1zM1179,273.4h2v8.4h-2zM1181,272.8h2v5.3h-2zM1183,269.1h2v9.5h-2zM1185,267.2h2v6.2h-2zM1198,291.8h2v8.6h-2zM1202,293.9h2v14.8h-2zM1219,339.2h2v6.2h-2zM1221,332.1h1v13.4h-1zM1232,352.2h2v9.1h-2zM1239,359.6h2v6.8h-2zM1241,348.9h2v16.9h-2zM1243,340.3h2v13.6h-2zM1245,337.4h2v9.5h-2zM1247,327.7h2v17.4h-2zM1249,322.8h1v13.7h-1zM1250,308.3h2v21.7h-2zM1258,323.6h2v6.4h-2zM1265,332.0h2v10.5h-2zM1269,327.5h2v9.6h-2zM1273,325.8h2v9.6h-2zM1277,328.5h1v7.2h-1zM1284,331.9h2v16.4h-2zM1288,335.5h2v9.7h-2zM1290,337.3h2v6.9h-2zM1297,340.5h2v11.0h-2zM1299,338.3h2v10.5h-2zM1305,335.4h2v14.4h-2zM1307,329.0h1v12.4h-1zM1308,317.3h2v17.0h-2zM1310,308.9h2v15.9h-2zM1312,305.7h2v7.0h-2zM1316,308.9h2v12.3h-2zM1320,305.3h1v13.3h-1zM1331,328.4h2v9.2h-2zM1333,332.1h2v4.9h-2zM1336,330.1h2v9.0h-2zM1346,346.4h2v12.2h-2zM1348,343.1h1v6.3h-1zM1355,350.0h2v7.4h-2zM1361,352.4h2v9.6h-2zM1368,368.2h2v13.6h-2zM1370,364.2h2v16.3h-2zM1374,368.2h2v9.7h-2zM1376,365.1h2v8.9h-2zM1378,358.8h1v10.7h-1zM1379,360.2h2v5.9h-2zM1383,366.8h2v7.2h-2zM1385,367.4h2v5.9h-2zM1387,363.0h2v10.5h-2zM1391,363.2h1v13.4h-1zM1394,365.3h2v5.9h-2zM1396,364.8h2v4.7h-2zM1398,361.4h2v12.6h-2zM1404,365.3h2v10.9h-2zM1406,352.9h1v15.7h-1zM1407,346.2h2v16.5h-2zM1411,344.4h2v8.3h-2zM1413,338.3h2v10.2h-2zM1415,338.3h2v9.5h-2zM1417,333.1h2v14.5h-2zM1430,368.4h2v6.8h-2zM1434,362.6h1v13.3h-1zM1435,363.4h2v4.7h-2zM1437,356.7h2v11.0h-2zM1452,382.7h2v8.9h-2zM1454,380.8h2v6.3h-2zM1456,377.8h2v7.5h-2zM1460,372.1h2v10.1h-2zM1462,375.1h1v4.2h-1zM1465,381.2h2v4.6h-2zM1467,373.9h2v13.1h-2zM1469,367.7h2v12.2h-2zM1490,431.4h1v5.0h-1zM1491,430.3h2v9.5h-2zM1493,422.2h2v11.3h-2zM1497,423.7h2v7.3h-2zM1499,415.7h2v11.5h-2zM1501,408.1h2v13.1h-2zM1503,408.6h2v10.3h-2zM1505,404.2h1v8.5h-1zM1508,399.1h2v14.5h-2zM1516,417.6h2v9.5h-2zM1518,406.3h2v14.7h-2zM1520,404.1h1v7.7h-1zM1525,408.0h2v6.8h-2zM1527,408.1h2v7.6h-2zM1534,405.7h2v14.7h-2zM1536,404.0h2v7.2h-2zM1540,404.9h2v6.3h-2zM1542,400.3h2v9.0h-2zM1546,406.0h2v9.0h-2zM1548,407.9h1v3.4h-1zM1553,407.7h2v13.5h-2zM1559,413.4h2v9.4h-2zM1564,417.7h2v10.1h-2zM1568,416.2h2v8.1h-2zM1570,405.5h2v15.9h-2zM1574,406.0h2v7.0h-2zM1579,397.8h2v15.5h-2zM1581,393.8h2v12.5h-2zM1589,394.7h2v12.6h-2zM1591,391.6h1v7.7h-1zM1592,387.3h2v8.9h-2zM1600,402.9h2v5.7h-2zM1602,402.0h2v5.5h-2zM1604,398.5h1v7.1h-1zM1611,408.1h2v6.5h-2zM1613,397.4h2v17.5h-2zM1615,392.3h2v12.3h-2zM1619,393.9h1v7.4h-1zM1620,392.7h2v5.6h-2zM1622,390.0h2v13.9h-2zM1626,387.3h2v11.9h-2zM1628,387.3h2v8.0h-2zM1630,383.6h2v9.9h-2zM1633,382.7h2v7.7h-2zM1635,381.3h2v7.1h-2zM1637,375.3h2v13.0h-2zM1647,385.0h1v14.5h-1zM1648,379.8h2v10.9h-2zM1652,381.7h2v15.3h-2zM1654,381.4h2v10.4h-2zM1663,391.7h2v5.8h-2zM1665,389.1h2v9.1h-2zM1667,386.5h2v9.0h-2zM1673,387.9h2v13.3h-2zM1675,382.7h1v15.5h-1zM1676,379.1h2v8.3h-2zM1678,372.9h2v18.4h-2zM1680,373.7h2v6.8h-2zM1682,367.0h2v10.4h-2zM1686,368.8h2v5.2h-2zM1688,364.0h2v8.9h-2zM1690,361.6h1v7.0h-1zM1695,360.6h2v12.9h-2zM1697,355.6h2v10.8h-2zM1699,353.9h2v10.4h-2zM1701,353.4h2v7.7h-2zM1706,353.6h2v6.1h-2zM1714,360.9h2v6.1h-2zM1719,362.4h2v12.1h-2zM1721,357.3h2v12.4h-2zM1736,381.5h2v7.5h-2zM1738,375.4h2v12.4h-2zM1740,363.8h2v19.8h-2zM1742,349.0h2v18.5h-2zM1747,348.9h2v11.3h-2zM1749,348.5h2v7.1h-2zM1753,351.7h2v6.0h-2zM1755,348.6h2v7.7h-2zM1762,351.4h2v12.2h-2zM1772,357.9h2v6.0h-2zM1774,353.1h1v10.5h-1zM1775,347.7h2v8.4h-2zM1777,338.2h2v16.8h-2zM1783,333.5h2v12.5h-2zM1794,358.0h2v6.5h-2zM1803,362.7h2v7.4h-2zM1805,359.8h2v8.5h-2zM1807,359.7h2v3.6h-2zM1817,372.1h1v5.5h-1zM1818,361.8h2v15.2h-2zM1820,363.3h2v6.8h-2zM1828,372.6h2v12.9h-2zM1841,397.6h2v7.5h-2zM1845,399.9h1v7.1h-1zM1850,402.3h2v9.4h-2zM1852,398.5h2v12.3h-2zM1856,393.1h2v11.3h-2zM1858,390.8h2v10.3h-2zM1860,390.0h1v9.0h-1zM1861,391.8h2v5.8h-2zM1863,385.1h2v11.5h-2zM1865,383.4h2v6.1h-2zM1869,391.0h2v6.3h-2zM1871,368.8h2v26.2h-2zM1873,368.8h1v6.4h-1zM1874,363.7h2v9.0h-2zM1876,352.3h2v16.9h-2zM1878,349.8h2v11.9h-2zM1888,374.7h1v8.5h-1zM1899,403.0h2v7.7h-2zM1901,401.6h2v5.0h-2zM1908,410.2h2v9.6h-2zM1912,411.9h2v11.1h-2zM1914,409.4h2v10.8h-2zM1916,401.7h1v13.5h-1zM1921,405.7h2v8.6h-2zM1927,413.2h2v4.9h-2zM1929,408.4h2v9.9h-2zM1932,410.1h2v9.2h-2zM1936,410.6h2v8.3h-2zM1942,408.9h2v12.4h-2zM1945,405.9h2v10.8h-2zM1947,397.0h2v16.7h-2zM1949,391.7h2v13.0h-2zM1951,392.6h2v8.6h-2zM1957,390.2h2v12.8h-2zM1959,390.6h1v4.5h-1zM1964,387.8h2v17.2h-2zM1968,390.4h2v5.6h-2zM1972,397.2h2v6.9h-2zM1974,394.2h1v7.1h-1zM1975,394.1h2v5.9h-2zM1981,393.1h2v9.8h-2zM1985,402.4h2v4.5h-2zM1988,406.2h2v5.1h-2zM1990,399.4h2v12.8h-2zM1992,391.9h2v19.6h-2zM1994,382.7h2v19.5h-2zM1996,375.2h2v12.5h-2zM1998,374.4h2v7.0h-2zM2000,370.3h2v9.7h-2zM2002,361.0h1v13.0h-1zM2003,356.5h2v9.9h-2zM2016,369.3h2v12.6h-2zM2018,359.4h2v18.0h-2zM2020,349.8h2v16.6h-2zM2028,337.9h2v22.0h-2zM2031,328.5h2v15.5h-2zM2035,335.4h2v5.4h-2zM2043,332.5h2v19.1h-2zM2045,325.2h1v11.4h-1zM2048,323.3h2v6.2h-2zM2054,322.9h2v8.7h-2zM2059,331.0h2v5.6h-2zM2065,334.3h2v8.9h-2zM2069,335.7h2v5.0h-2zM2071,333.5h2v9.3h-2zM2074,331.6h2v13.4h-2zM2076,326.3h2v11.4h-2zM2078,326.2h2v5.5h-2zM2080,324.3h2v8.9h-2zM2082,323.5h2v6.8h-2zM2086,323.6h1v13.4h-1zM2087,321.0h2v8.9h-2zM2089,317.0h2v10.8h-2zM2097,333.3h2v7.9h-2zM2101,332.2h1v6.2h-1zM2102,321.6h2v18.1h-2zM2106,314.2h2v14.5h-2zM2112,316.8h2v10.5h-2zM2114,311.5h1v12.0h-1zM2129,323.7h1v14.3h-1zM2130,318.9h2v9.8h-2zM2132,315.9h2v9.3h-2zM2136,318.8h2v4.4h-2zM2151,340.7h2v9.6h-2zM2155,334.6h2v15.9h-2zM2158,325.2h2v22.7h-2zM2160,326.1h2v5.9h-2zM2162,324.1h2v7.0h-2zM2166,325.4h2v9.2h-2zM2170,328.4h2v13.3h-2zM2175,335.6h2v12.3h-2zM2181,342.5h2v12.8h-2zM2183,323.6h2v26.4h-2zM2186,327.5h2v7.5h-2zM2188,320.8h2v12.9h-2zM2192,319.1h2v11.5h-2zM2198,322.6h2v6.9h-2zM2201,319.5h2v13.9h-2zM2205,317.3h2v8.5h-2zM2207,317.3h2v6.0h-2zM2211,320.8h2v7.9h-2zM2213,311.3h2v13.6h-2zM2215,310.6h1v6.8h-1zM2216,306.7h2v11.7h-2zM2218,304.0h2v16.0h-2zM2220,303.9h2v6.8h-2zM2222,298.7h2v11.2h-2zM2226,297.3h2v10.5h-2zM2231,306.0h2v6.8h-2zM2235,304.6h2v7.1h-2zM2239,300.7h2v12.2h-2zM2241,291.0h2v21.4h-2zM2243,282.9h1v12.9h-1zM2244,271.5h2v18.1h-2zM2246,266.2h2v10.0h-2zM2254,265.6h2v10.7h-2zM2256,254.1h1v15.7h-1zM2257,249.7h2v10.5h-2zM2259,244.7h2v12.4h-2zM2261,244.4h2v6.0h-2zM2271,251.7h1v8.6h-1zM2274,252.8h2v8.0h-2zM2280,263.2h2v6.7h-2zM2282,254.9h2v14.4h-2zM2286,259.1h1v6.0h-1zM2287,257.5h2v9.6h-2zM2289,251.5h2v13.2h-2zM2291,246.4h2v11.5h-2zM2293,243.1h2v11.6h-2zM2295,235.1h2v11.6h-2zM2299,225.8h1v16.1h-1zM2300,221.8h2v15.3h-2zM2302,216.7h2v10.7h-2zM2306,208.1h2v16.2h-2zM2308,192.7h2v22.8h-2zM2310,181.9h2v16.4h-2zM2315,181.8h2v11.9h-2zM2319,192.4h2v5.5h-2zM2321,185.8h2v13.6h-2zM2323,188.6h2v4.9h-2zM2328,196.9h2v11.1h-2zM2330,195.7h2v6.7h-2zM2332,187.9h2v13.4h-2zM2338,187.7h2v12.1h-2zM2343,192.8h2v12.8h-2zM2345,188.5h2v7.8h-2zM2347,187.5h2v4.9h-2zM2349,174.4h2v17.4h-2zM2357,176.4h1v15.5h-1zM2360,180.6h2v6.9h-2zM2366,182.7h2v5.7h-2zM2368,179.9h2v9.7h-2zM2370,167.8h1v18.7h-1zM2371,158.9h2v16.1h-2zM2373,155.2h2v11.6h-2zM2379,164.3h2v9.7h-2zM2392,203.8h2v9.1h-2zM2394,195.0h2v19.6h-2zM2396,186.4h2v13.9h-2zM2399,194.6h2v7.4h-2zM2401,189.1h2v14.3h-2zM2407,194.9h2v8.5h-2zM2416,198.7h2v12.3h-2zM2418,194.2h2v10.1h-2zM2426,200.3h2v12.5h-2zM2428,200.9h1v6.8h-1zM2429,194.5h2v14.5h-2zM2433,196.1h2v17.3h-2zM2437,199.6h2v6.9h-2zM2442,202.9h2v14.0h-2zM2446,197.3h2v13.5h-2zM2450,198.1h2v12.0h-2zM2452,190.8h2v15.8h-2zM2454,191.1h2v5.0h-2zM2461,196.3h2v12.7h-2zM2463,196.1h2v11.3h-2zM2467,193.4h2v12.3h-2zM2469,192.3h1v7.5h-1zM2470,188.7h2v9.7h-2zM2472,185.9h2v9.7h-2zM2485,198.0h2v10.1h-2zM2487,192.6h2v13.9h-2zM2489,185.6h2v16.1h-2zM2493,160.2h2v38.8h-2zM2495,149.8h2v17.8h-2zM2504,191.0h2v7.8h-2zM2506,186.9h2v7.7h-2zM2510,186.1h2v8.1h-2zM2517,195.3h2v12.8h-2zM2519,193.6h2v25.4h-2zM2523,192.0h2v22.1h-2zM2527,194.9h1v11.0h-1zM2528,185.1h2v15.9h-2zM2530,183.7h2v11.9h-2zM2534,179.1h2v12.0h-2zM2540,180.3h1v10.3h-1zM2543,177.2h2v7.3h-2zM2545,176.2h2v10.3h-2z" fill="#089981"/>
<path d="M-26,258.4h2v6.7h-2zM-24,257.8h2v5.1h-2zM-14,244.6h2v11.1h-2zM-12,248.1h1v7.5h-1zM-7,240.9h2v11.8h-2zM1,235.4h1v11.2h-1zM2,241.2h2v6.9h-2zM4,241.2h2v5.5h-2zM8,235.1h2v14.5h-2zM14,235.7h2v14.5h-2zM23,217.8h2v17.5h-2zM29,219.4h1v11.5h-1zM32,217.5h2v10.8h-2zM36,217.7h2v7.6h-2zM38,221.4h2v5.1h-2zM40,221.2h2v17.3h-2zM42,230.1h2v16.9h-2zM45,237.4h2v9.8h-2zM57,194.7h1v7.4h-1zM58,196.6h2v14.9h-2zM64,193.1h2v20.5h-2zM77,178.9h2v12.9h-2zM79,186.2h2v13.0h-2zM81,182.7h2v20.9h-2zM87,185.0h1v12.2h-1zM88,188.0h2v17.8h-2zM98,192.5h2v8.2h-2zM101,196.1h2v17.1h-2zM107,202.2h2v7.9h-2zM109,205.4h2v9.2h-2zM131,153.0h2v6.2h-2zM133,155.4h2v11.6h-2zM135,162.1h2v12.4h-2zM141,162.5h2v9.4h-2zM150,157.6h2v13.5h-2zM159,150.7h2v6.9h-2zM161,149.2h2v13.2h-2zM165,151.4h2v14.3h-2zM169,160.9h2v12.1h-2zM172,160.6h2v15.1h-2zM180,148.4h2v12.2h-2zM187,132.1h2v5.9h-2zM193,131.4h2v16.0h-2zM199,137.5h1v13.3h-1zM204,133.6h2v9.7h-2zM206,135.4h2v9.6h-2zM208,137.9h2v12.1h-2zM210,142.0h2v11.7h-2zM219,130.5h2v14.6h-2zM225,126.6h2v17.0h-2zM227,139.3h2v6.8h-2zM230,135.9h2v17.9h-2zM232,148.8h2v7.5h-2zM234,147.2h2v13.0h-2zM242,147.7h1v5.8h-1zM243,145.8h2v10.8h-2zM247,151.1h2v11.5h-2zM251,151.5h2v11.0h-2zM255,150.6h2v12.4h-2zM257,150.2h1v12.5h-1zM258,155.2h2v11.4h-2zM266,135.4h2v13.7h-2zM268,142.0h2v8.7h-2zM271,137.5h2v11.0h-2zM273,139.5h2v15.4h-2zM277,139.8h2v12.9h-2zM279,142.8h2v11.7h-2zM283,143.3h2v9.4h-2zM288,143.1h2v7.2h-2zM290,143.7h2v14.2h-2zM292,152.0h2v11.2h-2zM294,154.1h2v15.4h-2zM298,159.9h2v9.6h-2zM300,159.6h1v11.4h-1zM301,159.8h2v12.2h-2zM305,159.3h2v11.1h-2zM309,157.8h2v10.5h-2zM311,158.4h2v11.4h-2zM313,165.0h1v10.1h-1zM320,154.1h2v19.7h-2zM322,161.3h2v8.4h-2zM324,160.6h2v19.8h-2zM326,169.2h2v9.8h-2zM329,170.6h2v10.7h-2zM335,165.5h2v17.9h-2zM339,167.8h2v9.3h-2zM341,170.1h1v7.1h-1zM342,169.5h2v9.5h-2zM346,165.9h2v16.2h-2zM352,171.7h2v6.0h-2zM354,172.4h2v10.9h-2zM357,173.8h2v13.0h-2zM365,165.8h2v3.3h-2zM367,163.7h2v8.7h-2zM371,162.6h1v10.6h-1zM376,160.0h2v8.1h-2zM380,159.5h2v7.7h-2zM384,158.8h1v10.9h-1zM393,142.2h2v8.6h-2zM399,137.4h1v8.5h-1zM404,130.8h2v8.8h-2zM410,129.4h2v8.6h-2zM412,130.3h1v9.6h-1zM417,127.0h2v14.1h-2zM419,137.0h2v9.4h-2zM423,141.2h2v20.0h-2zM425,154.8h2v9.1h-2zM427,154.8h1v11.6h-1zM430,155.4h2v12.4h-2zM438,153.8h2v8.0h-2zM440,156.4h1v6.3h-1zM441,157.2h2v9.0h-2zM443,157.1h2v13.6h-2zM445,163.5h2v9.0h-2zM447,166.3h2v12.0h-2zM451,174.5h2v6.0h-2zM453,170.5h2v15.3h-2zM455,178.9h1v16.6h-1zM456,186.2h2v10.7h-2zM462,177.6h2v11.3h-2zM464,179.5h2v13.8h-2zM470,174.3h1v10.3h-1zM473,171.7h2v9.3h-2zM477,174.2h2v10.1h-2zM483,171.9h1v7.4h-1zM484,169.3h2v10.9h-2zM492,158.4h2v14.4h-2zM499,151.7h2v13.3h-2zM501,152.3h2v23.0h-2zM503,162.1h2v6.8h-2zM505,165.0h2v7.8h-2zM511,159.6h1v13.1h-1zM512,168.9h2v8.8h-2zM514,172.8h2v5.2h-2zM516,173.1h2v10.9h-2zM522,164.0h2v11.4h-2zM524,169.0h2v12.1h-2zM527,170.9h2v10.3h-2zM531,169.2h2v6.4h-2zM537,154.0h2v14.8h-2zM539,159.7h2v9.4h-2zM544,157.8h2v13.1h-2zM550,151.8h2v8.5h-2zM552,153.1h2v8.4h-2zM554,155.1h1v19.2h-1zM555,165.4h2v11.6h-2zM557,171.1h2v7.0h-2zM559,171.0h2v11.5h-2zM561,175.8h2v23.8h-2zM567,192.4h2v9.2h-2zM569,196.8h1v10.5h-1zM570,200.5h2v7.7h-2zM576,198.4h2v11.5h-2zM578,205.4h2v6.4h-2zM582,202.0h1v15.0h-1zM583,208.7h2v10.6h-2zM587,212.9h2v5.8h-2zM589,214.5h2v11.4h-2zM595,205.4h2v11.6h-2zM598,200.6h2v16.0h-2zM602,202.5h2v12.7h-2zM604,205.6h2v9.6h-2zM606,206.9h2v17.1h-2zM612,209.7h1v11.0h-1zM613,214.8h2v7.1h-2zM615,216.8h2v16.2h-2zM617,221.8h2v17.1h-2zM619,232.3h2v6.3h-2zM621,230.7h2v9.6h-2zM625,227.5h1v16.1h-1zM626,233.8h2v17.3h-2zM632,228.4h2v11.6h-2zM634,226.9h2v13.4h-2zM638,222.4h2v9.0h-2zM640,225.3h1v9.2h-1zM643,224.0h2v9.7h-2zM645,226.7h2v8.5h-2zM649,229.1h2v10.0h-2zM662,204.4h2v18.1h-2zM666,211.6h2v8.9h-2zM668,216.2h1v12.7h-1zM675,212.8h2v15.5h-2zM692,193.3h2v12.2h-2zM694,202.2h2v13.5h-2zM696,208.2h1v10.7h-1zM697,213.2h2v9.9h-2zM699,214.1h2v7.7h-2zM701,217.4h2v7.4h-2zM709,207.6h2v14.3h-2zM716,208.6h2v7.2h-2zM724,201.2h1v6.9h-1zM725,200.3h2v9.7h-2zM729,196.0h2v17.3h-2zM733,206.1h2v10.5h-2zM737,209.5h2v10.5h-2zM739,216.0h1v7.2h-1zM744,202.7h2v12.2h-2zM746,209.4h2v17.8h-2zM748,220.1h2v9.8h-2zM750,223.1h2v8.3h-2zM752,226.1h2v8.2h-2zM759,213.3h2v9.6h-2zM765,216.8h2v6.9h-2zM768,214.9h2v11.7h-2zM770,219.8h2v12.1h-2zM772,224.9h2v12.7h-2zM774,227.9h2v8.7h-2zM776,229.4h2v16.5h-2zM778,239.6h2v7.4h-2zM780,238.4h2v11.2h-2zM782,243.4h1v8.0h-1zM785,238.7h2v10.7h-2zM787,241.5h2v6.4h-2zM789,244.1h2v7.9h-2zM791,242.7h2v8.7h-2zM793,245.6h2v5.6h-2zM795,247.8h1v11.5h-1zM796,251.6h2v22.2h-2zM800,265.7h2v12.2h-2zM802,267.4h2v11.1h-2zM804,271.4h2v11.8h-2zM808,277.2h2v5.1h-2zM821,247.0h2v7.5h-2zM823,250.7h2v10.2h-2zM826,241.7h2v6.6h-2zM828,244.7h2v9.3h-2zM830,247.5h2v10.7h-2zM838,242.3h1v12.3h-1zM839,246.4h2v10.8h-2zM845,246.0h2v11.0h-2zM847,248.6h2v6.5h-2zM849,249.1h2v11.7h-2zM851,254.0h2v10.4h-2zM854,251.1h2v9.2h-2zM858,249.1h2v8.9h-2zM860,252.8h2v13.0h-2zM864,244.4h2v6.5h-2zM867,240.0h2v12.0h-2zM869,245.4h2v6.5h-2zM873,240.8h2v8.5h-2zM884,226.7h2v16.5h-2zM886,235.1h2v20.8h-2zM888,251.8h2v24.3h-2zM890,264.0h2v15.3h-2zM895,268.3h2v9.1h-2zM897,269.4h2v13.4h-2zM903,266.0h2v11.9h-2zM905,266.1h2v14.9h-2zM909,284.0h2v341.0h-2zM912,312.0h2v60.0h-2zM918,328.6h2v21.2h-2zM920,338.9h2v34.8h-2zM922,357.8h2v11.8h-2zM931,320.2h2v37.9h-2zM940,318.6h2v21.6h-2zM944,323.6h2v20.6h-2zM950,321.2h2v13.6h-2zM952,325.8h1v9.7h-1zM959,310.2h2v14.8h-2zM961,320.1h2v15.2h-2zM963,325.2h2v8.1h-2zM968,324.5h2v18.3h-2zM970,333.3h2v4.6h-2zM972,332.6h2v20.9h-2zM974,347.1h2v13.0h-2zM978,345.6h2v14.5h-2zM980,348.3h1v13.6h-1zM981,343.6h2v16.8h-2zM983,353.0h2v14.5h-2zM989,347.7h2v22.6h-2zM991,361.5h2v17.0h-2zM993,368.7h2v15.5h-2zM995,379.0h1v15.9h-1zM996,389.4h2v11.2h-2zM998,391.6h2v6.7h-2zM1008,368.2h1v11.7h-1zM1009,375.2h2v9.2h-2zM1015,368.1h2v12.0h-2zM1017,373.8h2v7.9h-2zM1021,374.2h2v9.3h-2zM1024,370.7h2v4.4h-2zM1032,352.7h2v9.6h-2zM1034,357.1h2v9.6h-2zM1037,360.3h2v10.3h-2zM1039,366.1h2v8.4h-2zM1041,369.2h2v13.5h-2zM1047,375.3h2v11.3h-2zM1049,378.4h2v9.0h-2zM1058,363.8h2v14.1h-2zM1060,370.9h2v9.7h-2zM1075,324.4h2v10.0h-2zM1079,322.9h1v13.3h-1zM1084,316.1h2v9.6h-2zM1088,317.5h2v14.6h-2zM1092,323.7h2v5.8h-2zM1099,314.8h2v13.4h-2zM1103,319.0h2v15.4h-2zM1105,325.7h2v9.7h-2zM1108,329.3h2v12.0h-2zM1112,335.2h2v14.4h-2zM1116,341.3h2v12.6h-2zM1131,285.7h2v12.5h-2zM1133,290.7h2v9.7h-2zM1137,290.2h1v20.3h-1zM1138,302.4h2v18.5h-2zM1140,313.3h2v10.8h-2zM1142,319.1h2v12.4h-2zM1146,314.6h2v14.4h-2zM1151,308.0h2v10.5h-2zM1153,312.9h2v8.2h-2zM1155,314.5h2v16.2h-2zM1165,310.7h1v9.7h-1zM1187,265.1h2v13.8h-2zM1189,273.1h2v4.9h-2zM1191,274.5h2v12.0h-2zM1193,276.1h1v16.1h-1zM1194,285.4h2v8.7h-2zM1196,289.3h2v9.3h-2zM1200,290.5h2v21.3h-2zM1204,295.3h2v8.3h-2zM1206,296.4h2v8.9h-2zM1208,298.7h1v23.7h-1zM1209,311.8h2v16.6h-2zM1211,321.0h2v10.9h-2zM1213,322.1h2v9.9h-2zM1215,326.1h2v15.5h-2zM1217,337.6h2v8.8h-2zM1222,336.8h2v5.4h-2zM1224,336.0h2v15.2h-2zM1226,342.6h2v13.6h-2zM1228,351.0h2v6.7h-2zM1230,354.3h2v6.0h-2zM1234,351.5h2v12.2h-2zM1236,355.9h1v9.3h-1zM1237,351.0h2v18.9h-2zM1252,309.2h2v7.9h-2zM1254,311.4h2v13.1h-2zM1256,318.0h2v10.0h-2zM1260,323.4h2v7.9h-2zM1262,326.1h2v7.4h-2zM1264,326.3h1v15.7h-1zM1267,330.1h2v7.7h-2zM1271,329.9h2v7.3h-2zM1275,325.5h2v10.8h-2zM1278,327.5h2v10.3h-2zM1280,328.6h2v13.8h-2zM1282,337.9h2v10.6h-2zM1286,336.8h2v7.7h-2zM1292,337.3h1v11.7h-1zM1293,344.8h2v4.1h-2zM1295,344.6h2v7.6h-2zM1301,337.9h2v6.6h-2zM1303,340.6h2v7.0h-2zM1314,303.2h2v15.8h-2zM1318,308.5h2v6.2h-2zM1321,305.3h2v12.1h-2zM1323,310.4h2v15.5h-2zM1325,318.1h2v7.9h-2zM1327,320.6h2v9.6h-2zM1329,326.2h2v12.7h-2zM1335,331.2h1v4.8h-1zM1338,326.8h2v22.3h-2zM1340,340.1h2v6.7h-2zM1342,342.6h2v12.1h-2zM1344,348.3h2v7.3h-2zM1349,342.7h2v10.9h-2zM1351,348.0h2v9.6h-2zM1353,351.5h2v10.9h-2zM1357,349.9h2v14.6h-2zM1359,356.9h2v7.2h-2zM1363,353.0h1v13.2h-1zM1364,361.5h2v10.4h-2zM1366,367.6h2v15.5h-2zM1372,365.3h2v10.8h-2zM1381,360.4h2v13.3h-2zM1389,364.1h2v12.1h-2zM1392,363.3h2v9.1h-2zM1400,362.0h2v10.2h-2zM1402,360.2h2v17.7h-2zM1409,343.5h2v7.1h-2zM1419,332.9h1v14.9h-1zM1420,343.2h2v12.3h-2zM1422,349.5h2v10.7h-2zM1424,352.9h2v10.6h-2zM1426,357.8h2v14.6h-2zM1428,366.2h2v9.6h-2zM1432,369.5h2v5.8h-2zM1439,359.5h2v9.5h-2zM1441,365.3h2v5.0h-2zM1443,365.2h2v8.9h-2zM1445,370.7h2v10.8h-2zM1447,374.4h2v8.4h-2zM1449,379.2h1v10.3h-1zM1450,380.7h2v12.0h-2zM1458,377.5h2v6.1h-2zM1463,372.9h2v13.0h-2zM1471,369.1h2v10.5h-2zM1473,371.8h2v7.0h-2zM1475,372.5h2v5.5h-2zM1477,371.6h1v8.7h-1zM1478,374.6h2v9.4h-2zM1480,377.2h2v12.1h-2zM1482,384.4h2v15.5h-2zM1484,395.9h2v24.2h-2zM1486,412.3h2v18.0h-2zM1488,426.9h2v14.3h-2zM1495,424.1h2v7.1h-2zM1506,400.9h2v11.4h-2zM1510,401.9h2v5.9h-2zM1512,400.3h2v17.9h-2zM1514,411.2h2v18.0h-2zM1521,402.6h2v11.1h-2zM1523,403.7h2v9.5h-2zM1529,404.0h2v9.2h-2zM1531,406.1h2v11.1h-2zM1533,411.2h1v8.3h-1zM1538,400.5h2v11.5h-2zM1544,404.7h2v9.9h-2zM1549,404.5h2v13.8h-2zM1551,412.8h2v9.1h-2zM1555,407.5h2v8.7h-2zM1557,410.3h2v10.5h-2zM1561,410.8h1v6.5h-1zM1562,410.5h2v13.1h-2zM1566,416.3h2v7.3h-2zM1572,407.0h2v8.5h-2zM1576,404.6h1v6.0h-1zM1577,404.8h2v11.1h-2zM1583,395.5h2v6.4h-2zM1585,397.2h2v4.1h-2zM1587,397.4h2v10.8h-2zM1594,388.7h2v14.5h-2zM1596,399.5h2v8.2h-2zM1598,400.7h2v7.8h-2zM1605,397.2h2v6.3h-2zM1607,399.6h2v6.2h-2zM1609,401.2h2v13.6h-2zM1617,390.4h2v10.0h-2zM1624,390.8h2v10.7h-2zM1632,381.2h1v8.9h-1zM1639,377.9h2v9.6h-2zM1641,380.8h2v10.0h-2zM1643,385.1h2v6.5h-2zM1645,384.7h2v12.2h-2zM1650,382.3h2v14.9h-2zM1656,382.4h2v4.3h-2zM1658,382.6h2v9.9h-2zM1660,385.3h2v11.4h-2zM1662,392.5h1v6.9h-1zM1669,387.4h2v10.8h-2zM1671,391.8h2v13.9h-2zM1684,367.5h2v11.3h-2zM1691,361.6h2v8.2h-2zM1693,362.3h2v9.4h-2zM1703,349.6h1v10.0h-1zM1704,352.8h2v7.0h-2zM1708,354.0h2v7.0h-2zM1710,356.7h2v7.7h-2zM1712,358.3h2v7.4h-2zM1716,360.6h2v14.6h-2zM1718,367.7h1v9.6h-1zM1723,360.1h2v5.6h-2zM1725,360.3h2v13.1h-2zM1727,364.5h2v19.7h-2zM1729,377.5h2v8.0h-2zM1731,379.0h1v6.4h-1zM1732,378.6h2v7.9h-2zM1734,382.5h2v5.6h-2zM1744,348.3h2v5.4h-2zM1746,346.8h1v18.6h-1zM1751,348.7h2v9.6h-2zM1757,349.1h2v13.8h-2zM1759,357.3h2v5.0h-2zM1761,356.5h1v8.5h-1zM1764,354.4h2v7.0h-2zM1766,355.3h2v7.7h-2zM1768,356.7h2v6.1h-2zM1770,359.4h2v6.4h-2zM1779,341.3h2v4.9h-2zM1781,339.9h2v6.1h-2zM1785,338.2h2v9.9h-2zM1787,337.8h2v15.7h-2zM1789,344.2h1v7.9h-1zM1790,346.6h2v16.1h-2zM1792,357.7h2v8.0h-2zM1796,356.4h2v10.7h-2zM1798,361.7h2v8.8h-2zM1800,362.6h2v6.1h-2zM1802,364.4h1v4.7h-1zM1809,356.7h2v10.8h-2zM1811,362.5h2v13.7h-2zM1813,369.9h2v6.1h-2zM1815,370.6h2v6.3h-2zM1822,362.4h2v7.8h-2zM1824,363.0h2v13.0h-2zM1826,373.1h2v13.4h-2zM1830,376.6h2v6.4h-2zM1832,378.8h1v10.6h-1zM1833,382.3h2v9.4h-2zM1835,384.5h2v8.5h-2zM1837,389.3h2v9.0h-2zM1839,390.2h2v13.4h-2zM1843,398.6h2v9.0h-2zM1846,400.7h2v7.5h-2zM1848,403.7h2v9.1h-2zM1854,398.6h2v5.3h-2zM1867,383.2h2v13.1h-2zM1880,350.4h2v17.4h-2zM1882,364.1h2v8.1h-2zM1884,369.4h2v9.1h-2zM1886,370.5h2v12.3h-2zM1889,376.0h2v8.7h-2zM1891,377.9h2v8.1h-2zM1893,379.8h2v13.8h-2zM1895,388.4h2v16.1h-2zM1897,397.0h2v12.1h-2zM1903,401.1h1v14.1h-1zM1904,410.1h2v5.8h-2zM1906,412.1h2v6.2h-2zM1910,407.8h2v12.7h-2zM1917,403.2h2v7.2h-2zM1919,403.5h2v10.0h-2zM1923,406.6h2v6.9h-2zM1925,407.8h2v9.6h-2zM1931,409.4h1v8.4h-1zM1934,410.5h2v8.8h-2zM1938,410.0h2v9.5h-2zM1940,411.2h2v11.2h-2zM1944,409.4h1v5.0h-1zM1953,391.4h2v7.0h-2zM1955,392.9h2v11.3h-2zM1960,390.1h2v9.4h-2zM1962,394.7h2v10.9h-2zM1966,386.5h2v9.4h-2zM1970,391.5h2v13.5h-2zM1977,391.5h2v10.8h-2zM1979,396.9h2v5.5h-2zM1983,389.9h2v17.0h-2zM1987,401.0h1v12.3h-1zM2005,356.6h2v6.2h-2zM2007,355.9h2v14.4h-2zM2009,360.7h2v7.3h-2zM2011,363.7h2v9.4h-2zM2013,367.7h2v9.7h-2zM2015,371.5h1v10.6h-1zM2022,348.5h2v7.2h-2zM2024,351.1h2v8.5h-2zM2026,349.8h2v8.5h-2zM2030,339.3h1v5.8h-1zM2033,329.8h2v12.6h-2zM2037,335.8h2v7.8h-2zM2039,337.9h2v8.3h-2zM2041,341.3h2v9.9h-2zM2046,319.8h2v10.5h-2zM2050,324.7h2v8.3h-2zM2052,325.9h2v5.9h-2zM2056,319.5h2v12.6h-2zM2058,326.9h1v10.2h-1zM2061,332.0h2v8.1h-2zM2063,335.1h2v8.4h-2zM2067,334.9h2v6.3h-2zM2073,332.8h1v10.2h-1zM2084,323.2h2v12.0h-2zM2091,317.8h2v11.3h-2zM2093,321.2h2v14.2h-2zM2095,331.0h2v13.0h-2zM2099,330.6h2v8.0h-2zM2104,324.0h2v5.1h-2zM2108,315.6h2v10.8h-2zM2110,318.4h2v7.5h-2zM2115,309.4h2v9.8h-2zM2117,311.2h2v10.9h-2zM2119,314.7h2v8.9h-2zM2121,319.7h2v6.1h-2zM2123,321.1h2v6.2h-2zM2125,322.9h2v9.0h-2zM2127,325.6h2v12.2h-2zM2134,317.2h2v8.2h-2zM2138,319.6h2v13.0h-2zM2140,327.9h2v12.1h-2zM2142,333.2h2v9.4h-2zM2144,335.4h1v6.1h-1zM2145,334.0h2v9.1h-2zM2147,339.2h2v5.8h-2zM2149,339.9h2v8.4h-2zM2153,341.1h2v5.8h-2zM2157,334.5h1v12.3h-1zM2164,323.4h2v12.9h-2zM2168,322.5h2v16.9h-2zM2172,326.7h1v23.8h-1zM2173,341.4h2v5.3h-2zM2177,341.6h2v5.0h-2zM2179,342.3h2v11.2h-2zM2185,326.2h1v11.7h-1zM2190,319.4h2v12.5h-2zM2194,319.9h2v9.5h-2zM2196,323.8h2v7.9h-2zM2200,322.7h1v9.4h-1zM2203,318.5h2v9.2h-2zM2209,316.8h2v11.4h-2zM2224,299.7h2v5.4h-2zM2228,298.4h1v8.2h-1zM2229,298.5h2v13.8h-2zM2233,304.3h2v7.9h-2zM2237,299.8h2v12.4h-2zM2248,267.9h2v6.5h-2zM2250,266.6h2v6.3h-2zM2252,268.9h2v7.6h-2zM2263,245.3h2v5.2h-2zM2265,244.0h2v8.2h-2zM2267,248.0h2v9.5h-2zM2269,250.8h2v12.1h-2zM2272,252.0h2v8.3h-2zM2276,253.0h2v7.9h-2zM2278,254.6h2v14.8h-2zM2284,254.6h2v10.9h-2zM2297,235.4h2v6.5h-2zM2304,218.3h2v11.8h-2zM2312,182.5h2v14.4h-2zM2314,186.3h1v6.4h-1zM2317,180.9h2v21.2h-2zM2325,188.8h2v13.3h-2zM2327,195.1h1v11.7h-1zM2334,189.2h2v7.7h-2zM2336,190.8h2v11.5h-2zM2340,188.5h2v5.5h-2zM2342,185.6h1v18.2h-1zM2351,178.0h2v9.9h-2zM2353,182.1h2v8.2h-2zM2355,180.9h2v12.7h-2zM2358,178.7h2v8.9h-2zM2362,180.5h2v10.3h-2zM2364,180.2h2v10.1h-2zM2375,156.1h2v6.3h-2zM2377,157.8h2v16.0h-2zM2381,157.4h2v25.9h-2zM2383,176.8h2v12.1h-2zM2385,179.0h1v13.5h-1zM2386,187.6h2v19.2h-2zM2388,200.7h2v8.3h-2zM2390,203.7h2v8.4h-2zM2398,183.7h1v18.1h-1zM2403,191.3h2v11.3h-2zM2405,194.5h2v12.1h-2zM2409,196.0h2v7.8h-2zM2411,196.9h2v11.5h-2zM2413,200.0h1v12.3h-1zM2414,204.6h2v4.8h-2zM2420,195.3h2v9.9h-2zM2422,196.9h2v9.7h-2zM2424,196.3h2v13.7h-2zM2431,193.9h2v19.4h-2zM2435,196.5h2v7.9h-2zM2439,198.6h2v11.4h-2zM2441,204.4h1v12.9h-1zM2444,201.1h2v12.4h-2zM2448,195.5h2v15.8h-2zM2456,183.2h1v19.9h-1zM2457,195.7h2v11.8h-2zM2459,203.2h2v6.4h-2zM2465,192.7h2v13.4h-2zM2474,187.6h2v12.1h-2zM2476,195.5h2v9.5h-2zM2478,196.7h2v10.5h-2zM2480,193.9h2v9.0h-2zM2482,196.4h2v8.7h-2zM2484,199.2h1v11.0h-1zM2491,187.4h2v12.5h-2zM2497,154.8h2v8.7h-2zM2499,153.1h1v23.1h-1zM2500,168.1h2v27.6h-2zM2502,188.3h2v12.7h-2zM2508,188.1h2v9.4h-2zM2512,187.0h1v12.9h-1zM2513,192.0h2v12.4h-2zM2515,197.7h2v9.5h-2zM2521,194.8h2v12.1h-2zM2525,192.6h2v9.2h-2zM2532,183.2h2v8.8h-2zM2536,181.2h2v5.7h-2zM2538,180.4h2v6.9h-2zM2541,180.4h2v3.8h-2zM2547,175.2h2v9.0h-2zM2549,174.4h2v10.1h-2z" fill="#f23645"/>
<path d="M2425,166.9h145v34.1h-145a3,3 0 0 1 -3,-3v-28.1a3,3 0 0 1 3,-3z" fill="#089981"/>
<g fill="none" stroke="#9c27b0" stroke-width="2.7"><circle cx="2550.2" cy="650.9" r="19.6"/></g>
<path d="M2555.4,640L2556.8,641.3L2551,650L2558.9,650L2545.2,661.6L2543.6,660.4L2549.3,651.9L2541.1,651.9Z" fill="#9c27b0" stroke="#9c27b0" stroke-width="0.6" stroke-linejoin="round"/>
</g>
<g fill="#131313"><path d="M24,776h23.8v29.8h-12v-17.7h-11.8z"/><circle cx="57.8" cy="781.8" r="6"/><path d="M69.4,776h14.4l-11.2,29.8h-14.1z"/></g>
</svg>
<div class="tag" style="top:133px;height:33.8px;background:#f23645"></div>
<div class="tag" style="top:167.1px;height:61.9px;background:#089981"></div>
<div class="tag" style="top:229.3px;height:33.9px;background:#2962ff"></div>
<div class="tag" style="top:263.4px;height:33.2px;background:#089981"></div>
<div class="usd"></div>
<div class="oct"><span class="t" id="oct" style="left:-18.2px;top:8.8px;font-size:25.5px;line-height:32px;font-weight:700;color:#131722">Oct</span></div>
<span id="hdr" class="t" style="left:20.89px;top:15.7px;font-size:24px;line-height:32px;color:#131722;font-weight:400;letter-spacing:0.665px">josephalalade created with TradingView.com, Oct 29, 2025 04:17 UTC</span><span id="l1a" class="t" style="left:35.82px;top:71.0px;font-size:23px;line-height:30px;color:#131722;font-weight:400;letter-spacing:0.852px">Hyperliquid · 30 · CRYPTO</span><span id="l1o" class="t" style="left:346.66px;top:71.0px;font-size:23px;line-height:30px;color:#131722;font-weight:400;letter-spacing:0.000px">O</span><span id="l1ov" class="t" style="left:366.60px;top:71.0px;font-size:23px;line-height:30px;color:#089981;font-weight:400;letter-spacing:1.000px">47.814</span><span id="l1h" class="t" style="left:453.41px;top:71.0px;font-size:23px;line-height:30px;color:#131722;font-weight:400;letter-spacing:0.000px">H</span><span id="l1hv" class="t" style="left:471.36px;top:71.0px;font-size:23px;line-height:30px;color:#089981;font-weight:400;letter-spacing:1.000px">47.977</span><span id="l1l" class="t" style="left:559.82px;top:71.0px;font-size:23px;line-height:30px;color:#131722;font-weight:400;letter-spacing:0.000px">L</span><span id="l1lv" class="t" style="left:573.86px;top:71.0px;font-size:23px;line-height:30px;color:#089981;font-weight:400;letter-spacing:1.000px">47.779</span><span id="l1c" class="t" style="left:662.61px;top:71.0px;font-size:23px;line-height:30px;color:#131722;font-weight:400;letter-spacing:0.000px">C</span><span id="l1cv" class="t" style="left:680.86px;top:71.0px;font-size:23px;line-height:30px;color:#089981;font-weight:400;letter-spacing:1.000px">47.902</span><span id="l1d" class="t" style="left:771.00px;top:71.0px;font-size:23px;line-height:30px;color:#089981;font-weight:400;letter-spacing:1.878px">+0.088</span><span id="l1p" class="t" style="left:860.33px;top:71.0px;font-size:23px;line-height:30px;color:#089981;font-weight:400;letter-spacing:1.000px">(+0.18%)</span><span id="l2" class="t" style="left:37.53px;top:105.0px;font-size:23px;line-height:30px;color:#131722;font-weight:400;letter-spacing:1.188px">Vol: The data vendor doesn't provide volume data for this symbol.</span><span id="l3a" class="t" style="left:35.82px;top:139.0px;font-size:23px;line-height:30px;color:#131722;font-weight:400;letter-spacing:0.985px">BB (20, SMA, close, 2)</span><span id="l3b" class="t" style="left:303.86px;top:139.0px;font-size:23px;line-height:30px;color:#2962ff;font-weight:400;letter-spacing:1.000px">47.655</span><span id="l3c" class="t" style="left:395.46px;top:139.0px;font-size:23px;line-height:30px;color:#f23645;font-weight:400;letter-spacing:1.000px">48.742</span><span id="l3d" class="t" style="left:487.60px;top:139.0px;font-size:23px;line-height:30px;color:#089981;font-weight:400;letter-spacing:1.000px">46.568</span><span id="ax40" class="t" style="left:2588.83px;top:311.1px;font-size:24.5px;line-height:32px;color:#131722;font-weight:400;letter-spacing:1.350px">40.000</span><span id="ax36" class="t" style="left:2588.00px;top:383.3px;font-size:24.5px;line-height:32px;color:#131722;font-weight:400;letter-spacing:1.350px">36.000</span><span id="ax32" class="t" style="left:2588.00px;top:455.5px;font-size:24.5px;line-height:32px;color:#131722;font-weight:400;letter-spacing:1.350px">32.000</span><span id="ax28" class="t" style="left:2588.00px;top:527.6px;font-size:24.5px;line-height:32px;color:#131722;font-weight:400;letter-spacing:1.350px">28.000</span><span id="ax24" class="t" style="left:2588.00px;top:599.6px;font-size:24.5px;line-height:32px;color:#131722;font-weight:400;letter-spacing:1.350px">24.000</span><span id="usd" class="t" style="left:2595.83px;top:72.5px;font-size:23.6px;line-height:31px;color:#0c0e15;font-weight:400;letter-spacing:0.304px">USD</span><span id="t1" class="t" style="left:2588.83px;top:134.7px;font-size:24.5px;line-height:32px;color:#fff;font-weight:400;letter-spacing:1.350px">48.742</span><span id="t2" class="t" style="left:2588.83px;top:168.0px;font-size:24.5px;line-height:32px;color:#fff;font-weight:400;letter-spacing:1.350px">47.902</span><span id="t3" class="t" style="left:2589.50px;top:196.1px;font-size:24.5px;line-height:32px;color:rgba(255,255,255,.72);font-weight:400;letter-spacing:0.875px">12:44</span><span id="t4" class="t" style="left:2588.83px;top:230.0px;font-size:24.5px;line-height:32px;color:#fff;font-weight:400;letter-spacing:1.350px">47.655</span><span id="t5" class="t" style="left:2588.83px;top:264.3px;font-size:24.5px;line-height:32px;color:#fff;font-weight:400;letter-spacing:1.350px">46.568</span><span id="sym" class="t" style="left:2430.23px;top:168.0px;font-size:24.5px;line-height:32px;color:#fff;font-weight:400;letter-spacing:-0.755px">HYPEHUSD</span><span id="d3" class="t" style="left:196.66px;top:689.5px;font-size:24.5px;line-height:32px;color:#131722;font-weight:400;letter-spacing:0.000px">3</span><span id="d5" class="t" style="left:375.68px;top:689.5px;font-size:24.5px;line-height:32px;color:#131722;font-weight:400;letter-spacing:0.000px">5</span><span id="d7" class="t" style="left:555.39px;top:689.5px;font-size:24.5px;line-height:32px;color:#131722;font-weight:400;letter-spacing:0.000px">7</span><span id="d9" class="t" style="left:734.82px;top:689.5px;font-size:24.5px;line-height:32px;color:#131722;font-weight:400;letter-spacing:0.000px">9</span><span id="d11" class="t" style="left:907.36px;top:689.5px;font-size:24.5px;line-height:32px;color:#131722;font-weight:400;letter-spacing:0.600px">11</span><span id="d13" class="t" style="left:1085.26px;top:689.5px;font-size:24.5px;line-height:32px;color:#131722;font-weight:400;letter-spacing:1.600px">13</span><span id="d15" class="t" style="left:1264.80px;top:689.5px;font-size:24.5px;line-height:32px;color:#131722;font-weight:400;letter-spacing:1.600px">15</span><span id="d17" class="t" style="left:1444.03px;top:689.5px;font-size:24.5px;line-height:32px;color:#131722;font-weight:400;letter-spacing:1.600px">17</span><span id="d19" class="t" style="left:1623.38px;top:689.5px;font-size:24.5px;line-height:32px;color:#131722;font-weight:400;letter-spacing:1.600px">19</span><span id="d21" class="t" style="left:1803.17px;top:689.5px;font-size:24.5px;line-height:32px;color:#131722;font-weight:400;letter-spacing:1.600px">21</span><span id="d23" class="t" style="left:1982.64px;top:689.5px;font-size:24.5px;line-height:32px;color:#131722;font-weight:400;letter-spacing:1.600px">23</span><span id="d25" class="t" style="left:2161.64px;top:689.5px;font-size:24.5px;line-height:32px;color:#131722;font-weight:400;letter-spacing:1.600px">25</span><span id="d27" class="t" style="left:2341.36px;top:689.5px;font-size:24.5px;line-height:32px;color:#131722;font-weight:400;letter-spacing:1.600px">27</span><span id="d29" class="t" style="left:2520.54px;top:689.5px;font-size:24.5px;line-height:32px;color:#131722;font-weight:400;letter-spacing:1.600px">29</span><span id="logo" class="t" style="left:97.84px;top:763.9px;font-size:41.6px;line-height:55px;color:#131313;font-weight:700;letter-spacing:-0.252px">TradingView</span>
</body></html>
